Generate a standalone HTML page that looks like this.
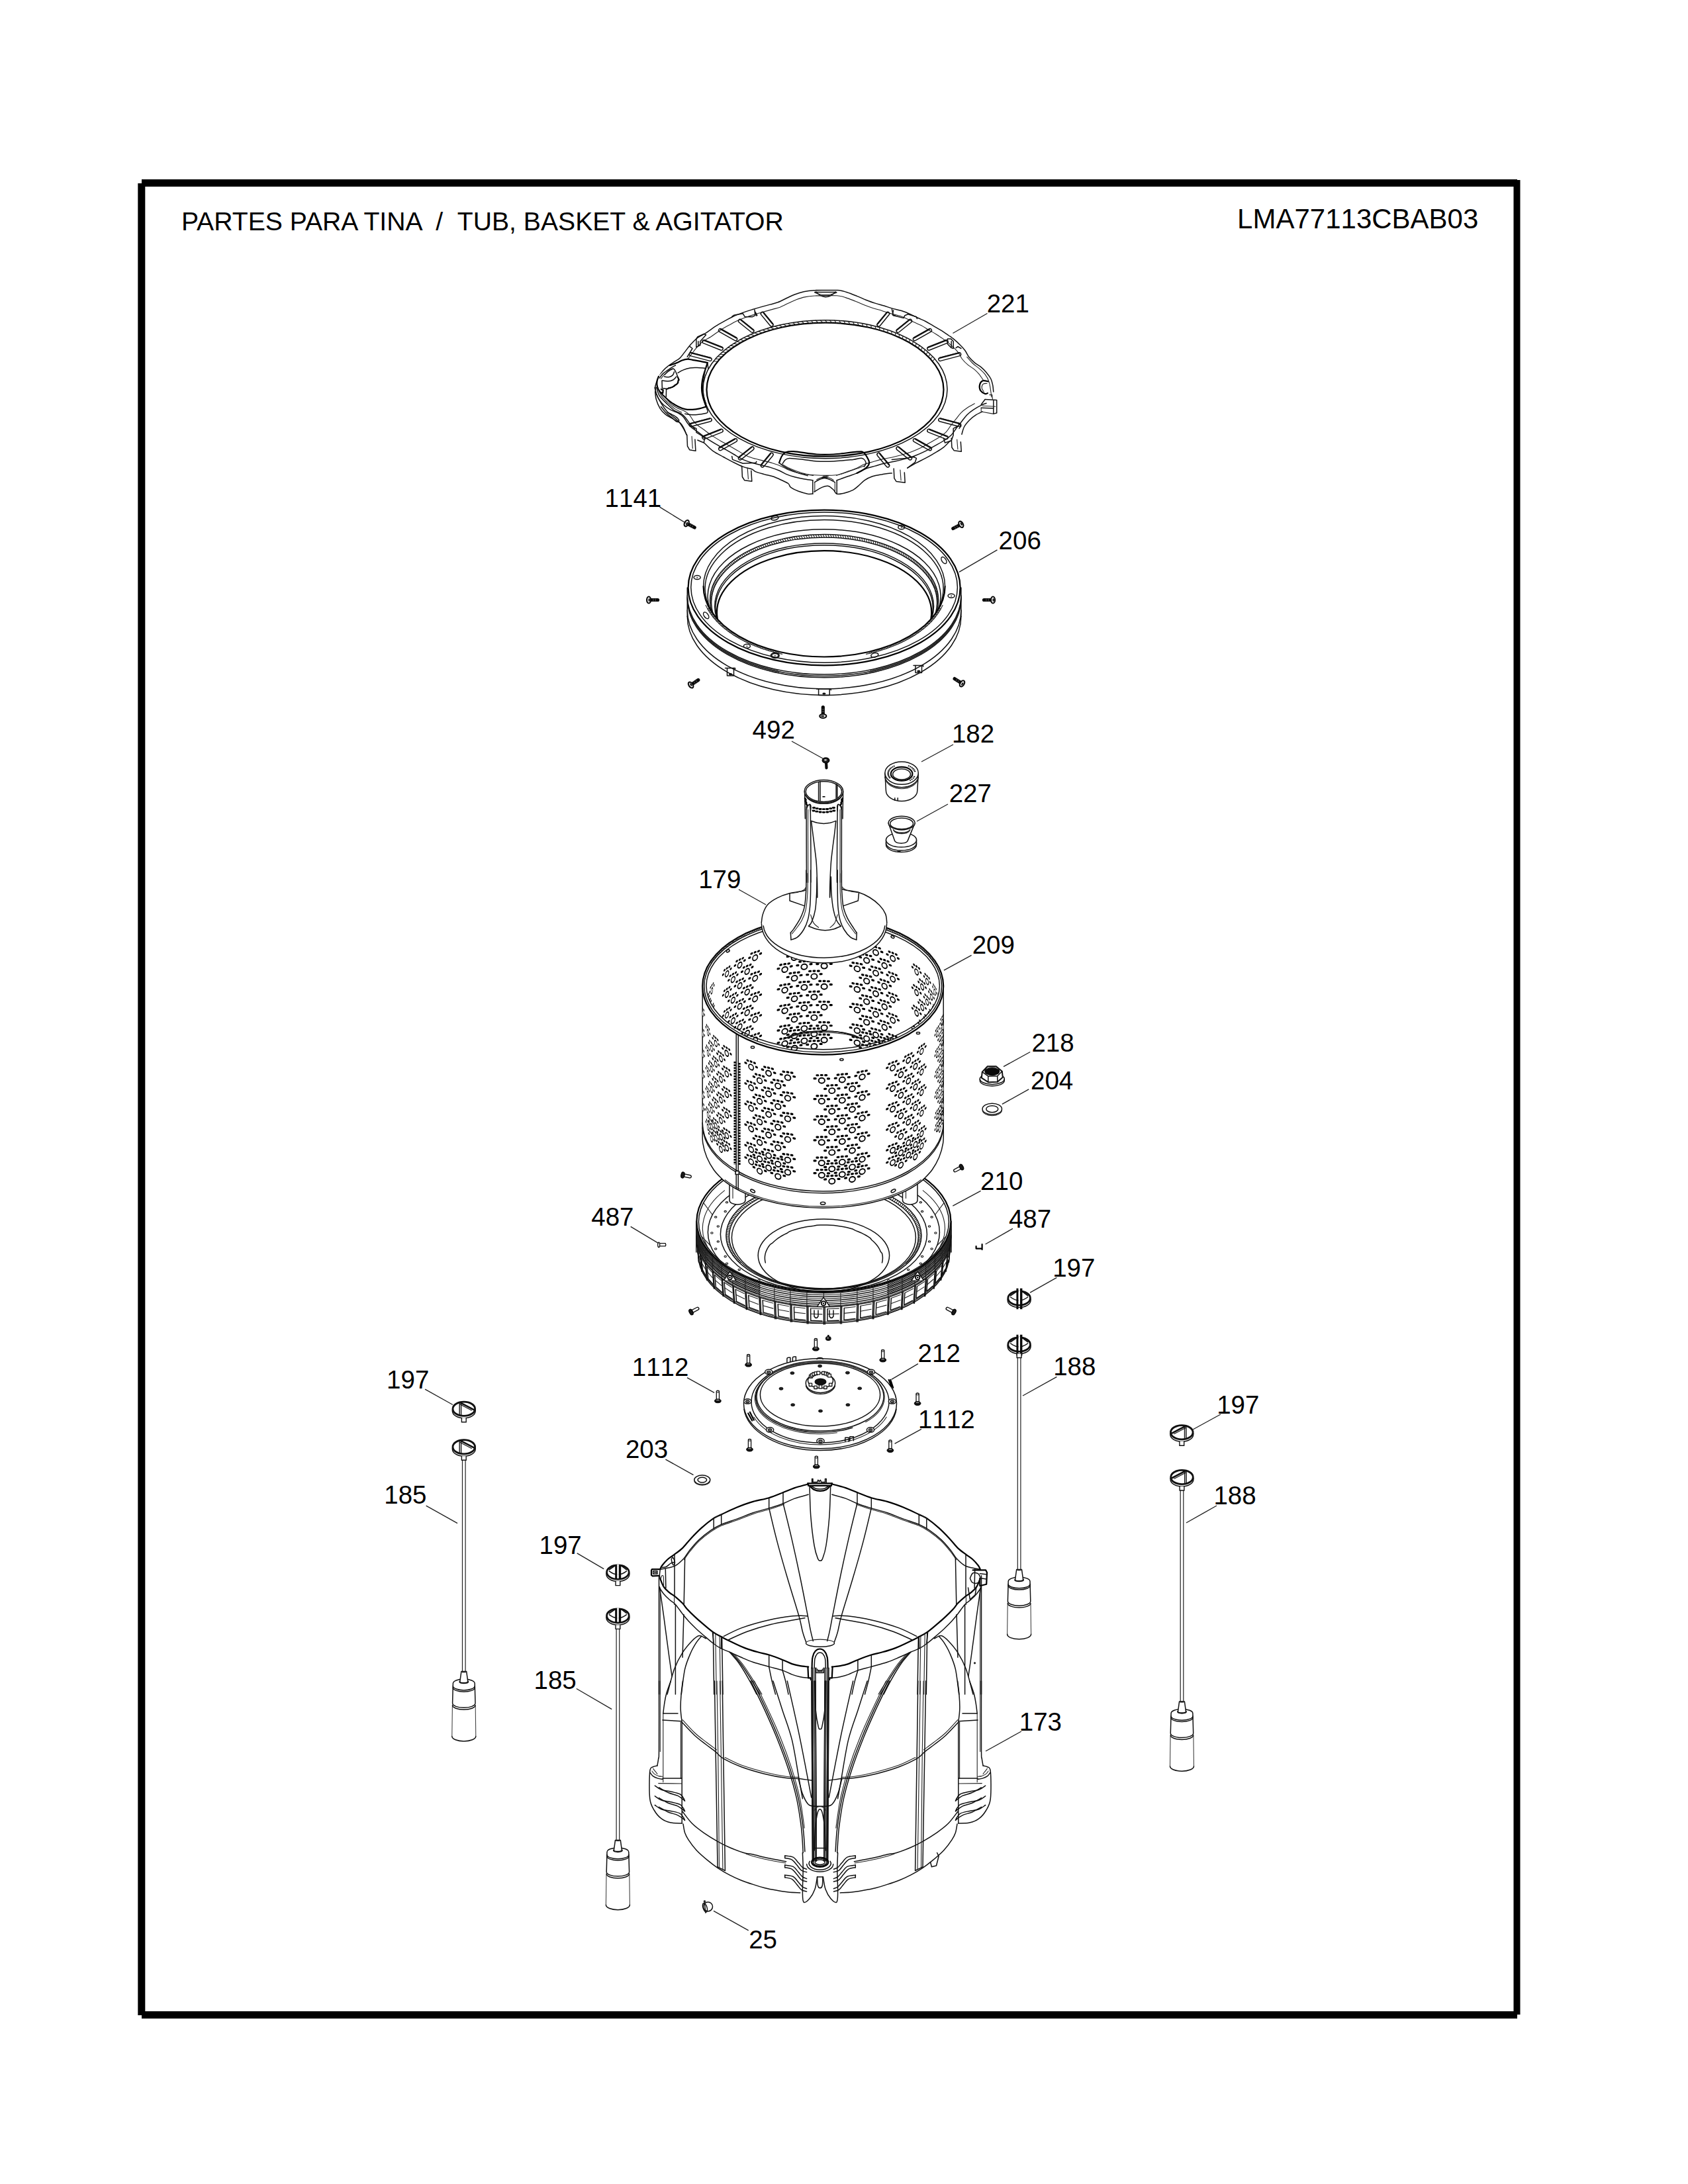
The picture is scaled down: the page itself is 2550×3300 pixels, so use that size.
<!DOCTYPE html>
<html><head><meta charset="utf-8"><title>Tub, Basket &amp; Agitator</title>
<style>
html,body{margin:0;padding:0;background:#fff;}
body{width:2550px;height:3300px;overflow:hidden;}
svg{display:block;position:absolute;left:0;top:0;}
text{font-family:"Liberation Sans",sans-serif;font-kerning:none;fill:#000;}
.l{fill:none;stroke:#111;stroke-width:1.5;stroke-linecap:round;stroke-linejoin:round;}
.t{fill:none;stroke:#222;stroke-width:1.1;stroke-linecap:round;stroke-linejoin:round;}
.h{fill:none;stroke:#000;stroke-width:2.2;stroke-linecap:round;stroke-linejoin:round;}
.w{fill:#fff;stroke:#111;stroke-width:1.5;stroke-linecap:round;stroke-linejoin:round;}
.k{fill:#111;stroke:#111;stroke-width:1;stroke-linejoin:round;}
.ld{fill:none;stroke:#222;stroke-width:1.4;}
</style></head><body>
<svg xmlns="http://www.w3.org/2000/svg" width="2550" height="3300" viewBox="0 0 2550 3300">
<g id="frame"><path d="M214 276.5H2292" stroke="#000" stroke-width="11" fill="none"/><path d="M213.8 277V3045" stroke="#000" stroke-width="11" fill="none"/><path d="M2291.5 272V3044" stroke="#000" stroke-width="10" fill="none"/><path d="M214 3044.5H2292" stroke="#000" stroke-width="11" fill="none"/><text x="273.9" y="348" font-size="39.15" style="font-kerning:normal">PARTES PARA TINA &#160;/ &#160;TUB, BASKET &amp; AGITATOR</text><text x="1869.1" y="345" font-size="42">LMA77113CBAB03</text></g>
<g id="p221"><path class="l" d="M989.3 586.2C989.7 584.9 990.3 581.5 991.3 578.7C992.3 576 993.4 572.7 995.2 569.6C997 566.4 999.6 562.6 1002 559.8C1004.5 557 1007.1 554.7 1009.9 552.6C1012.6 550.4 1015.9 548.5 1018.7 546.7C1021.4 544.9 1024 543.8 1026.5 541.6C1028.9 539.4 1030.9 536.5 1033.3 533.4C1035.8 530.3 1039 525.8 1041.1 523.2C1043.3 520.6 1043.9 519.9 1046 517.8C1048.1 515.6 1050.6 512.7 1053.8 510.3C1057.1 508 1062 505.9 1065.6 503.7C1069.2 501.4 1072.1 499 1075.3 496.8C1078.6 494.6 1081.9 492.4 1085.1 490.4C1088.4 488.4 1091.3 486.9 1094.9 484.9C1098.5 483 1102.1 480.7 1106.6 478.7C1111.2 476.6 1117.4 474.2 1122.3 472.4C1127.2 470.6 1131.7 469.2 1136 467.9C1140.2 466.6 1143.1 465.7 1147.7 464.4C1152.2 463.1 1158.8 461.3 1163.3 460.1C1167.9 458.8 1170.8 458.4 1175.1 456.8C1179.3 455.1 1184.5 452.3 1188.7 450.3C1193 448.3 1196.2 446.6 1200.5 445C1204.7 443.4 1209.3 441.8 1214.2 440.7C1219 439.7 1223.9 439.1 1229.8 438.8C1235.7 438.4 1249 438.6 1249.3 438.6C1249.7 438.5 1229.3 438.6 1232 438.6C1234.6 438.6 1257.4 438.1 1265.2 438.6C1273 439.1 1274 440 1278.9 441.5C1283.8 443 1289.6 445.4 1294.5 447.4C1299.4 449.3 1303.6 451.4 1308.2 453.2C1312.8 455 1317.3 456.7 1321.9 458.1C1326.4 459.6 1331.3 460.7 1335.6 462C1339.8 463.3 1342.1 464.4 1347.3 465.9C1352.5 467.5 1360.3 468.8 1366.9 471.2C1373.4 473.6 1381.2 477.8 1386.4 480.2C1391.6 482.6 1394.2 483.5 1398.1 485.5C1402 487.5 1406 490.1 1409.9 492.3C1413.8 494.6 1417.7 496.7 1421.6 499.2C1425.5 501.6 1430.2 504.9 1433.3 507C1436.4 509.1 1437.2 509.4 1440.2 511.9C1443.1 514.3 1448 518.7 1450.9 521.7C1453.9 524.6 1455.6 526.5 1457.8 529.5C1459.9 532.4 1461.2 536.2 1463.6 539.3C1466.1 542.4 1469.3 545.4 1472.4 548.1C1475.5 550.7 1479.3 552.5 1482.2 554.9C1485.1 557.3 1487.6 559.8 1490 562.7C1492.5 565.7 1495.2 569.2 1496.9 572.5C1498.5 575.8 1499.1 579 1499.8 582.3C1500.4 585.5 1500.6 590.4 1500.8 592"/><path class="t" d="M1013 562.6C1014.3 561.4 1017.9 557.8 1020.5 555.7C1023.1 553.6 1026.3 551.8 1028.9 550.1C1031.5 548.3 1034 547.3 1036.4 545.2C1038.7 543.1 1040.6 540.3 1042.9 537.4C1045.2 534.5 1048.4 530.2 1050.4 527.7C1052.4 525.2 1053 524.5 1055 522.4C1057.1 520.4 1059.4 517.6 1062.5 515.3C1065.6 513.1 1070.3 511.1 1073.7 509C1077.1 506.9 1079.9 504.6 1083 502.5C1086.2 500.4 1089.3 498.2 1092.4 496.3C1095.5 494.4 1098.3 492.9 1101.7 491.1C1105.1 489.2 1108.6 487.1 1112.9 485.1C1117.3 483.1 1123.2 480.8 1127.9 479.1C1132.5 477.4 1136.9 476.1 1140.9 474.8C1145 473.6 1147.8 472.7 1152.1 471.5C1156.5 470.2 1162.7 468.6 1167.1 467.4C1171.4 466.2 1174.2 465.7 1178.3 464.2C1182.3 462.6 1187.3 459.9 1191.3 458C1195.4 456.2 1198.5 454.5 1202.5 453C1206.6 451.5 1210.9 449.9 1215.6 448.9C1220.3 447.9 1224.9 447.4 1230.5 447C1236.1 446.7 1248.9 446.9 1249.2 446.8C1249.6 446.8 1230.1 446.8 1232.6 446.8C1235.1 446.8 1256.9 446.4 1264.3 446.8C1271.8 447.3 1272.8 448.2 1277.4 449.6C1282.1 451 1287.7 453.4 1292.4 455.2C1297 457.1 1301.1 459.1 1305.4 460.8C1309.8 462.5 1314.1 464.1 1318.5 465.5C1322.9 466.9 1327.5 468 1331.6 469.2C1335.6 470.5 1337.8 471.5 1342.8 473C1347.7 474.4 1355.2 475.7 1361.4 478C1367.7 480.3 1375.1 484.3 1380.1 486.6C1385.1 488.9 1387.6 489.7 1391.3 491.6C1395 493.6 1398.8 496 1402.5 498.2C1406.2 500.4 1410 502.4 1413.7 504.7C1417.4 507 1422 510.2 1424.9 512.2C1427.9 514.2 1428.7 514.5 1431.5 516.8C1434.3 519.2 1438.9 523.4 1441.7 526.2C1444.5 529 1446.2 530.8 1448.3 533.6C1450.3 536.4 1451.5 540 1453.9 543C1456.2 545.9 1459.3 548.9 1462.3 551.4C1465.2 553.9 1468.8 555.6 1471.6 557.9C1474.4 560.3 1476.7 562.6 1479.1 565.4C1481.4 568.2 1484.5 573.2 1485.6 574.7"/><path class="l" d="M989.3 585.9C989.7 587.3 990.1 591.6 991.3 594.7C992.4 597.8 994.2 601.5 996.2 604.4C998.1 607.4 1000.2 609.8 1003 612.3C1005.8 614.7 1009.2 617.1 1012.8 619.1C1016.4 621.1 1021.3 622.2 1024.5 624C1027.8 625.8 1030.1 627.4 1032.3 629.9C1034.6 632.3 1036.2 636 1038.2 638.7C1040.2 641.3 1041.5 643.2 1044.1 645.5C1046.7 647.8 1050.3 649.7 1053.8 652.3C1057.4 654.9 1061 658 1065.6 661.1C1070.1 664.2 1076 667.8 1081.2 670.9C1086.4 674 1092.3 677.1 1096.9 679.7C1101.4 682.3 1104.3 684.1 1108.6 686.5C1112.8 689 1117.7 692.3 1122.3 694.4C1126.8 696.5 1131.7 698 1136 699.3C1140.2 700.6 1143.1 701 1147.7 702.2C1152.2 703.3 1158.4 704.6 1163.3 706.1C1168.2 707.6 1172.8 709.2 1177 711C1181.2 712.8 1184.8 715.2 1188.7 716.9C1192.6 718.5 1196.2 719.6 1200.5 720.8C1204.7 721.9 1209.6 722.9 1214.2 723.7C1218.7 724.5 1225.6 725.3 1227.8 725.7"/><path class="l" d="M1264.2 725.7C1267 724.7 1275.8 721.6 1280.8 719.8C1285.9 718 1290 716.9 1294.5 714.9C1299.1 712.9 1303.6 709.8 1308.2 708.1C1312.8 706.3 1317.3 705.4 1321.9 704.1C1326.4 702.8 1330.7 701.4 1335.6 700.2C1340.5 699.1 1346 698.4 1351.2 697.3C1356.4 696.2 1361.6 694.9 1366.9 693.4C1372.1 691.9 1377.3 690.5 1382.5 688.5C1387.7 686.5 1393.2 684.1 1398.1 681.7C1403 679.2 1407.3 676.4 1411.8 673.8C1416.4 671.2 1421.3 668.8 1425.5 666C1429.7 663.3 1434 660.5 1437.2 657.2C1440.5 654 1442.4 649.9 1445.1 646.5C1447.7 643 1450.3 640 1452.9 636.7C1455.5 633.4 1457.8 629.9 1460.7 626.9C1463.6 624 1466.9 621.5 1470.5 619.1C1474.1 616.7 1478.9 613.9 1482.2 612.3C1485.5 610.6 1488.7 609.8 1490 609.3"/><path class="t" d="M1002 592.9C1002.8 594.5 1004.8 599.5 1006.7 602.3C1008.6 605.1 1010.6 607.4 1013.2 609.8C1015.9 612.1 1019.2 614.5 1022.6 616.3C1026 618.2 1030.7 619.3 1033.8 621C1037 622.7 1039.1 624.3 1041.3 626.6C1043.5 629 1045.1 632.6 1046.9 635.1C1048.8 637.6 1050.1 639.4 1052.6 641.6C1055.1 643.8 1058.5 645.7 1061.9 648.2C1065.4 650.7 1068.8 653.6 1073.2 656.6C1077.5 659.6 1083.2 663 1088.2 666C1093.1 668.9 1098.8 671.9 1103.1 674.4C1107.5 676.9 1110.3 678.6 1114.4 680.9C1118.4 683.3 1123.1 686.4 1127.5 688.4C1131.9 690.5 1136.5 691.9 1140.6 693.1C1144.7 694.4 1147.5 694.8 1151.8 695.9C1156.2 697 1162.1 698.3 1166.8 699.7C1171.5 701.1 1175.9 702.6 1179.9 704.4C1184 706.1 1187.4 708.4 1191.2 710C1194.9 711.5 1198.3 712.6 1202.4 713.7C1206.5 714.8 1211.1 715.7 1215.5 716.5C1219.9 717.3 1226.4 718.1 1228.6 718.4"/><path class="t" d="M1263.5 718.4C1266.1 717.5 1274.6 714.5 1279.4 712.8C1284.2 711.1 1288.1 710 1292.5 708.1C1296.9 706.2 1301.2 703.3 1305.6 701.5C1310 699.8 1314.4 699 1318.7 697.8C1323.1 696.5 1327.1 695.1 1331.8 694.1C1336.5 693 1341.8 692.3 1346.8 691.2C1351.8 690.1 1356.8 688.9 1361.8 687.5C1366.8 686.1 1371.8 684.7 1376.8 682.8C1381.8 680.9 1387.1 678.6 1391.8 676.3C1396.4 673.9 1400.5 671.3 1404.9 668.8C1409.2 666.3 1413.9 663.9 1418 661.3C1422 658.6 1426.1 656 1429.2 652.8C1432.3 649.7 1434.2 645.8 1436.7 642.5C1439.2 639.3 1441.7 636.3 1444.2 633.2C1446.7 630.1 1448.9 626.6 1451.7 623.8C1454.5 621 1457.6 618.7 1461.1 616.3C1464.5 614 1470.4 610.9 1472.3 609.8"/><path class="l" d="M989.7 591.7C990 593.7 990 599.2 991.3 603.5C992.5 607.7 994.9 613.4 997.1 617.1C999.4 620.9 1001.7 623.3 1005 625.9C1008.2 628.6 1013.6 630.9 1016.7 632.8C1019.8 634.6 1021.7 636.1 1023.5 637.1C1025.3 638.1 1026 637.2 1027.4 638.7C1028.9 640.1 1030.7 642.4 1032.3 645.5C1034 648.6 1036.4 655.3 1037.2 657.2"/><path class="l" d="M1063.6 669C1065.9 671.1 1072.4 678.1 1077.3 681.7C1082.2 685.2 1088.2 687.9 1092.9 690.5C1097.7 693.1 1100.8 694.9 1105.7 697.3C1110.5 699.7 1117.2 703.2 1122.3 705.1C1127.3 707.1 1132.7 707.7 1136 709C1139.2 710.3 1138.6 711.6 1141.8 712.9C1145.1 714.2 1151.3 715.7 1155.5 716.9C1159.7 718 1163.3 718.5 1167.2 719.8C1171.1 721.1 1175.1 722.9 1179 724.7C1182.9 726.5 1188.1 728.6 1190.7 730.5C1193.3 732.5 1192 734.4 1194.6 736.4C1197.2 738.4 1202.1 740.6 1206.3 742.3C1210.6 743.9 1216.4 745.5 1220 746.2C1223.6 746.8 1226.5 746.2 1227.8 746.2"/><path class="l" d="M1230 743.2C1232 742.1 1238.1 737.9 1241.7 736.4C1245.3 734.9 1248.6 733.8 1251.5 734.4C1254.4 735.1 1257.2 738.4 1259.3 740.3C1261.4 742.3 1261.6 745.4 1264.2 746.2C1266.8 747 1270.9 746.2 1275 745.2C1279 744.2 1285.1 742.1 1288.7 740.3C1292.2 738.5 1293.5 736.9 1296.5 734.4C1299.4 732 1302.7 728.1 1306.2 725.7C1309.8 723.2 1313.7 721.3 1318 719.8C1322.2 718.3 1326.8 717.7 1331.7 716.9C1336.5 716 1344.7 715.2 1347.3 714.9"/><path class="l" d="M1370.8 707.1C1373 705.8 1379.9 701.7 1384.4 699.3C1389 696.8 1393.6 694.9 1398.1 692.4C1402.7 690 1407.3 687.4 1411.8 684.6C1416.4 681.8 1421.6 678.9 1425.5 675.8C1429.4 672.7 1433.6 667.7 1435.3 666"/><path class="l" d="M1452.9 656.2C1453.5 654.3 1454.8 648.1 1456.8 644.5C1458.7 640.9 1461.7 637.7 1464.6 634.7C1467.5 631.8 1471.1 629 1474.4 626.9C1477.6 624.8 1482.5 622.8 1484.2 622"/><path class="l" d="M1227.8 725.7L1227.8 746.2"/><path class="l" d="M1264.2 725.7L1264.2 746.2"/><path class="t" d="M1230.8 728.6L1230.8 743.2"/><path class="t" d="M1261.3 728.6L1261.3 743.2"/><path class="l" d="M1230.8 728.6C1232.2 727.8 1236.5 724.8 1239.6 723.7C1242.7 722.6 1249 722.1 1249.3 721.7C1249.7 721.4 1241.4 721.4 1241.7 721.7C1242.1 722.1 1248.2 722.6 1251.5 723.7C1254.8 724.8 1259.7 727.8 1261.3 728.6"/><path class="t" d="M1233.7 724.7C1235 724.1 1238.6 722 1241.5 721.2C1244.5 720.3 1250.9 720 1251.3 719.8C1251.7 719.6 1243.3 719.6 1243.7 720C1244 720.4 1250.9 721.4 1253.5 722.3C1256.1 723.3 1258.3 725.1 1259.3 725.7"/><path class="l" d="M1037.8 657.2L1038.5 674.1L1041.7 679.7L1050.9 681.3L1049.9 664"/><path class="t" d="M1045.1 659.2L1046.3 677.5"/><path class="l" d="M1120.7 705.1L1121.4 720.5L1124.6 725.7L1135.8 727.2L1134.8 711.3"/><path class="t" d="M1129.2 707.1L1130.4 723.6"/><path class="l" d="M1350.2 708.1L1350.9 722.7L1354.1 727.6L1367.2 729.2L1366.3 713.9"/><path class="t" d="M1359.9 710L1361.1 725.7"/><path class="l" d="M1437.2 662.1L1437.9 676L1441.1 680.7L1452.3 682.2L1451.3 667.7"/><path class="t" d="M1445.7 664.1L1446.9 678.8"/><ellipse class="h" cx="1246.5" cy="588.7" rx="179" ry="101"/><ellipse class="l" cx="1246.5" cy="588.2" rx="184.5" ry="104.5"/><path class="t" d="M1084.3 546L1077.7 546"/><path class="t" d="M1087.3 542.5L1080.7 542.4"/><path class="t" d="M1090.6 539.1L1083.9 538.8"/><path class="t" d="M1094.1 535.8L1087.4 535.3"/><path class="t" d="M1097.8 532.5L1091.1 531.9"/><path class="t" d="M1101.7 529.3L1095 528.5"/><path class="t" d="M1105.9 526.2L1099.2 525.3"/><path class="t" d="M1110.2 523.2L1103.6 522.1"/><path class="t" d="M1114.8 520.3L1108.2 519.1"/><path class="t" d="M1119.6 517.5L1113 516.1"/><path class="t" d="M1124.5 514.8L1118 513.2"/><path class="t" d="M1129.6 512.2L1123.1 510.5"/><path class="t" d="M1134.9 509.7L1128.5 507.9"/><path class="t" d="M1140.4 507.4L1134 505.4"/><path class="t" d="M1146 505.1L1139.7 503"/><path class="t" d="M1151.8 503L1145.6 500.7"/><path class="t" d="M1157.7 501L1151.6 498.6"/><path class="t" d="M1163.7 499.1L1157.8 496.6"/><path class="t" d="M1169.9 497.4L1164.1 494.7"/><path class="t" d="M1176.2 495.8L1170.5 493"/><path class="t" d="M1182.5 494.4L1177 491.4"/><path class="t" d="M1189 493L1183.6 490"/><path class="t" d="M1195.6 491.9L1190.3 488.7"/><path class="t" d="M1202.2 490.8L1197.1 487.5"/><path class="t" d="M1208.9 490L1204 486.5"/><path class="t" d="M1215.7 489.2L1210.9 485.7"/><path class="t" d="M1222.5 488.6L1217.9 485"/><path class="t" d="M1229.3 488.2L1224.9 484.4"/><path class="t" d="M1236.2 487.9L1232 484"/><path class="t" d="M1243.1 487.7L1239.1 483.8"/><path class="t" d="M1249.9 487.7L1246.2 483.7"/><path class="t" d="M1256.8 487.9L1253.3 483.8"/><path class="t" d="M1263.7 488.2L1260.4 484"/><path class="t" d="M1270.5 488.6L1267.4 484.4"/><path class="t" d="M1277.3 489.2L1274.5 484.9"/><path class="t" d="M1284.1 490L1281.4 485.6"/><path class="t" d="M1290.8 490.8L1288.4 486.4"/><path class="t" d="M1297.4 491.9L1295.3 487.4"/><path class="t" d="M1304 493L1302.1 488.6"/><path class="t" d="M1310.5 494.4L1308.8 489.8"/><path class="t" d="M1316.8 495.8L1315.4 491.3"/><path class="t" d="M1323.1 497.4L1322 492.8"/><path class="t" d="M1329.3 499.1L1328.4 494.6"/><path class="t" d="M1335.3 501L1334.7 496.4"/><path class="t" d="M1341.2 503L1340.8 498.4"/><path class="t" d="M1347 505.1L1346.9 500.5"/><path class="t" d="M1352.6 507.4L1352.7 502.8"/><path class="t" d="M1358.1 509.7L1358.5 505.1"/><path class="t" d="M1363.4 512.2L1364 507.6"/><path class="t" d="M1368.5 514.8L1369.4 510.3"/><path class="t" d="M1373.4 517.5L1374.6 513"/><path class="t" d="M1378.2 520.3L1379.6 515.8"/><path class="t" d="M1382.8 523.2L1384.4 518.8"/><path class="t" d="M1387.1 526.2L1389 521.8"/><path class="t" d="M1391.3 529.3L1393.4 525"/><path class="t" d="M1395.2 532.5L1397.6 528.2"/><path class="t" d="M1398.9 535.8L1401.6 531.6"/><path class="t" d="M1402.4 539.1L1405.3 535"/><path class="t" d="M1405.7 542.5L1408.8 538.5"/><path class="t" d="M1408.7 546L1412 542.1"/><path class="l" d="M1419.4 636.8L1448.9 644.6A2.5 2.5 0 0 0 1450.1 639.8L1420.7 632A2.5 2.5 0 0 0 1419.4 636.8Z"/><path d="M1420.6 632.5L1450 640.3" stroke="#111" stroke-width="2.1" stroke-linecap="round" fill="none"/><path class="l" d="M1402.4 653.1L1429.1 663.6A2.5 2.5 0 0 0 1430.9 659L1404.3 648.4A2.5 2.5 0 0 0 1402.4 653.1Z"/><path d="M1404.1 648.9L1430.7 659.4" stroke="#111" stroke-width="2.1" stroke-linecap="round" fill="none"/><path class="l" d="M1380.7 667.4L1403.7 680.4A2.5 2.5 0 0 0 1406.1 676L1383.1 663A2.5 2.5 0 0 0 1380.7 667.4Z"/><path d="M1382.9 663.5L1405.9 676.5" stroke="#111" stroke-width="2.1" stroke-linecap="round" fill="none"/><path class="l" d="M1354.8 679.3L1373.4 694.3A2.5 2.5 0 0 0 1376.6 690.4L1357.9 675.4A2.5 2.5 0 0 0 1354.8 679.3Z"/><path d="M1357.6 675.8L1376.2 690.8" stroke="#111" stroke-width="2.1" stroke-linecap="round" fill="none"/><path class="l" d="M1325.5 688.4L1339.2 705A2.5 2.5 0 0 0 1343.1 701.8L1329.4 685.2A2.5 2.5 0 0 0 1325.5 688.4Z"/><path d="M1329 685.5L1342.7 702.1" stroke="#111" stroke-width="2.1" stroke-linecap="round" fill="none"/><path class="l" d="M1163.6 685.2L1149.9 701.8A2.5 2.5 0 0 0 1153.8 705L1167.5 688.4A2.5 2.5 0 0 0 1163.6 685.2Z"/><path d="M1164 685.5L1150.3 702.1" stroke="#111" stroke-width="2.1" stroke-linecap="round" fill="none"/><path class="l" d="M1135.1 675.4L1116.4 690.4A2.5 2.5 0 0 0 1119.6 694.3L1138.2 679.3A2.5 2.5 0 0 0 1135.1 675.4Z"/><path d="M1135.4 675.8L1116.8 690.8" stroke="#111" stroke-width="2.1" stroke-linecap="round" fill="none"/><path class="l" d="M1109.9 663L1086.9 676A2.5 2.5 0 0 0 1089.3 680.4L1112.3 667.4A2.5 2.5 0 0 0 1109.9 663Z"/><path d="M1110.1 663.5L1087.1 676.5" stroke="#111" stroke-width="2.1" stroke-linecap="round" fill="none"/><path class="l" d="M1088.7 648.4L1062.1 659A2.5 2.5 0 0 0 1063.9 663.6L1090.6 653.1A2.5 2.5 0 0 0 1088.7 648.4Z"/><path d="M1088.9 648.9L1062.3 659.4" stroke="#111" stroke-width="2.1" stroke-linecap="round" fill="none"/><path class="l" d="M1072.3 632L1042.9 639.8A2.5 2.5 0 0 0 1044.1 644.6L1073.6 636.8A2.5 2.5 0 0 0 1072.3 632Z"/><path d="M1072.4 632.5L1043 640.3" stroke="#111" stroke-width="2.1" stroke-linecap="round" fill="none"/><path class="l" d="M1073.6 540.6L1044.1 532.8A2.5 2.5 0 0 0 1042.9 537.6L1072.3 545.4A2.5 2.5 0 0 0 1073.6 540.6Z"/><path d="M1073.5 541L1044 533.3" stroke="#111" stroke-width="2.1" stroke-linecap="round" fill="none"/><path class="l" d="M1090.6 524.3L1063.9 513.8A2.5 2.5 0 0 0 1062.1 518.4L1088.7 529A2.5 2.5 0 0 0 1090.6 524.3Z"/><path d="M1090.4 524.8L1063.7 514.2" stroke="#111" stroke-width="2.1" stroke-linecap="round" fill="none"/><path class="l" d="M1112.3 510L1089.3 497A2.5 2.5 0 0 0 1086.9 501.4L1109.9 514.4A2.5 2.5 0 0 0 1112.3 510Z"/><path d="M1112.1 510.5L1089.1 497.5" stroke="#111" stroke-width="2.1" stroke-linecap="round" fill="none"/><path class="l" d="M1138.2 498.1L1119.6 483.1A2.5 2.5 0 0 0 1116.4 487L1135.1 502A2.5 2.5 0 0 0 1138.2 498.1Z"/><path d="M1137.9 498.5L1119.3 483.5" stroke="#111" stroke-width="2.1" stroke-linecap="round" fill="none"/><path class="l" d="M1167.5 489L1153.8 472.4A2.5 2.5 0 0 0 1149.9 475.6L1163.6 492.2A2.5 2.5 0 0 0 1167.5 489Z"/><path d="M1167.1 489.4L1153.4 472.7" stroke="#111" stroke-width="2.1" stroke-linecap="round" fill="none"/><path class="l" d="M1329.4 492.2L1343.1 475.6A2.5 2.5 0 0 0 1339.2 472.4L1325.5 489A2.5 2.5 0 0 0 1329.4 492.2Z"/><path d="M1325.9 489.4L1339.6 472.7" stroke="#111" stroke-width="2.1" stroke-linecap="round" fill="none"/><path class="l" d="M1357.9 502L1376.6 487A2.5 2.5 0 0 0 1373.4 483.1L1354.8 498.1A2.5 2.5 0 0 0 1357.9 502Z"/><path d="M1355.1 498.5L1373.7 483.5" stroke="#111" stroke-width="2.1" stroke-linecap="round" fill="none"/><path class="l" d="M1383.1 514.4L1406.1 501.4A2.5 2.5 0 0 0 1403.7 497L1380.7 510A2.5 2.5 0 0 0 1383.1 514.4Z"/><path d="M1380.9 510.5L1403.9 497.5" stroke="#111" stroke-width="2.1" stroke-linecap="round" fill="none"/><path class="l" d="M1404.3 529L1430.9 518.4A2.5 2.5 0 0 0 1429.1 513.8L1402.4 524.3A2.5 2.5 0 0 0 1404.3 529Z"/><path d="M1402.6 524.8L1429.3 514.2" stroke="#111" stroke-width="2.1" stroke-linecap="round" fill="none"/><path class="l" d="M1420.7 545.4L1450.1 537.6A2.5 2.5 0 0 0 1448.9 532.8L1419.4 540.6A2.5 2.5 0 0 0 1420.7 545.4Z"/><path d="M1419.5 541L1449 533.3" stroke="#111" stroke-width="2.1" stroke-linecap="round" fill="none"/><path class="l" d="M1232.7 441.1Q1246.5 456.2 1262.3 441.1"/><path class="t" d="M1230.8 441.9Q1246.5 449.3 1264.2 441.9"/><path class="l" d="M1230.8 441.5L1263.2 441.5"/><path d="M1014.8 550.6C1017.2 549.3 1019.3 549.4 1021.9 548.4C1024.5 547.4 1027.6 545.5 1030.4 544.5C1033.3 543.6 1036.4 542.9 1039 542.7C1041.6 542.6 1043.1 543.3 1046.1 543.8C1049 544.3 1052.9 544.9 1056.7 545.6C1060.5 546.3 1067.3 546.2 1068.8 548.1C1070.4 550 1067 553.6 1066 557C1064.9 560.3 1063.4 564.4 1062.4 568.3C1061.5 572.2 1060.6 576.6 1060.3 580.4C1059.9 584.2 1059.9 587.5 1060.3 591.1C1060.6 594.6 1061.4 597.8 1062.4 601.7C1063.5 605.6 1067.6 611.9 1066.7 614.5C1065.7 617.1 1060.2 616.7 1056.7 617.4C1053.3 618.1 1049.6 618.6 1046.1 618.8C1042.5 619 1039 619.1 1035.4 618.4C1031.9 617.7 1028.3 616.2 1024.8 614.5C1021.2 612.8 1017.4 610.5 1014.1 608.1C1010.8 605.8 1007.5 602.7 1004.9 600.3C1002.2 597.9 1000.2 596 998.5 593.9C996.7 591.8 995.2 589.7 994.2 587.5C993.2 585.4 992.6 583.3 992.4 581.1C992.2 579 992.4 576.7 992.8 574.7C993.2 572.7 993.6 571.1 994.9 569C996.2 567 998.5 564.8 1000.6 562.6C1002.7 560.5 1005.3 558.3 1007.7 556.2C1010.1 554.2 1012.4 551.9 1014.8 550.6Z" fill="#fff" stroke="none"/><path class="h" d="M1012 552C1013.6 551.4 1018.8 549.7 1021.9 548.4C1025 547.2 1027.6 545.5 1030.4 544.5C1033.3 543.6 1036.4 542.9 1039 542.7C1041.6 542.6 1043.1 543.3 1046.1 543.8C1049 544.3 1052.9 544.9 1056.7 545.6C1060.5 546.3 1066.8 547.7 1068.8 548.1"/><path class="h" d="M1068.8 548.1C1068.3 549.6 1067 553.6 1066 557C1064.9 560.3 1063.4 564.4 1062.4 568.3C1061.5 572.2 1060.6 576.6 1060.3 580.4C1059.9 584.2 1059.9 587.5 1060.3 591.1C1060.6 594.6 1061.4 597.8 1062.4 601.7C1063.5 605.6 1066 612.4 1066.7 614.5"/><path class="l" d="M1065.6 557C1065.3 559 1064.1 565.1 1063.5 569C1062.9 572.9 1062.1 576.7 1061.9 580.4C1061.6 584.1 1061.5 587.5 1061.9 591.1C1062.2 594.6 1063 598.5 1063.8 601.7C1064.6 604.9 1066.2 608.8 1066.7 610.3"/><path class="h" d="M1066.7 614.5C1065 615 1060.2 616.7 1056.7 617.4C1053.3 618.1 1049.6 618.6 1046.1 618.8C1042.5 619 1039 619.1 1035.4 618.4C1031.9 617.7 1028.3 616.2 1024.8 614.5C1021.2 612.8 1017.4 610.5 1014.1 608.1C1010.8 605.8 1007.5 602.7 1004.9 600.3C1002.2 597.9 1000.2 596 998.5 593.9C996.7 591.8 995.2 589.7 994.2 587.5C993.2 585.4 992.6 583.3 992.4 581.1C992.2 579 992.4 576.7 992.8 574.7C993.2 572.7 994.5 570 994.9 569"/><path class="l" d="M1024 563.4C1025.3 562.6 1028.8 560.3 1031.9 559.1C1034.9 557.8 1039 556.5 1042.5 555.9C1046.1 555.3 1049.5 555.5 1053.2 555.5C1056.9 555.6 1062.7 556.1 1064.6 556.2"/><path class="l" d="M1066.7 614.5C1067.1 615.8 1069.3 620.7 1069.2 622.3C1069.1 624 1068.6 623.8 1066 624.5C1063.3 625.2 1057.1 626.3 1053.2 626.6C1049.3 627 1045.6 626.8 1042.5 626.6C1039.4 626.4 1036 625.4 1034.7 625.2"/><path class="l" d="M1068.8 548.1L1069.9 557"/><path class="l" d="M1004.1 566.2C1005.2 565.1 1008.4 561.3 1010.5 559.8C1012.7 558.3 1015.2 556.6 1016.9 557C1018.7 557.3 1019.7 559.8 1020.8 561.9C1022 564.1 1023.2 567.6 1024 569.8C1024.9 571.9 1025.5 573.9 1025.8 574.7"/><path class="h" d="M1024 570.1L1025.6 573.6L1024.8 574.4L1024 577.9L1024.4 578L1022.8 580L1021.9 580.8L1018.6 582.8L1019.1 583L1017.1 583.9L1016.2 584.7L1012.2 586L1012.7 586.2L1010 586.4L1009.1 587.2L1006.6 587.8L1007 587.9"/><path class="l" d="M1003.4 569C1004.6 569.2 1008.4 570.1 1010.5 569.8C1012.7 569.4 1014.9 568.2 1016.2 566.9C1017.5 565.6 1018.1 562.8 1018.5 561.9"/><path class="l" d="M1000.2 575.1C1001.7 575.3 1006.3 576.3 1009.1 576.1C1011.9 576 1014.8 575.2 1016.9 574C1019.1 572.8 1021.1 569.9 1021.9 569"/><path class="l" d="M1000 575.4L1000.3 586.5L1006.6 587.5L1006.3 599.6"/><path class="h" d="M998.8 588.2L1001.7 589.3L1001.3 593.9L998.5 593.2"/><path class="l" d="M996.3 571.2C997.3 570 999.4 566.4 1002 564.1C1004.6 561.7 1008.9 559 1012 557C1015 554.9 1019.1 552.8 1020.5 552"/><path class="t" d="M998.5 572.2C999.3 571.2 1001.1 568.3 1003.4 566.2C1005.8 564.1 1010.3 561 1012.7 559.4C1015 557.9 1016.8 557.4 1017.6 557"/><path class="l" d="M989.9 584.7C990.2 586.3 989.9 590.6 991.3 594.6C992.8 598.7 995.8 604.5 998.5 608.8C1001.1 613.2 1004.3 617.7 1007 620.9C1009.7 624.1 1011.8 625.4 1014.8 628C1017.8 630.6 1021.9 633.5 1024.8 636.6C1027.6 639.6 1029.7 643.1 1031.9 646.5C1034 649.9 1036.6 655.4 1037.5 657.2"/><path class="l" d="M991.7 585.4C992.5 587.5 993.8 594.2 996.3 598.2C998.9 602.2 1003.4 606 1007 609.6C1010.5 613.1 1014 616.9 1017.6 619.5C1021.3 622.1 1026.1 623.3 1029 625.2C1032 627.1 1033.2 628.3 1035.4 630.9C1037.7 633.5 1040.2 638 1042.5 640.8C1044.9 643.7 1048.4 646.7 1049.6 647.9"/><path class="t" d="M993.6 586.1C994.4 587.9 996 593.5 998.5 597.1C1000.9 600.7 1005 604.4 1008.4 607.8C1011.8 611.2 1015.5 614.8 1019.1 617.4C1022.6 619.9 1027.9 622.1 1029.7 623.1"/><path class="l" d="M998.5 614.5C999.6 615.9 1002.8 620.3 1005.6 623.1C1008.3 625.8 1012.2 628.6 1014.8 630.9C1017.4 633.1 1019.7 635.5 1021.2 636.6C1022.7 637.6 1023.3 637.7 1024 637.4C1024.8 637.1 1026.2 635.9 1025.6 634.6C1025 633.2 1023.4 631.4 1020.5 629.5C1017.6 627.5 1010.4 624.1 1008.4 623.1"/><path class="h" d="M1177 699.3C1177.7 697.6 1179.3 692.1 1180.9 689.5C1182.5 686.9 1183.9 684.9 1186.8 683.6C1189.7 682.4 1190.7 681.6 1198.5 682.1C1206.3 682.5 1223.6 685.8 1233.7 686.5C1243.8 687.3 1249.2 687.2 1259.3 686.5C1269.5 685.9 1287 683.1 1294.5 682.6C1302 682.2 1301.7 682.2 1304.3 683.6C1306.9 685.1 1308.7 688.8 1310.2 691.4C1311.6 694 1313.4 696.7 1313.1 699.3C1312.8 701.9 1311.3 704.5 1308.2 707.1C1305.1 709.7 1296.8 713.6 1294.5 714.9"/><path class="l" d="M1181.9 701.2C1182.5 700.2 1184 696.8 1185.8 695.3C1187.6 693.9 1187.9 692.6 1192.6 692.4C1197.4 692.3 1207.3 693.6 1214.2 694.4C1221 695.1 1226.2 696.5 1233.7 696.9C1241.2 697.3 1250.2 697.3 1259.3 696.9C1268.5 696.5 1281.5 695.1 1288.7 694.4C1295.8 693.6 1299.1 691.6 1302.3 692.4C1305.6 693.2 1307.7 697.1 1308.2 699.3C1308.7 701.4 1305.8 704.1 1305.3 705.1"/><path class="l" d="M1177 699.3C1178.3 700.2 1181.9 703.3 1184.8 705.1C1187.8 706.9 1191 708.4 1194.6 710C1198.2 711.6 1202.1 713.4 1206.3 714.9C1210.6 716.4 1217.7 718.2 1220 718.8"/><path class="t" d="M1182.9 702.2C1184.2 702.9 1187.4 705.2 1190.7 706.7C1194 708.2 1198.2 709.8 1202.4 711.4C1206.7 712.9 1211.5 714.8 1216.1 715.9C1220.7 717 1221.9 717.5 1229.8 717.8C1237.6 718.2 1254.7 718.6 1263.2 717.8C1271.7 717 1275.6 714.6 1280.8 712.9C1286 711.3 1290.4 709.5 1294.5 708.1C1298.6 706.6 1303.5 704.8 1305.3 704.1"/><path class="h" d="M1493 576.4C1491.5 576.2 1486.3 574.4 1484.2 575.4C1482 576.4 1480.3 579.8 1479.9 582.3C1479.4 584.7 1479.9 588 1481.2 590.1C1482.6 592.2 1486.3 594.3 1488.1 595C1489.9 595.6 1491.3 594.2 1492 594"/><path class="t" d="M1491 579.3C1490 579.5 1486.4 579.2 1485.1 580.3C1483.8 581.5 1483 584.3 1483.2 586.2C1483.3 588.1 1485.6 590.7 1486.1 591.7"/><path class="t" d="M1460.7 539.3C1462.2 540.9 1466.4 546.1 1469.5 549C1472.6 552 1476.2 554.1 1479.3 556.9C1482.4 559.6 1485.6 562.4 1488.1 565.7C1490.5 568.9 1492.6 572.7 1493.9 576.4C1495.3 580.1 1495.6 584.2 1496.3 588.1C1496.9 592 1497.6 597.9 1497.8 599.9"/><path class="l" d="M1488.1 603.5L1505.7 604.4L1505.7 624L1500.8 625.4L1500.8 617.1L1482.2 616.2"/><path class="l" d="M1500.8 605.4L1500.8 617.1"/><path class="l" d="M1482.2 611.3L1488.1 603.5"/><path class="t" d="M1482.2 616.2L1482.2 622L1500.8 625.4"/><path class="t" d="M1484.2 613.2L1503.7 614.2"/><path class="t" d="M1494.9 596.6L1498.8 596.6L1499.4 603.1"/><path class="l" d="M1105.7 478.3L1108.6 476.3L1122.3 473.8L1125.2 478.7L1136.9 478.7L1140.8 476.7L1139.9 467.9"/><path class="l" d="M1142.8 477.1L1140.8 471.2L1143.8 476.7"/><path class="l" d="M1051.9 511.9L1053.8 509L1063.6 504.5L1066.5 506L1057.8 515.8L1057.8 521.7L1051.9 524.6L1051.9 511.9"/><path class="l" d="M1042.1 523.6L1046 526.5L1038.2 539.3"/><path class="l" d="M1054.8 515.8L1054.8 522.6"/><path class="l" d="M1347.3 466.9L1349.3 476.7L1354.1 477.7L1364.9 480.6L1366.9 476.7L1371.7 474.7L1384.4 478.7L1385.4 481.6"/><path class="l" d="M1349.6 468.9L1348.3 475.7L1352.2 476.7"/><path class="l" d="M1431.4 511.9L1431.4 519.7L1437.2 525.6L1440.2 526.5L1440.2 515.8L1436.3 511.9L1431.4 511.9"/><path class="l" d="M1444.1 525.6L1447 523.6L1451.9 526.5"/><path class="l" d="M1437.2 515.8L1437.2 524.6"/><path class="l" d="M1041.1 642.6L1051.9 647.4L1051.9 653.3L1059.7 658.2L1064.6 662.1L1063.2 669L1053.8 665"/><path class="l" d="M1105.7 689.5L1106.6 694.4L1122.3 700.2L1141.8 699.3L1142.8 697.3"/><path class="l" d="M1347.3 694.4L1366.9 692.4L1380.5 690.5L1384.4 692.4L1382.5 698.3L1370.8 707.1"/><path class="l" d="M1425.5 662.1L1427.5 669L1437.2 666L1440.2 657.2L1440.2 647.4L1446 644.5"/><path class="l" d="M1446 638.7L1451.9 643.5L1449 647.4"/></g>
<g id="p206"><path class="l" d="M1451.9 900.1A206.8 119 0 0 1 1038.3 900.1"/><path class="l" d="M1451.9 902.5A206.8 119 0 0 1 1038.3 902.5"/><path class="l" d="M1451.9 904.8A206.8 119 0 0 1 1038.3 904.8"/><path class="l" d="M1451.9 921.9A206.8 119 0 0 1 1038.3 921.9"/><path class="l" d="M1451.9 931.4A206.8 119 0 0 1 1038.3 931.4"/><path class="l" d="M1038.3 888L1038.3 931.4"/><path class="l" d="M1451.9 888L1451.9 931.4"/><path class="t" d="M1447.4 924.8L1447 930.6"/><path class="t" d="M1042.8 924.8L1043.2 930.6"/><path class="t" d="M1446.9 926.2L1446.5 931.9"/><path class="t" d="M1043.3 926.2L1043.7 931.9"/><path class="t" d="M1446.4 927.5L1445.9 933.2"/><path class="t" d="M1043.8 927.5L1044.3 933.2"/><path class="t" d="M1445.8 928.8L1445.4 934.5"/><path class="t" d="M1044.4 928.8L1044.8 934.5"/><path class="t" d="M1445.2 930.1L1444.8 935.8"/><path class="t" d="M1045 930.1L1045.4 935.8"/><path class="t" d="M1444.6 931.4L1444.1 937.1"/><path class="t" d="M1045.6 931.4L1046.1 937.1"/><path class="t" d="M1444 932.7L1443.5 938.4"/><path class="t" d="M1046.2 932.7L1046.7 938.4"/><path class="t" d="M1443.3 934L1442.8 939.7"/><path class="t" d="M1046.9 934L1047.4 939.7"/><path class="t" d="M1442.6 935.3L1442.1 941"/><path class="t" d="M1047.6 935.3L1048.1 941"/><path class="t" d="M1441.9 936.6L1441.4 942.3"/><path class="t" d="M1048.3 936.6L1048.8 942.3"/><path class="t" d="M1441.2 937.9L1440.6 943.6"/><path class="t" d="M1049 937.9L1049.6 943.6"/><path class="t" d="M1440.4 939.2L1439.8 944.9"/><path class="t" d="M1049.8 939.2L1050.4 944.9"/><path class="t" d="M1439.6 940.4L1439 946.1"/><path class="t" d="M1050.6 940.4L1051.2 946.1"/><path class="t" d="M1438.8 941.7L1438.2 947.4"/><path class="t" d="M1051.4 941.7L1052 947.4"/><path class="t" d="M1438 943L1437.3 948.7"/><path class="t" d="M1052.2 943L1052.9 948.7"/><path class="t" d="M1437.1 944.2L1436.5 949.9"/><path class="t" d="M1053.1 944.2L1053.7 949.9"/><path class="t" d="M1436.3 945.5L1435.6 951.2"/><path class="t" d="M1053.9 945.5L1054.6 951.2"/><path class="t" d="M1435.3 946.7L1434.6 952.4"/><path class="t" d="M1054.9 946.7L1055.6 952.4"/><path class="t" d="M1434.4 948L1433.7 953.6"/><path class="t" d="M1055.8 948L1056.5 953.6"/><path class="t" d="M1433.5 949.2L1432.7 954.9"/><path class="t" d="M1056.7 949.2L1057.5 954.9"/><path class="t" d="M1432.5 950.5L1431.7 956.1"/><path class="t" d="M1057.7 950.5L1058.5 956.1"/><path class="t" d="M1431.5 951.7L1430.7 957.3"/><path class="t" d="M1058.7 951.7L1059.5 957.3"/><path class="t" d="M1430.4 952.9L1429.6 958.5"/><path class="t" d="M1059.8 952.9L1060.6 958.5"/><path class="t" d="M1429.4 954.1L1428.6 959.7"/><path class="t" d="M1060.8 954.1L1061.6 959.7"/><path class="t" d="M1428.3 955.3L1427.5 960.9"/><path class="t" d="M1061.9 955.3L1062.7 960.9"/><path class="t" d="M1427.2 956.5L1426.3 962.1"/><path class="t" d="M1063 956.5L1063.9 962.1"/><path class="t" d="M1426.1 957.7L1425.2 963.3"/><path class="t" d="M1064.1 957.7L1065 963.3"/><path class="t" d="M1424.9 958.9L1424 964.5"/><path class="t" d="M1065.3 958.9L1066.2 964.5"/><path class="t" d="M1423.7 960L1422.8 965.6"/><path class="t" d="M1066.5 960L1067.4 965.6"/><path class="t" d="M1422.5 961.2L1421.6 966.8"/><path class="t" d="M1067.7 961.2L1068.6 966.8"/><path class="t" d="M1421.3 962.4L1420.4 967.9"/><path class="t" d="M1068.9 962.4L1069.8 967.9"/><path class="t" d="M1420.1 963.5L1419.1 969.1"/><path class="t" d="M1070.1 963.5L1071.1 969.1"/><path class="t" d="M1418.8 964.7L1417.8 970.2"/><path class="t" d="M1071.4 964.7L1072.4 970.2"/><path class="t" d="M1417.5 965.8L1416.5 971.4"/><path class="t" d="M1072.7 965.8L1073.7 971.4"/><path class="t" d="M1416.2 966.9L1415.2 972.5"/><path class="t" d="M1074 966.9L1075 972.5"/><path class="t" d="M1414.9 968L1413.9 973.6"/><path class="t" d="M1075.3 968L1076.3 973.6"/><path class="t" d="M1413.5 969.1L1412.5 974.7"/><path class="t" d="M1076.7 969.1L1077.7 974.7"/><path class="t" d="M1412.2 970.2L1411.1 975.8"/><path class="t" d="M1078 970.2L1079.1 975.8"/><path class="t" d="M1410.8 971.3L1409.7 976.9"/><path class="t" d="M1079.4 971.3L1080.5 976.9"/><path class="t" d="M1409.4 972.4L1408.2 977.9"/><path class="t" d="M1080.8 972.4L1082 977.9"/><path class="t" d="M1407.9 973.5L1406.8 979"/><path class="t" d="M1082.3 973.5L1083.4 979"/><path class="t" d="M1406.4 974.5L1405.3 980"/><path class="t" d="M1083.8 974.5L1084.9 980"/><path class="t" d="M1405 975.6L1403.8 981.1"/><path class="t" d="M1085.2 975.6L1086.4 981.1"/><path class="t" d="M1403.5 976.6L1402.3 982.1"/><path class="t" d="M1086.7 976.6L1087.9 982.1"/><path class="t" d="M1401.9 977.7L1400.8 983.1"/><path class="t" d="M1088.3 977.7L1089.4 983.1"/><path class="t" d="M1400.4 978.7L1399.2 984.2"/><path class="t" d="M1089.8 978.7L1091 984.2"/><path class="t" d="M1398.8 979.7L1397.6 985.2"/><path class="t" d="M1091.4 979.7L1092.6 985.2"/><path class="t" d="M1397.3 980.7L1396 986.2"/><path class="t" d="M1092.9 980.7L1094.2 986.2"/><path class="t" d="M1395.7 981.7L1394.4 987.1"/><path class="t" d="M1094.5 981.7L1095.8 987.1"/><path class="t" d="M1394 982.7L1392.8 988.1"/><path class="t" d="M1096.2 982.7L1097.4 988.1"/><path class="t" d="M1392.4 983.6L1391.1 989.1"/><path class="t" d="M1097.8 983.6L1099.1 989.1"/><path class="t" d="M1390.7 984.6L1389.4 990"/><path class="t" d="M1099.5 984.6L1100.8 990"/><path class="t" d="M1389 985.5L1387.7 991"/><path class="t" d="M1101.2 985.5L1102.5 991"/><path class="t" d="M1387.3 986.5L1386 991.9"/><path class="t" d="M1102.9 986.5L1104.2 991.9"/><path class="t" d="M1385.6 987.4L1384.3 992.8"/><path class="t" d="M1104.6 987.4L1105.9 992.8"/><path class="t" d="M1383.9 988.3L1382.6 993.7"/><path class="t" d="M1106.3 988.3L1107.6 993.7"/><path class="t" d="M1382.1 989.2L1380.8 994.6"/><path class="t" d="M1108.1 989.2L1109.4 994.6"/><path class="t" d="M1380.4 990.1L1379 995.5"/><path class="t" d="M1109.8 990.1L1111.2 995.5"/><path class="t" d="M1378.6 991L1377.2 996.4"/><path class="t" d="M1111.6 991L1113 996.4"/><path class="t" d="M1376.8 991.9L1375.4 997.2"/><path class="t" d="M1113.4 991.9L1114.8 997.2"/><path class="t" d="M1375 992.7L1373.6 998.1"/><path class="t" d="M1115.2 992.7L1116.6 998.1"/><path class="t" d="M1373.1 993.6L1371.7 998.9"/><path class="t" d="M1117.1 993.6L1118.5 998.9"/><path class="t" d="M1371.3 994.4L1369.8 999.7"/><path class="t" d="M1118.9 994.4L1120.4 999.7"/><path class="t" d="M1369.4 995.2L1367.9 1000.5"/><path class="t" d="M1120.8 995.2L1122.3 1000.5"/><path class="t" d="M1367.5 996L1366 1001.3"/><path class="t" d="M1122.7 996L1124.2 1001.3"/><path class="t" d="M1365.6 996.8L1364.1 1002.1"/><path class="t" d="M1124.6 996.8L1126.1 1002.1"/><path class="t" d="M1363.7 997.6L1362.2 1002.9"/><path class="t" d="M1126.5 997.6L1128 1002.9"/><path class="t" d="M1361.7 998.4L1360.3 1003.6"/><path class="t" d="M1128.5 998.4L1129.9 1003.6"/><path class="t" d="M1359.8 999.1L1358.3 1004.4"/><path class="t" d="M1130.4 999.1L1131.9 1004.4"/><path class="t" d="M1357.8 999.9L1356.3 1005.1"/><path class="t" d="M1132.4 999.9L1133.9 1005.1"/><path class="t" d="M1355.9 1000.6L1354.3 1005.8"/><path class="t" d="M1134.3 1000.6L1135.9 1005.8"/><path class="t" d="M1353.9 1001.3L1352.3 1006.6"/><path class="t" d="M1136.3 1001.3L1137.9 1006.6"/><path class="t" d="M1351.9 1002L1350.3 1007.3"/><path class="t" d="M1138.3 1002L1139.9 1007.3"/><path class="t" d="M1349.8 1002.7L1348.3 1007.9"/><path class="t" d="M1140.4 1002.7L1141.9 1007.9"/><path class="t" d="M1347.8 1003.4L1346.2 1008.6"/><path class="t" d="M1142.4 1003.4L1144 1008.6"/><path class="t" d="M1345.7 1004.1L1344.2 1009.3"/><path class="t" d="M1144.5 1004.1L1146 1009.3"/><path class="t" d="M1343.7 1004.7L1342.1 1009.9"/><path class="t" d="M1146.5 1004.7L1148.1 1009.9"/><path class="t" d="M1341.6 1005.3L1340 1010.5"/><path class="t" d="M1148.6 1005.3L1150.2 1010.5"/><path class="t" d="M1339.5 1006L1337.9 1011.1"/><path class="t" d="M1150.7 1006L1152.3 1011.1"/><path class="t" d="M1337.4 1006.6L1335.8 1011.7"/><path class="t" d="M1152.8 1006.6L1154.4 1011.7"/><path class="t" d="M1335.3 1007.2L1333.7 1012.3"/><path class="t" d="M1154.9 1007.2L1156.5 1012.3"/><path class="t" d="M1333.2 1007.8L1331.6 1012.9"/><path class="t" d="M1157 1007.8L1158.6 1012.9"/><path class="t" d="M1331.1 1008.3L1329.4 1013.5"/><path class="t" d="M1159.1 1008.3L1160.8 1013.5"/><path class="t" d="M1328.9 1008.9L1327.3 1014"/><path class="t" d="M1161.3 1008.9L1162.9 1014"/><path class="t" d="M1326.8 1009.4L1325.1 1014.5"/><path class="t" d="M1163.4 1009.4L1165.1 1014.5"/><path class="t" d="M1324.6 1010L1322.9 1015.1"/><path class="t" d="M1165.6 1010L1167.3 1015.1"/><path class="t" d="M1322.4 1010.5L1320.7 1015.6"/><path class="t" d="M1167.8 1010.5L1169.5 1015.6"/><path class="t" d="M1320.2 1011L1318.5 1016"/><path class="t" d="M1170 1011L1171.7 1016"/><path class="t" d="M1318 1011.5L1316.3 1016.5"/><path class="t" d="M1172.2 1011.5L1173.9 1016.5"/><path class="t" d="M1315.8 1011.9L1314.1 1017"/><path class="t" d="M1174.4 1011.9L1176.1 1017"/><ellipse class="h" cx="1245.1" cy="888" rx="205.5" ry="117.4"/><ellipse class="l" cx="1245.1" cy="887.6" rx="201.3" ry="113.6"/><clipPath id="c206"><ellipse cx="1245.1" cy="886.05" rx="182.5" ry="106.55"/></clipPath><g clip-path="url(#c206)"><path class="l" d="M1089.2 941.1A180 103.7 0 1 1 1401 941.1"/><path class="l" d="M1092.7 951.6A176 101.2 0 1 1 1397.5 951.6"/><path class="l" d="M1095.7 956.7A172.5 99.4 0 1 1 1394.5 956.7"/><path class="l" d="M1097.4 959A170.5 98.1 0 1 1 1392.8 959"/><path class="l" d="M1101.9 963.9A165.4 95.2 0 1 1 1388.3 963.9"/><path class="l" d="M1102.9 965.6A164.2 94.5 0 1 1 1387.3 965.6"/><path class="h" d="M1104.7 972.1A162.1 93.3 0 1 1 1385.5 972.1"/><path class="t" d="M1072.7 910.5L1074.6 912.2"/><path class="t" d="M1072.6 908.3L1074.6 910.1"/><path class="t" d="M1072.6 906.2L1074.6 908"/><path class="t" d="M1072.7 904L1074.8 905.9"/><path class="t" d="M1072.8 901.9L1074.9 903.8"/><path class="t" d="M1073.1 899.8L1075.2 901.7"/><path class="t" d="M1073.4 897.6L1075.6 899.6"/><path class="t" d="M1073.8 895.5L1076 897.5"/><path class="t" d="M1074.2 893.4L1076.5 895.4"/><path class="t" d="M1074.8 891.3L1077.1 893.3"/><path class="t" d="M1075.4 889.1L1077.8 891.2"/><path class="t" d="M1076.1 887L1078.5 889.1"/><path class="t" d="M1076.9 884.9L1079.3 887.1"/><path class="t" d="M1077.8 882.9L1080.2 885"/><path class="t" d="M1078.7 880.8L1081.2 883"/><path class="t" d="M1079.7 878.7L1082.2 881"/><path class="t" d="M1080.8 876.7L1083.4 878.9"/><path class="t" d="M1082 874.6L1084.6 876.9"/><path class="t" d="M1083.2 872.6L1085.8 875"/><path class="t" d="M1084.6 870.6L1087.2 873"/><path class="t" d="M1086 868.6L1088.6 871"/><path class="t" d="M1087.4 866.7L1090.1 869.1"/><path class="t" d="M1089 864.7L1091.7 867.2"/><path class="t" d="M1090.6 862.8L1093.3 865.3"/><path class="t" d="M1092.3 860.9L1095 863.4"/><path class="t" d="M1094 859L1096.8 861.6"/><path class="t" d="M1095.9 857.1L1098.7 859.8"/><path class="t" d="M1097.8 855.3L1100.6 858"/><path class="t" d="M1099.7 853.5L1102.6 856.2"/><path class="t" d="M1101.8 851.7L1104.6 854.4"/><path class="t" d="M1103.9 849.9L1106.7 852.7"/><path class="t" d="M1106 848.2L1108.9 851"/><path class="t" d="M1108.3 846.5L1111.1 849.3"/><path class="t" d="M1110.6 844.8L1113.4 847.7"/><path class="t" d="M1112.9 843.1L1115.8 846"/><path class="t" d="M1115.4 841.5L1118.2 844.5"/><path class="t" d="M1117.8 839.9L1120.7 842.9"/><path class="t" d="M1120.4 838.3L1123.3 841.4"/><path class="t" d="M1123 836.8L1125.9 839.9"/><path class="t" d="M1125.6 835.3L1128.5 838.4"/><path class="t" d="M1128.3 833.8L1131.2 837"/><path class="t" d="M1131.1 832.4L1134 835.6"/><path class="t" d="M1133.9 831L1136.8 834.2"/><path class="t" d="M1136.8 829.6L1139.7 832.9"/><path class="t" d="M1139.7 828.3L1142.6 831.6"/><path class="t" d="M1142.7 827L1145.5 830.4"/><path class="t" d="M1145.7 825.8L1148.5 829.1"/><path class="t" d="M1148.7 824.6L1151.6 828"/><path class="t" d="M1151.8 823.4L1154.7 826.8"/><path class="t" d="M1155 822.2L1157.8 825.7"/><path class="t" d="M1158.2 821.1L1161 824.7"/><path class="t" d="M1161.4 820.1L1164.2 823.6"/><path class="t" d="M1164.7 819.1L1167.5 822.7"/><path class="t" d="M1168 818.1L1170.8 821.7"/><path class="t" d="M1171.3 817.1L1174.1 820.8"/><path class="t" d="M1174.7 816.3L1177.4 820"/><path class="t" d="M1178.1 815.4L1180.8 819.1"/><path class="t" d="M1181.6 814.6L1184.2 818.4"/><path class="t" d="M1185 813.8L1187.7 817.6"/><path class="t" d="M1188.5 813.1L1191.2 816.9"/><path class="t" d="M1192.1 812.4L1194.7 816.3"/><path class="t" d="M1195.6 811.8L1198.2 815.7"/><path class="t" d="M1199.2 811.2L1201.7 815.1"/><path class="t" d="M1202.8 810.6L1205.3 814.6"/><path class="t" d="M1206.4 810.1L1208.9 814.1"/><path class="t" d="M1210 809.7L1212.5 813.7"/><path class="t" d="M1213.7 809.3L1216.1 813.3"/><path class="t" d="M1217.3 808.9L1219.7 813"/><path class="t" d="M1221 808.6L1223.4 812.7"/><path class="t" d="M1224.7 808.3L1227 812.5"/><path class="t" d="M1228.4 808.1L1230.7 812.3"/><path class="t" d="M1232.1 807.9L1234.3 812.1"/><path class="t" d="M1235.8 807.7L1238 812"/><path class="t" d="M1239.5 807.7L1241.7 811.9"/><path class="t" d="M1243.2 807.6L1245.3 811.9"/><path class="t" d="M1247 807.6L1249 811.9"/><path class="t" d="M1250.7 807.7L1252.7 812"/><path class="t" d="M1254.4 807.7L1256.4 812.1"/><path class="t" d="M1258.1 807.9L1260 812.3"/><path class="t" d="M1261.8 808.1L1263.7 812.5"/><path class="t" d="M1265.5 808.3L1267.3 812.7"/><path class="t" d="M1269.2 808.6L1271 813"/><path class="t" d="M1272.9 808.9L1274.6 813.4"/><path class="t" d="M1276.5 809.3L1278.2 813.8"/><path class="t" d="M1280.2 809.7L1281.8 814.2"/><path class="t" d="M1283.8 810.1L1285.4 814.7"/><path class="t" d="M1287.4 810.6L1288.9 815.2"/><path class="t" d="M1291 811.2L1292.5 815.8"/><path class="t" d="M1294.6 811.8L1296 816.4"/><path class="t" d="M1298.1 812.4L1299.5 817"/><path class="t" d="M1301.7 813.1L1303 817.7"/><path class="t" d="M1305.2 813.8L1306.4 818.5"/><path class="t" d="M1308.6 814.6L1309.8 819.2"/><path class="t" d="M1312.1 815.4L1313.2 820.1"/><path class="t" d="M1315.5 816.3L1316.6 820.9"/><path class="t" d="M1318.9 817.1L1319.9 821.8"/><path class="t" d="M1322.2 818.1L1323.2 822.8"/><path class="t" d="M1325.5 819.1L1326.4 823.8"/><path class="t" d="M1328.8 820.1L1329.6 824.8"/><path class="t" d="M1332 821.1L1332.8 825.9"/><path class="t" d="M1335.2 822.2L1335.9 827"/><path class="t" d="M1338.4 823.4L1339 828.1"/><path class="t" d="M1341.5 824.6L1342.1 829.3"/><path class="t" d="M1344.5 825.8L1345.1 830.5"/><path class="t" d="M1347.5 827L1348 831.8"/><path class="t" d="M1350.5 828.3L1350.9 833.1"/><path class="t" d="M1353.4 829.6L1353.8 834.4"/><path class="t" d="M1356.3 831L1356.6 835.8"/><path class="t" d="M1359.1 832.4L1359.3 837.2"/><path class="t" d="M1361.9 833.8L1362 838.6"/><path class="t" d="M1364.6 835.3L1364.7 840.1"/><path class="t" d="M1367.2 836.8L1367.3 841.6"/><path class="t" d="M1369.8 838.3L1369.8 843.1"/><path class="t" d="M1372.4 839.9L1372.3 844.7"/><path class="t" d="M1374.8 841.5L1374.7 846.3"/><path class="t" d="M1377.3 843.1L1377.1 847.9"/><path class="t" d="M1379.6 844.8L1379.4 849.5"/><path class="t" d="M1381.9 846.5L1381.6 851.2"/><path class="t" d="M1384.2 848.2L1383.8 852.9"/><path class="t" d="M1386.3 849.9L1385.9 854.7"/><path class="t" d="M1388.4 851.7L1387.9 856.4"/><path class="t" d="M1390.5 853.5L1389.9 858.2"/><path class="t" d="M1392.4 855.3L1391.8 860"/><path class="t" d="M1394.3 857.1L1393.6 861.8"/><path class="t" d="M1396.2 859L1395.4 863.7"/><path class="t" d="M1397.9 860.9L1397.1 865.6"/><path class="t" d="M1399.6 862.8L1398.7 867.5"/><path class="t" d="M1401.2 864.7L1400.3 869.4"/><path class="t" d="M1402.8 866.7L1401.8 871.3"/><path class="t" d="M1404.2 868.6L1403.2 873.3"/><path class="t" d="M1405.6 870.6L1404.5 875.2"/><path class="t" d="M1407 872.6L1405.8 877.2"/><path class="t" d="M1408.2 874.6L1407 879.2"/><path class="t" d="M1409.4 876.7L1408.1 881.2"/><path class="t" d="M1410.5 878.7L1409.1 883.3"/><path class="t" d="M1411.5 880.8L1410.1 885.3"/><path class="t" d="M1412.4 882.9L1411 887.3"/><path class="t" d="M1413.3 884.9L1411.8 889.4"/><path class="t" d="M1414.1 887L1412.5 891.5"/><path class="t" d="M1414.8 889.1L1413.2 893.6"/><path class="t" d="M1415.4 891.3L1413.8 895.6"/><path class="t" d="M1416 893.4L1414.3 897.7"/><path class="t" d="M1416.4 895.5L1414.7 899.8"/><path class="t" d="M1416.8 897.6L1415 901.9"/><path class="t" d="M1417.1 899.8L1415.3 904.1"/><path class="t" d="M1417.4 901.9L1415.5 906.2"/><path class="t" d="M1417.5 904L1415.6 908.3"/><path class="t" d="M1417.6 906.2L1415.6 910.4"/><path class="t" d="M1417.6 908.3L1415.5 912.5"/><path class="t" d="M1417.5 910.5L1415.4 914.6"/></g><path class="l" d="M1062.6 886A182.5 106.5 0 0 1 1427.6 886"/><path class="h" d="M1427.6 886A182.5 106.5 0 0 1 1062.6 886"/><path class="t" d="M1418.7 919L1421.3 920.1"/><path class="t" d="M1071.5 919L1068.9 920.1"/><path class="t" d="M1417.8 920.5L1420.5 921.6"/><path class="t" d="M1072.4 920.5L1069.7 921.6"/><path class="t" d="M1416.9 922L1419.6 923.1"/><path class="t" d="M1073.3 922L1070.6 923.1"/><path class="t" d="M1416 923.4L1418.6 924.6"/><path class="t" d="M1074.2 923.4L1071.6 924.6"/><path class="t" d="M1415 924.9L1417.6 926.1"/><path class="t" d="M1075.2 924.9L1072.6 926.1"/><path class="t" d="M1414 926.4L1416.6 927.6"/><path class="t" d="M1076.2 926.4L1073.6 927.6"/><path class="t" d="M1413 927.8L1415.6 929.1"/><path class="t" d="M1077.2 927.8L1074.6 929.1"/><path class="t" d="M1411.9 929.3L1414.5 930.5"/><path class="t" d="M1078.3 929.3L1075.7 930.5"/><path class="t" d="M1410.8 930.7L1413.3 932"/><path class="t" d="M1079.4 930.7L1076.9 932"/><path class="t" d="M1409.6 932.1L1412.2 933.4"/><path class="t" d="M1080.6 932.1L1078 933.4"/><path class="t" d="M1408.5 933.6L1411 934.9"/><path class="t" d="M1081.7 933.6L1079.2 934.9"/><path class="t" d="M1407.2 935L1409.7 936.3"/><path class="t" d="M1083 935L1080.5 936.3"/><path class="t" d="M1406 936.4L1408.5 937.7"/><path class="t" d="M1084.2 936.4L1081.7 937.7"/><path class="t" d="M1404.7 937.7L1407.1 939.1"/><path class="t" d="M1085.5 937.7L1083.1 939.1"/><path class="t" d="M1403.4 939.1L1405.8 940.5"/><path class="t" d="M1086.8 939.1L1084.4 940.5"/><path class="t" d="M1402 940.5L1404.4 941.9"/><path class="t" d="M1088.2 940.5L1085.8 941.9"/><path class="t" d="M1400.6 941.8L1403 943.3"/><path class="t" d="M1089.6 941.8L1087.2 943.3"/><path class="t" d="M1399.2 943.2L1401.5 944.6"/><path class="t" d="M1091 943.2L1088.7 944.6"/><path class="t" d="M1397.7 944.5L1400.1 946"/><path class="t" d="M1092.5 944.5L1090.1 946"/><path class="t" d="M1396.2 945.8L1398.5 947.3"/><path class="t" d="M1094 945.8L1091.7 947.3"/><path class="t" d="M1394.7 947.1L1397 948.6"/><path class="t" d="M1095.5 947.1L1093.2 948.6"/><path class="t" d="M1393.1 948.4L1395.4 949.9"/><path class="t" d="M1097.1 948.4L1094.8 949.9"/><path class="t" d="M1391.5 949.6L1393.8 951.2"/><path class="t" d="M1098.7 949.6L1096.4 951.2"/><path class="t" d="M1389.9 950.9L1392.1 952.5"/><path class="t" d="M1100.3 950.9L1098.1 952.5"/><path class="t" d="M1388.2 952.1L1390.4 953.8"/><path class="t" d="M1102 952.1L1099.8 953.8"/><path class="t" d="M1386.6 953.4L1388.7 955"/><path class="t" d="M1103.6 953.4L1101.5 955"/><path class="t" d="M1384.8 954.6L1387 956.3"/><path class="t" d="M1105.4 954.6L1103.2 956.3"/><path class="t" d="M1383.1 955.8L1385.2 957.5"/><path class="t" d="M1107.1 955.8L1105 957.5"/><path class="t" d="M1381.3 957L1383.4 958.7"/><path class="t" d="M1108.9 957L1106.8 958.7"/><path class="t" d="M1379.5 958.1L1381.6 959.9"/><path class="t" d="M1110.7 958.1L1108.6 959.9"/><path class="t" d="M1377.6 959.3L1379.7 961"/><path class="t" d="M1112.6 959.3L1110.5 961"/><path class="t" d="M1375.8 960.4L1377.8 962.2"/><path class="t" d="M1114.4 960.4L1112.4 962.2"/><path class="t" d="M1373.9 961.5L1375.9 963.3"/><path class="t" d="M1116.3 961.5L1114.3 963.3"/><path class="t" d="M1372 962.7L1373.9 964.5"/><path class="t" d="M1118.2 962.7L1116.3 964.5"/><path class="t" d="M1370 963.7L1371.9 965.6"/><path class="t" d="M1120.2 963.7L1118.3 965.6"/><path class="t" d="M1368 964.8L1369.9 966.7"/><path class="t" d="M1122.2 964.8L1120.3 966.7"/><path class="t" d="M1366 965.9L1367.9 967.7"/><path class="t" d="M1124.2 965.9L1122.3 967.7"/><path class="t" d="M1364 966.9L1365.8 968.8"/><path class="t" d="M1126.2 966.9L1124.4 968.8"/><path class="t" d="M1361.9 967.9L1363.7 969.8"/><path class="t" d="M1128.3 967.9L1126.5 969.8"/><path class="t" d="M1359.8 968.9L1361.6 970.8"/><path class="t" d="M1130.4 968.9L1128.6 970.8"/><path class="t" d="M1357.7 969.9L1359.4 971.8"/><path class="t" d="M1132.5 969.9L1130.8 971.8"/><path class="t" d="M1355.6 970.9L1357.3 972.8"/><path class="t" d="M1134.6 970.9L1132.9 972.8"/><path class="t" d="M1353.4 971.8L1355.1 973.8"/><path class="t" d="M1136.8 971.8L1135.1 973.8"/><path class="t" d="M1351.2 972.7L1352.9 974.7"/><path class="t" d="M1139 972.7L1137.3 974.7"/><path class="t" d="M1349 973.6L1350.6 975.6"/><path class="t" d="M1141.2 973.6L1139.6 975.6"/><path class="t" d="M1346.8 974.5L1348.4 976.5"/><path class="t" d="M1143.4 974.5L1141.8 976.5"/><path class="t" d="M1344.5 975.4L1346.1 977.4"/><path class="t" d="M1145.7 975.4L1144.1 977.4"/><path class="t" d="M1342.3 976.2L1343.8 978.3"/><path class="t" d="M1147.9 976.2L1146.4 978.3"/><path class="t" d="M1340 977.1L1341.4 979.1"/><path class="t" d="M1150.2 977.1L1148.8 979.1"/><path class="t" d="M1337.7 977.9L1339.1 979.9"/><path class="t" d="M1152.5 977.9L1151.1 979.9"/><path class="t" d="M1335.3 978.7L1336.7 980.7"/><path class="t" d="M1154.9 978.7L1153.5 980.7"/><path class="t" d="M1333 979.4L1334.3 981.5"/><path class="t" d="M1157.2 979.4L1155.9 981.5"/><path class="t" d="M1330.6 980.2L1331.9 982.3"/><path class="t" d="M1159.6 980.2L1158.3 982.3"/><path class="t" d="M1328.2 980.9L1329.5 983"/><path class="t" d="M1162 980.9L1160.7 983"/><path class="t" d="M1325.8 981.6L1327 983.7"/><path class="t" d="M1164.4 981.6L1163.2 983.7"/><path class="t" d="M1323.4 982.3L1324.6 984.4"/><path class="t" d="M1166.8 982.3L1165.6 984.4"/><path class="t" d="M1320.9 983L1322.1 985.1"/><path class="t" d="M1169.3 983L1168.1 985.1"/><path class="t" d="M1318.4 983.6L1319.6 985.8"/><path class="t" d="M1171.8 983.6L1170.6 985.8"/><path class="t" d="M1316 984.2L1317 986.4"/><path class="t" d="M1174.2 984.2L1173.2 986.4"/><path class="t" d="M1313.5 984.8L1314.5 987"/><path class="t" d="M1176.7 984.8L1175.7 987"/><path class="t" d="M1424.1 914.6A185.3 108.3 0 0 1 1308.5 988.4"/><path class="t" d="M1181.7 988.4A185.3 108.3 0 0 1 1066.1 914.6"/><ellipse class="l" cx="1437.1" cy="900.2" rx="5" ry="3"/><circle cx="1437.1" cy="900.5" r="0.9" fill="#222"/><ellipse class="l" cx="1053.2" cy="872.4" rx="5" ry="3"/><circle cx="1053.2" cy="872.7" r="0.9" fill="#222"/><ellipse class="l" cx="1170.5" cy="782.7" rx="5.6" ry="3.1" transform="rotate(-13.7 1170.5 782.7)"/><ellipse class="l" cx="1361.8" cy="796.8" rx="5" ry="3"/><circle cx="1361.8" cy="797.1" r="0.9" fill="#222"/><ellipse class="l" cx="1425.9" cy="846.6" rx="5.6" ry="3.1" transform="rotate(56.9 1425.9 846.6)"/><ellipse class="l" cx="1066.7" cy="929.9" rx="5.6" ry="3.1" transform="rotate(-125.7 1066.7 929.9)"/><ellipse class="l" cx="1128.4" cy="976.2" rx="5" ry="3"/><circle cx="1128.4" cy="976.5" r="0.9" fill="#222"/><ellipse class="l" cx="1170.8" cy="990.4" rx="5" ry="3"/><ellipse class="l" cx="1170.8" cy="990.4" rx="6.4" ry="4"/><circle cx="1170.8" cy="990.7" r="0.9" fill="#222"/><ellipse class="l" cx="1321.3" cy="989.9" rx="5.6" ry="3.1" transform="rotate(166 1321.3 989.9)"/><path class="l" d="M1233.6 1040.9L1255.2 1040.9L1255.2 1042.7"/><path class="l" d="M1236.6 1040.9L1236.6 1050.4L1253.2 1050.4L1253.2 1040.9"/><ellipse cx="1244.9" cy="1048.1" rx="2.6" ry="1.7" fill="#111"/><path class="l" d="M1095.5 1009.5L1110.5 1009.5L1110.5 1011.3"/><path class="l" d="M1098.5 1009.5L1098.5 1021L1108.5 1021L1108.5 1009.5"/><ellipse cx="1103.5" cy="1018.7" rx="2.6" ry="1.7" fill="#111"/><path class="l" d="M1380 1005.5L1394.5 1005.5L1394.5 1007.3"/><path class="l" d="M1383 1005.5L1383 1016.5L1392.5 1016.5L1392.5 1005.5"/><ellipse cx="1387.8" cy="1014.2" rx="2.6" ry="1.7" fill="#111"/><path d="M1039 791.6L1049.2 797" stroke="#0a0a0a" stroke-width="5.2" stroke-linecap="round" fill="none"/><path d="M1042.4 795.4L1044.1 792.2" stroke="#888" stroke-width="0.6" fill="none"/><path d="M1045.4 797L1047 793.8" stroke="#888" stroke-width="0.6" fill="none"/><ellipse cx="1037.2" cy="790.7" rx="3" ry="5" transform="rotate(27.7 1037.2 790.7)" fill="#fff" stroke="#0a0a0a" stroke-width="2.2"/><ellipse cx="1037.8" cy="791" rx="1.2" ry="2.6" transform="rotate(27.7 1037.2 790.7)" fill="#111"/><path d="M1450 793.2L1439.8 798.5" stroke="#0a0a0a" stroke-width="5.2" stroke-linecap="round" fill="none"/><path d="M1444.9 793.8L1446.6 797" stroke="#888" stroke-width="0.6" fill="none"/><path d="M1442 795.4L1443.6 798.6" stroke="#888" stroke-width="0.6" fill="none"/><ellipse cx="1451.8" cy="792.3" rx="3" ry="5" transform="rotate(152.5 1451.8 792.3)" fill="#fff" stroke="#0a0a0a" stroke-width="2.2"/><ellipse cx="1451.2" cy="792.6" rx="1.2" ry="2.6" transform="rotate(152.5 1451.8 792.3)" fill="#111"/><path d="M982.1 906.5L993.6 906.5" stroke="#0a0a0a" stroke-width="5.2" stroke-linecap="round" fill="none"/><path d="M986.9 908.3L986.9 904.7" stroke="#888" stroke-width="0.6" fill="none"/><path d="M990.2 908.3L990.2 904.7" stroke="#888" stroke-width="0.6" fill="none"/><ellipse cx="980.1" cy="906.5" rx="3" ry="5" transform="rotate(0 980.1 906.5)" fill="#fff" stroke="#0a0a0a" stroke-width="2.2"/><ellipse cx="980.7" cy="906.5" rx="1.2" ry="2.6" transform="rotate(0 980.1 906.5)" fill="#111"/><path d="M1498 906.5L1486.5 906.5" stroke="#0a0a0a" stroke-width="5.2" stroke-linecap="round" fill="none"/><path d="M1493.2 904.7L1493.2 908.3" stroke="#888" stroke-width="0.6" fill="none"/><path d="M1489.9 904.7L1489.9 908.3" stroke="#888" stroke-width="0.6" fill="none"/><ellipse cx="1500" cy="906.5" rx="3" ry="5" transform="rotate(180 1500 906.5)" fill="#fff" stroke="#0a0a0a" stroke-width="2.2"/><ellipse cx="1499.4" cy="906.5" rx="1.2" ry="2.6" transform="rotate(180 1500 906.5)" fill="#111"/><path d="M1045.3 1033.9L1054.8 1027.5" stroke="#0a0a0a" stroke-width="5.2" stroke-linecap="round" fill="none"/><path d="M1050.2 1032.8L1048.2 1029.8" stroke="#888" stroke-width="0.6" fill="none"/><path d="M1053 1030.9L1051 1027.9" stroke="#888" stroke-width="0.6" fill="none"/><ellipse cx="1043.6" cy="1035" rx="3" ry="5" transform="rotate(-33.8 1043.6 1035)" fill="#fff" stroke="#0a0a0a" stroke-width="2.2"/><ellipse cx="1044.1" cy="1034.7" rx="1.2" ry="2.6" transform="rotate(-33.8 1043.6 1035)" fill="#111"/><path d="M1451.8 1031.8L1442.1 1025.6" stroke="#0a0a0a" stroke-width="5.2" stroke-linecap="round" fill="none"/><path d="M1448.8 1027.7L1446.8 1030.8" stroke="#888" stroke-width="0.6" fill="none"/><path d="M1445.9 1025.9L1444 1029" stroke="#888" stroke-width="0.6" fill="none"/><ellipse cx="1453.5" cy="1032.9" rx="3" ry="5" transform="rotate(-147.5 1453.5 1032.9)" fill="#fff" stroke="#0a0a0a" stroke-width="2.2"/><ellipse cx="1453" cy="1032.6" rx="1.2" ry="2.6" transform="rotate(-147.5 1453.5 1032.9)" fill="#111"/><path d="M1243.3 1080L1243.3 1068.5" stroke="#0a0a0a" stroke-width="5.2" stroke-linecap="round" fill="none"/><path d="M1245.1 1075.2L1241.5 1075.2" stroke="#888" stroke-width="0.6" fill="none"/><path d="M1245.1 1071.9L1241.5 1071.9" stroke="#888" stroke-width="0.6" fill="none"/><ellipse cx="1243.3" cy="1082" rx="3" ry="5" transform="rotate(-90 1243.3 1082)" fill="#fff" stroke="#0a0a0a" stroke-width="2.2"/><ellipse cx="1243.3" cy="1081.4" rx="1.2" ry="2.6" transform="rotate(-90 1243.3 1082)" fill="#111"/></g>
<g id="small"><path d="M1248 1150.9L1248.5 1160.4" stroke="#0a0a0a" stroke-width="4.2" stroke-linecap="round" fill="none"/><ellipse cx="1247.5" cy="1148.9" rx="5.0" ry="3.6" fill="#222" stroke="#0a0a0a" stroke-width="2"/><ellipse cx="1247" cy="1148.3" rx="2.0" ry="1.1" fill="#ddd"/><path d="M1336.9 1168.1L1338.4 1194.8A23.7 15.7 0 0 0 1385.8 1194.8L1387.3 1168.1Z" class="w"/><ellipse class="w" cx="1362.1" cy="1168.1" rx="25.2" ry="17.2"/><path class="l" d="M1387.2 1174.1A25.2 17.2 0 0 1 1337 1174.1"/><path class="t" d="M1386.8 1177A24.9 17.2 0 0 1 1337.5 1177"/><ellipse class="h" cx="1362.1" cy="1169.3" rx="16.3" ry="10.4"/><ellipse class="l" cx="1362.1" cy="1169.9" rx="13.4" ry="8.2"/><path d="M1345.5 1174.9L1342.9 1175.5" stroke="#111" stroke-width="1.5" fill="none"/><path d="M1344.4 1173.4L1341.7 1173.7" stroke="#111" stroke-width="1.5" fill="none"/><path d="M1343.5 1171.8L1340.9 1171.8" stroke="#111" stroke-width="1.5" fill="none"/><path d="M1343.1 1170.2L1340.4 1169.9" stroke="#111" stroke-width="1.5" fill="none"/><path d="M1342.9 1168.5L1340.4 1168" stroke="#111" stroke-width="1.5" fill="none"/><path d="M1343.2 1166.9L1340.7 1166.1" stroke="#111" stroke-width="1.5" fill="none"/><path d="M1343.7 1165.2L1341.4 1164.2" stroke="#111" stroke-width="1.5" fill="none"/><path d="M1344.6 1163.7L1342.6 1162.4" stroke="#111" stroke-width="1.5" fill="none"/><path d="M1345.8 1162.2L1344 1160.7" stroke="#111" stroke-width="1.5" fill="none"/><path d="M1347.3 1160.8L1345.8 1159.2" stroke="#111" stroke-width="1.5" fill="none"/><path d="M1349.1 1159.6L1347.9 1157.8" stroke="#111" stroke-width="1.5" fill="none"/><path d="M1351.1 1158.6L1350.3 1156.6" stroke="#111" stroke-width="1.5" fill="none"/><path d="M1371.7 1158L1373.7 1156.5" stroke="#111" stroke-width="1.5" fill="none"/><path d="M1374.2 1159.1L1376.4 1157.8" stroke="#111" stroke-width="1.5" fill="none"/><path d="M1376.4 1160.4L1378.8 1159.5" stroke="#111" stroke-width="1.5" fill="none"/><path d="M1378.2 1162L1380.8 1161.3" stroke="#111" stroke-width="1.5" fill="none"/><path d="M1379.7 1163.7L1382.3 1163.3" stroke="#111" stroke-width="1.5" fill="none"/><path d="M1380.7 1165.5L1383.4 1165.5" stroke="#111" stroke-width="1.5" fill="none"/><path d="M1380.2 1173L1382.3 1174.1" stroke="#111" stroke-width="1.5" fill="none"/><path d="M1378.8 1174.9L1380.6 1176.3" stroke="#111" stroke-width="1.5" fill="none"/><path d="M1376.8 1176.7L1378.3 1178.4" stroke="#111" stroke-width="1.5" fill="none"/><path d="M1374.5 1178.2L1375.6 1180.1" stroke="#111" stroke-width="1.5" fill="none"/><path class="l" d="M1351.8 1205.7L1351.8 1209.2"/><path class="l" d="M1356.2 1205.7L1356.2 1209.2"/><path d="M1338.5 1269.1v7.5A23 11 0 0 0 1384.5 1276.6v-7.5Z" class="w"/><path class="l" d="M1384.5 1274.1A23 11 0 0 1 1338.5 1274.1"/><ellipse class="w" cx="1361.5" cy="1269.1" rx="23" ry="11"/><path d="M1355.5 1286.6h5" stroke="#111" stroke-width="2"/><path d="M1342.1 1243.6L1351.8 1270.9A10 4.5 0 0 0 1371 1270.9L1382.1 1243.6Z" class="w"/><ellipse class="w" cx="1362.1" cy="1243.6" rx="20" ry="10.4"/><ellipse class="l" cx="1362.1" cy="1244.4" rx="17.4" ry="8.4"/><path class="l" d="M1374.8 1253.9A13.5 6.5 0 0 1 1349.4 1253.9"/><path class="t" d="M1373.9 1255.7A12.5 6 0 0 1 1350.4 1255.7"/><ellipse cx="1498.8" cy="1630.2" rx="18.5" ry="8.2" class="w"/><path d="M1480.3 1630.2v2.6A18.5 8.2 0 0 0 1517.3 1632.8v-2.6" class="l"/><path d="M1483.8 1619.7L1482.8 1628.7L1492.8 1635.2L1506.8 1634.7L1514.8 1627.7L1513.8 1618.7L1504.8 1611.2L1491.8 1611.2Z" class="w" style="stroke-width:2"/><path d="M1492.8 1626.2v9M1506.8 1625.7v9M1483.8 1619.7L1492.8 1626.2L1506.8 1625.7L1513.8 1618.7" class="l"/><ellipse cx="1498.8" cy="1618.7" rx="11.5" ry="6.6" fill="#0a0a0a"/><path d="M1489.8 1615.2A11.5 6.6 0 0 1 1507.8 1615.2" stroke="#999" stroke-width="0.8" fill="none"/><ellipse class="w" cx="1498.8" cy="1675.7" rx="14.7" ry="8.5"/><path class="t" d="M1513.4 1678.2A14.7 8.5 0 0 1 1484.2 1678.2"/><ellipse class="l" cx="1498.8" cy="1675.7" rx="9" ry="5"/></g>
<g id="p210"><path d="M1050.9 1845.4A192.0 106.6 0 0 1 1437.9 1845.4V1894.0A191.5 105.4 0 0 1 1050.9 1894.0Z" fill="#fff" stroke="none"/><clipPath id="c210"><ellipse cx="1244.4" cy="1845.4" rx="191.0" ry="105.6"/></clipPath><g clip-path="url(#c210)"><ellipse class="l" cx="1244.4" cy="1846.2" rx="189" ry="104.6"/><path class="t" d="M1212.6 1954A183 99.5 0 0 1 1094.5 1798.9"/><path class="t" d="M1394.3 1798.9A183 99.5 0 0 1 1276.2 1954"/><ellipse class="l" cx="1244.4" cy="1862" rx="175" ry="96"/><ellipse class="l" cx="1244.4" cy="1865" rx="156" ry="86"/><ellipse class="l" cx="1244.4" cy="1867" rx="147.5" ry="81.5"/><ellipse class="l" cx="1244.4" cy="1868.5" rx="143" ry="79"/><ellipse class="l" cx="1244.4" cy="1870" rx="139" ry="77"/><path class="t" d="M1116.7 1907.8L1119.6 1907"/><path class="t" d="M1114.5 1905.6L1117.5 1904.9"/><path class="t" d="M1112.5 1903.4L1115.6 1902.8"/><path class="t" d="M1110.5 1901.2L1113.8 1900.7"/><path class="t" d="M1108.7 1899L1112.1 1898.5"/><path class="t" d="M1107 1896.7L1110.5 1896.3"/><path class="t" d="M1105.5 1894.4L1109.1 1894"/><path class="t" d="M1104.1 1892.1L1107.7 1891.7"/><path class="t" d="M1102.7 1889.7L1106.5 1889.5"/><path class="t" d="M1101.6 1887.4L1105.4 1887.2"/><path class="t" d="M1100.5 1885L1104.5 1884.8"/><path class="t" d="M1099.6 1882.6L1103.7 1882.5"/><path class="t" d="M1098.8 1880.1L1103 1880.2"/><path class="t" d="M1098.2 1877.7L1102.4 1877.8"/><path class="t" d="M1097.7 1875.3L1102 1875.4"/><path class="t" d="M1097.3 1872.8L1101.6 1873"/><path class="t" d="M1097 1870.4L1101.5 1870.7"/><path class="t" d="M1096.9 1867.9L1101.4 1868.3"/><path class="t" d="M1096.9 1865.5L1101.5 1865.9"/><path class="t" d="M1097.1 1863L1101.7 1863.5"/><path class="t" d="M1097.4 1860.6L1102 1861.2"/><path class="t" d="M1097.8 1858.1L1102.5 1858.8"/><path class="t" d="M1098.3 1855.7L1103.1 1856.4"/><path class="t" d="M1099 1853.3L1103.8 1854.1"/><path class="t" d="M1099.8 1850.8L1104.7 1851.8"/><path class="t" d="M1100.8 1848.4L1105.6 1849.4"/><path class="t" d="M1101.9 1846.1L1106.7 1847.1"/><path class="t" d="M1103.1 1843.7L1108 1844.9"/><path class="t" d="M1104.4 1841.3L1109.3 1842.6"/><path class="t" d="M1105.9 1839L1110.8 1840.4"/><path class="t" d="M1107.4 1836.7L1112.4 1838.1"/><path class="t" d="M1109.2 1834.5L1114.1 1836"/><path class="t" d="M1111 1832.2L1115.9 1833.8"/><path class="t" d="M1113 1830L1117.9 1831.7"/><path class="t" d="M1115 1827.9L1119.9 1829.6"/><path class="t" d="M1117.2 1825.7L1122.1 1827.5"/><path class="t" d="M1119.5 1823.6L1124.4 1825.5"/><path class="t" d="M1122 1821.6L1126.8 1823.5"/><path class="t" d="M1124.5 1819.5L1129.3 1821.6"/><path class="t" d="M1127.1 1817.6L1131.9 1819.7"/><path class="t" d="M1129.9 1815.6L1134.6 1817.9"/><path class="t" d="M1132.7 1813.8L1137.5 1816.1"/><path class="t" d="M1135.7 1811.9L1140.4 1814.3"/><path class="t" d="M1138.7 1810.1L1143.4 1812.6"/><path class="t" d="M1141.9 1808.4L1146.5 1810.9"/><path class="t" d="M1145.1 1806.7L1149.6 1809.3"/><path class="t" d="M1148.5 1805.1L1152.9 1807.8"/><path class="t" d="M1151.9 1803.5L1156.3 1806.3"/><path class="t" d="M1155.4 1802L1159.7 1804.8"/><path class="t" d="M1159 1800.6L1163.2 1803.5"/><path class="t" d="M1162.6 1799.2L1166.8 1802.1"/><path class="t" d="M1166.4 1797.8L1170.4 1800.9"/><path class="t" d="M1170.2 1796.6L1174.2 1799.7"/><path class="t" d="M1174 1795.4L1178 1798.5"/><path class="t" d="M1178 1794.2L1181.8 1797.5"/><path class="t" d="M1182 1793.2L1185.7 1796.5"/><path class="t" d="M1186 1792.2L1189.7 1795.5"/><path class="t" d="M1190.1 1791.2L1193.7 1794.6"/><path class="t" d="M1298.7 1791.2L1298.9 1795.5"/><path class="t" d="M1302.8 1792.2L1302.8 1796.4"/><path class="t" d="M1306.8 1793.2L1306.7 1797.4"/><path class="t" d="M1310.8 1794.2L1310.6 1798.5"/><path class="t" d="M1314.8 1795.4L1314.4 1799.6"/><path class="t" d="M1318.6 1796.6L1318.1 1800.8"/><path class="t" d="M1322.4 1797.8L1321.7 1802.1"/><path class="t" d="M1326.2 1799.2L1325.3 1803.4"/><path class="t" d="M1329.8 1800.6L1328.8 1804.7"/><path class="t" d="M1333.4 1802L1332.3 1806.2"/><path class="t" d="M1336.9 1803.5L1335.6 1807.7"/><path class="t" d="M1340.3 1805.1L1338.9 1809.2"/><path class="t" d="M1343.7 1806.7L1342.1 1810.8"/><path class="t" d="M1346.9 1808.4L1345.2 1812.5"/><path class="t" d="M1350.1 1810.1L1348.2 1814.2"/><path class="t" d="M1353.1 1811.9L1351.1 1815.9"/><path class="t" d="M1356.1 1813.8L1354 1817.7"/><path class="t" d="M1358.9 1815.6L1356.7 1819.6"/><path class="t" d="M1361.7 1817.6L1359.3 1821.5"/><path class="t" d="M1364.3 1819.5L1361.8 1823.4"/><path class="t" d="M1366.8 1821.6L1364.2 1825.4"/><path class="t" d="M1369.3 1823.6L1366.5 1827.4"/><path class="t" d="M1371.6 1825.7L1368.7 1829.4"/><path class="t" d="M1373.8 1827.9L1370.8 1831.5"/><path class="t" d="M1375.8 1830L1372.7 1833.6"/><path class="t" d="M1377.8 1832.2L1374.6 1835.8"/><path class="t" d="M1379.6 1834.5L1376.3 1838"/><path class="t" d="M1381.4 1836.7L1377.9 1840.2"/><path class="t" d="M1382.9 1839L1379.4 1842.4"/><path class="t" d="M1384.4 1841.3L1380.7 1844.7"/><path class="t" d="M1385.7 1843.7L1382 1847"/><path class="t" d="M1386.9 1846.1L1383.1 1849.3"/><path class="t" d="M1388 1848.4L1384.1 1851.6"/><path class="t" d="M1389 1850.8L1384.9 1853.9"/><path class="t" d="M1389.8 1853.3L1385.7 1856.3"/><path class="t" d="M1390.5 1855.7L1386.3 1858.6"/><path class="t" d="M1391 1858.1L1386.8 1861"/><path class="t" d="M1391.4 1860.6L1387.1 1863.4"/><path class="t" d="M1391.7 1863L1387.3 1865.7"/><path class="t" d="M1391.9 1865.5L1387.4 1868.1"/><path class="t" d="M1391.9 1867.9L1387.4 1870.5"/><path class="t" d="M1391.8 1870.4L1387.2 1872.9"/><path class="t" d="M1391.5 1872.8L1386.9 1875.2"/><path class="t" d="M1391.1 1875.3L1386.4 1877.6"/><path class="t" d="M1390.6 1877.7L1385.9 1880"/><path class="t" d="M1390 1880.1L1385.2 1882.3"/><path class="t" d="M1389.2 1882.6L1384.4 1884.7"/><path class="t" d="M1388.3 1885L1383.4 1887"/><path class="t" d="M1387.2 1887.4L1382.4 1889.3"/><path class="t" d="M1386.1 1889.7L1381.2 1891.6"/><path class="t" d="M1384.7 1892.1L1379.8 1893.8"/><path class="t" d="M1383.3 1894.4L1378.4 1896.1"/><path class="t" d="M1381.8 1896.7L1376.8 1898.3"/><path class="t" d="M1380.1 1899L1375.1 1900.5"/><path class="t" d="M1378.3 1901.2L1373.3 1902.7"/><path class="t" d="M1376.3 1903.4L1371.4 1904.8"/><path class="t" d="M1374.3 1905.6L1369.4 1906.9"/><path class="t" d="M1372.1 1907.8L1367.2 1909"/><path class="t" d="M1059.5 1867.9L1073.2 1882"/><path class="t" d="M1062.7 1817.4L1076.2 1835.5"/><path class="t" d="M1113.1 1771L1122.8 1792.9"/><path class="t" d="M1375.7 1771L1366 1792.9"/><path class="t" d="M1426.1 1817.4L1412.6 1835.5"/><path class="t" d="M1429.3 1867.9L1415.6 1882"/><ellipse cx="1413.4" cy="1863" rx="1.7" ry="1.2" fill="#fff" stroke="#111" stroke-width="1.1"/><ellipse cx="1407.6" cy="1886.9" rx="1.7" ry="1.2" fill="#fff" stroke="#111" stroke-width="1.1"/><ellipse cx="1390.8" cy="1909.2" rx="1.7" ry="1.2" fill="#fff" stroke="#111" stroke-width="1.1"/><ellipse cx="1363.9" cy="1928.4" rx="1.7" ry="1.2" fill="#fff" stroke="#111" stroke-width="1.1"/><ellipse cx="1328.9" cy="1943.1" rx="1.7" ry="1.2" fill="#fff" stroke="#111" stroke-width="1.1"/><ellipse cx="1288.1" cy="1952.3" rx="1.7" ry="1.2" fill="#fff" stroke="#111" stroke-width="1.1"/><ellipse cx="1244.4" cy="1955.5" rx="1.7" ry="1.2" fill="#fff" stroke="#111" stroke-width="1.1"/><ellipse cx="1200.7" cy="1952.3" rx="1.7" ry="1.2" fill="#fff" stroke="#111" stroke-width="1.1"/><ellipse cx="1159.9" cy="1943.1" rx="1.7" ry="1.2" fill="#fff" stroke="#111" stroke-width="1.1"/><ellipse cx="1124.9" cy="1928.4" rx="1.7" ry="1.2" fill="#fff" stroke="#111" stroke-width="1.1"/><ellipse cx="1098" cy="1909.2" rx="1.7" ry="1.2" fill="#fff" stroke="#111" stroke-width="1.1"/><ellipse cx="1081.2" cy="1886.9" rx="1.7" ry="1.2" fill="#fff" stroke="#111" stroke-width="1.1"/><ellipse cx="1075.4" cy="1863" rx="1.7" ry="1.2" fill="#fff" stroke="#111" stroke-width="1.1"/><ellipse cx="1081.2" cy="1839.1" rx="1.7" ry="1.2" fill="#fff" stroke="#111" stroke-width="1.1"/><ellipse cx="1098" cy="1816.8" rx="1.7" ry="1.2" fill="#fff" stroke="#111" stroke-width="1.1"/><ellipse cx="1124.9" cy="1797.6" rx="1.7" ry="1.2" fill="#fff" stroke="#111" stroke-width="1.1"/><ellipse cx="1159.9" cy="1782.9" rx="1.7" ry="1.2" fill="#fff" stroke="#111" stroke-width="1.1"/><ellipse cx="1200.7" cy="1773.7" rx="1.7" ry="1.2" fill="#fff" stroke="#111" stroke-width="1.1"/><ellipse cx="1244.4" cy="1770.5" rx="1.7" ry="1.2" fill="#fff" stroke="#111" stroke-width="1.1"/><ellipse cx="1288.1" cy="1773.7" rx="1.7" ry="1.2" fill="#fff" stroke="#111" stroke-width="1.1"/><ellipse cx="1328.9" cy="1782.9" rx="1.7" ry="1.2" fill="#fff" stroke="#111" stroke-width="1.1"/><ellipse cx="1363.9" cy="1797.6" rx="1.7" ry="1.2" fill="#fff" stroke="#111" stroke-width="1.1"/><ellipse cx="1390.8" cy="1816.8" rx="1.7" ry="1.2" fill="#fff" stroke="#111" stroke-width="1.1"/><ellipse cx="1407.6" cy="1839.1" rx="1.7" ry="1.2" fill="#fff" stroke="#111" stroke-width="1.1"/><ellipse cx="1404" cy="1876.1" rx="1.7" ry="1.2" fill="#fff" stroke="#111" stroke-width="1.1"/><ellipse cx="1393.1" cy="1898.4" rx="1.7" ry="1.2" fill="#fff" stroke="#111" stroke-width="1.1"/><ellipse cx="1372.1" cy="1918.4" rx="1.7" ry="1.2" fill="#fff" stroke="#111" stroke-width="1.1"/><ellipse cx="1342.4" cy="1934.7" rx="1.7" ry="1.2" fill="#fff" stroke="#111" stroke-width="1.1"/><ellipse cx="1306" cy="1946.3" rx="1.7" ry="1.2" fill="#fff" stroke="#111" stroke-width="1.1"/><ellipse cx="1265.4" cy="1952.2" rx="1.7" ry="1.2" fill="#fff" stroke="#111" stroke-width="1.1"/><ellipse cx="1223.4" cy="1952.2" rx="1.7" ry="1.2" fill="#fff" stroke="#111" stroke-width="1.1"/><ellipse cx="1182.8" cy="1946.3" rx="1.7" ry="1.2" fill="#fff" stroke="#111" stroke-width="1.1"/><ellipse cx="1146.4" cy="1934.7" rx="1.7" ry="1.2" fill="#fff" stroke="#111" stroke-width="1.1"/><ellipse cx="1116.7" cy="1918.4" rx="1.7" ry="1.2" fill="#fff" stroke="#111" stroke-width="1.1"/><ellipse cx="1095.7" cy="1898.4" rx="1.7" ry="1.2" fill="#fff" stroke="#111" stroke-width="1.1"/><ellipse cx="1084.8" cy="1876.1" rx="1.7" ry="1.2" fill="#fff" stroke="#111" stroke-width="1.1"/><ellipse cx="1084.8" cy="1852.9" rx="1.7" ry="1.2" fill="#fff" stroke="#111" stroke-width="1.1"/><ellipse cx="1095.7" cy="1830.6" rx="1.7" ry="1.2" fill="#fff" stroke="#111" stroke-width="1.1"/><ellipse cx="1116.7" cy="1810.6" rx="1.7" ry="1.2" fill="#fff" stroke="#111" stroke-width="1.1"/><ellipse cx="1146.4" cy="1794.3" rx="1.7" ry="1.2" fill="#fff" stroke="#111" stroke-width="1.1"/><ellipse cx="1182.8" cy="1782.7" rx="1.7" ry="1.2" fill="#fff" stroke="#111" stroke-width="1.1"/><ellipse cx="1223.4" cy="1776.8" rx="1.7" ry="1.2" fill="#fff" stroke="#111" stroke-width="1.1"/><ellipse cx="1265.4" cy="1776.8" rx="1.7" ry="1.2" fill="#fff" stroke="#111" stroke-width="1.1"/><ellipse cx="1306" cy="1782.7" rx="1.7" ry="1.2" fill="#fff" stroke="#111" stroke-width="1.1"/><ellipse cx="1342.4" cy="1794.3" rx="1.7" ry="1.2" fill="#fff" stroke="#111" stroke-width="1.1"/><ellipse cx="1372.1" cy="1810.6" rx="1.7" ry="1.2" fill="#fff" stroke="#111" stroke-width="1.1"/><ellipse cx="1393.1" cy="1830.6" rx="1.7" ry="1.2" fill="#fff" stroke="#111" stroke-width="1.1"/><ellipse cx="1404" cy="1852.9" rx="1.7" ry="1.2" fill="#fff" stroke="#111" stroke-width="1.1"/><ellipse class="l" cx="1244.4" cy="1897" rx="99.2" ry="55"/><path class="l" d="M1156.3 1907.9L1155.7 1905.1L1155.4 1902.3L1155.4 1899.4L1155.7 1896.6L1156.3 1893.8L1157.2 1891.1L1158.4 1888.3L1159.8 1885.6L1161.5 1883L1163.5 1880.4L1166.9 1878.2L1169.4 1875.8L1172.1 1873.5L1175.1 1871.2L1178.2 1869.1L1181.6 1867L1185.2 1865.1L1189 1863.3L1192.2 1861L1196.4 1859.4L1200.7 1858L1205.2 1856.7L1209.8 1855.5L1214.5 1854.5L1219.4 1853.6L1224.3 1852.9L1229.3 1852.3L1234.1 1851.2L1239.3 1850.9L1244.4 1850.9L1249.5 1850.9L1254.7 1851.2L1259.8 1851.6L1264.8 1852.2L1269.8 1852.9L1274.7 1853.8L1279.5 1854.8L1284.2 1856L1288.7 1857.3L1292.4 1859.4L1296.6 1861L1300.7 1862.7L1304.5 1864.6L1308.1 1866.5L1311.6 1868.6L1314.8 1870.8L1316.7 1873.5L1319.4 1875.8L1321.9 1878.2L1324.1 1880.7L1326 1883.2L1327.7 1885.9L1329.1 1888.5L1330.3 1891.2L1332.5 1893.8L1333.1 1896.6L1333.4 1899.4L1333.4 1902.3L1333.1 1905.1L1332.5 1907.9"/></g><ellipse class="h" cx="1244.4" cy="1845.4" rx="192" ry="106.6"/><path class="l" d="M1436.7 1853.2A192.6 106.6 0 0 1 1052.1 1853.2"/><path class="t" d="M1436.7 1856A192.6 106.6 0 0 1 1052.1 1856"/><path class="l" d="M1436.7 1858.8A192.6 106.6 0 0 1 1052.1 1858.8"/><path class="t" d="M1436.7 1861.6A192.6 106.6 0 0 1 1052.1 1861.6"/><path class="l" d="M1436.7 1864.4A192.6 106.6 0 0 1 1052.1 1864.4"/><path class="t" d="M1436.7 1867.2A192.6 106.6 0 0 1 1052.1 1867.2"/><path class="l" d="M1436.7 1870A192.6 106.6 0 0 1 1052.1 1870"/><path class="t" d="M1436.7 1872.6A192.6 106.6 0 0 1 1052.1 1872.6"/><path class="t" d="M1148.1 1941.3A192.6 106.6 0 0 1 1052.1 1854.6"/><path class="t" d="M1148.1 1944.1A192.6 106.6 0 0 1 1052.1 1857.4"/><path class="t" d="M1148.1 1946.9A192.6 106.6 0 0 1 1052.1 1860.2"/><path class="t" d="M1148.1 1949.7A192.6 106.6 0 0 1 1052.1 1863"/><path class="t" d="M1148.1 1952.5A192.6 106.6 0 0 1 1052.1 1865.8"/><path class="t" d="M1148.1 1955.3A192.6 106.6 0 0 1 1052.1 1868.6"/><path class="t" d="M1436.7 1854.6A192.6 106.6 0 0 1 1340.7 1941.3"/><path class="t" d="M1436.7 1857.4A192.6 106.6 0 0 1 1340.7 1944.1"/><path class="t" d="M1436.7 1860.2A192.6 106.6 0 0 1 1340.7 1946.9"/><path class="t" d="M1436.7 1863A192.6 106.6 0 0 1 1340.7 1949.7"/><path class="t" d="M1436.7 1865.8A192.6 106.6 0 0 1 1340.7 1952.5"/><path class="t" d="M1436.7 1868.6A192.6 106.6 0 0 1 1340.7 1955.3"/><path class="l" d="M1051.8 1845.4V1892"/><path class="l" d="M1437 1845.4V1892"/><path class="l" d="M1436.4 1876.4A192.5 106 0 0 1 1052.4 1876.4"/><path class="l" d="M1433.4 1905A190 105.4 0 0 1 1055.4 1905"/><path class="t" d="M1432.6 1906.5A190 105.4 0 0 1 1056.2 1906.5"/><path class="l" d="M1051.9 1866.8L1054.4 1893.3"/><path class="l" d="M1051.9 1866.8L1054.4 1893.3"/><path class="t" d="M1051.8 1845.2L1051.9 1866.8"/><path class="l" d="M1052.5 1872.9L1054.3 1891.4L1055.1 1900.9"/><path class="t" d="M1053.3 1881.1L1054.1 1890.6"/><path class="t" d="M1052.5 1872.9L1053.3 1882.4"/><path class="l" d="M1053.1 1880.8L1055.6 1907.2"/><path class="l" d="M1053.3 1880.8L1055.8 1907.2"/><path class="t" d="M1053 1859.3L1053.1 1880.8"/><path class="l" d="M1054.4 1886.8L1056.2 1905.3L1059.3 1914.6"/><path class="t" d="M1055.2 1895.1L1058.3 1904.4"/><path class="t" d="M1054.4 1886.8L1057.5 1896.2"/><path class="l" d="M1057.6 1894.6L1060 1921"/><path class="l" d="M1058.1 1894.6L1060.5 1921"/><path class="t" d="M1057.5 1873.2L1057.6 1894.6"/><path class="l" d="M1059.6 1900.6L1061.4 1918.9L1066.6 1928"/><path class="t" d="M1060.4 1908.8L1065.7 1917.8"/><path class="t" d="M1059.6 1900.6L1064.9 1909.7"/><path class="l" d="M1065.4 1908L1067.7 1934.3"/><path class="l" d="M1066.1 1908L1068.4 1934.3"/><path class="t" d="M1065.3 1886.6L1065.4 1908"/><path class="l" d="M1068.1 1913.8L1069.8 1932.1L1077.2 1940.7"/><path class="t" d="M1068.9 1922L1076.3 1930.6"/><path class="t" d="M1068.1 1913.8L1075.5 1922.4"/><path class="l" d="M1076.4 1920.7L1078.5 1946.9"/><path class="l" d="M1077.2 1920.7L1079.4 1946.9"/><path class="t" d="M1076.3 1899.4L1076.4 1920.7"/><path class="l" d="M1079.7 1926.3L1081.3 1944.5L1090.6 1952.5"/><path class="t" d="M1080.4 1934.4L1089.8 1942.4"/><path class="t" d="M1079.7 1926.3L1089.1 1934.3"/><path class="l" d="M1090.3 1932.5L1092.3 1958.6"/><path class="l" d="M1091.3 1932.5L1093.3 1958.6"/><path class="t" d="M1090.2 1911.3L1090.3 1932.5"/><path class="l" d="M1094.1 1937.8L1095.6 1956L1106.8 1963.2"/><path class="t" d="M1094.8 1945.9L1106 1953.2"/><path class="t" d="M1094.1 1937.8L1105.4 1945"/><path class="l" d="M1106.9 1943.2L1108.7 1969.2"/><path class="l" d="M1108.1 1943.2L1109.9 1969.2"/><path class="t" d="M1106.8 1922L1106.9 1943.2"/><path class="l" d="M1111.3 1948.2L1112.5 1966.4L1125.3 1972.7"/><path class="t" d="M1111.8 1956.3L1124.7 1962.6"/><path class="t" d="M1111.3 1948.2L1124.2 1954.5"/><path class="l" d="M1125.9 1952.5L1127.4 1978.6"/><path class="l" d="M1127.3 1952.5L1128.8 1978.6"/><path class="t" d="M1125.8 1931.4L1125.9 1952.5"/><path class="l" d="M1130.7 1957.2L1131.8 1975.4L1146 1980.7"/><path class="t" d="M1131.2 1965.3L1145.5 1970.7"/><path class="t" d="M1130.7 1957.2L1145 1962.6"/><path class="l" d="M1147 1960.4L1148.3 1986.4"/><path class="l" d="M1148.5 1960.4L1149.8 1986.4"/><path class="t" d="M1146.9 1939.3L1147 1960.4"/><path class="l" d="M1152.2 1964.7L1153 1982.9L1168.4 1987.1"/><path class="t" d="M1152.5 1972.8L1168 1977.1"/><path class="t" d="M1152.2 1964.7L1167.6 1969"/><path class="l" d="M1169.8 1966.7L1170.8 1992.7"/><path class="l" d="M1171.5 1966.7L1172.4 1992.7"/><path class="t" d="M1169.8 1945.7L1169.8 1966.7"/><path class="l" d="M1175.2 1970.7L1175.9 1988.7L1192.1 1991.8"/><path class="t" d="M1175.5 1978.7L1191.8 1981.8"/><path class="t" d="M1175.2 1970.7L1191.6 1973.8"/><path class="l" d="M1193.9 1971.3L1194.6 1997.2"/><path class="l" d="M1195.7 1971.3L1196.3 1997.2"/><path class="t" d="M1193.9 1950.3L1193.9 1971.3"/><path class="l" d="M1199.5 1974.8L1199.9 1992.9L1216.8 1994.8"/><path class="t" d="M1199.7 1982.9L1216.6 1984.8"/><path class="t" d="M1199.5 1974.8L1216.5 1976.7"/><path class="l" d="M1218.9 1974.1L1219.3 2000"/><path class="l" d="M1220.7 1974.1L1221.1 2000"/><path class="t" d="M1218.9 1953.1L1218.9 1974.1"/><path class="l" d="M1224.6 1977.2L1224.8 1995.3L1241.9 1995.9"/><path class="t" d="M1224.7 1985.3L1241.9 1985.9"/><path class="t" d="M1224.6 1977.2L1241.9 1977.8"/><path class="l" d="M1244.4 1975L1244.4 2000.9"/><path class="l" d="M1246.2 1975L1246.2 2000.9"/><path class="t" d="M1244.4 1954L1244.4 1975"/><path class="l" d="M1250 1977.7L1249.9 1995.8L1267.1 1995.2"/><path class="t" d="M1250 1985.8L1267.2 1985.1"/><path class="t" d="M1250 1977.7L1267.3 1977.1"/><path class="l" d="M1269.9 1974.1L1269.5 2000"/><path class="l" d="M1271.6 1974.1L1271.3 2000"/><path class="t" d="M1269.9 1953.1L1269.9 1974.1"/><path class="l" d="M1275.3 1976.4L1275 1994.4L1291.8 1992.6"/><path class="t" d="M1275.2 1984.4L1292.1 1982.6"/><path class="t" d="M1275.3 1976.4L1292.3 1974.5"/><path class="l" d="M1294.9 1971.3L1294.2 1997.2"/><path class="l" d="M1296.6 1971.3L1296 1997.2"/><path class="t" d="M1294.9 1950.3L1294.9 1971.3"/><path class="l" d="M1300.1 1973.2L1299.6 1991.3L1315.8 1988.2"/><path class="t" d="M1299.9 1981.3L1316.2 1978.2"/><path class="t" d="M1300.1 1973.2L1316.5 1970.1"/><path class="l" d="M1319 1966.7L1318 1992.7"/><path class="l" d="M1320.7 1966.7L1319.7 1992.7"/><path class="t" d="M1319 1945.7L1319 1966.7"/><path class="l" d="M1323.9 1968.3L1323.1 1986.4L1338.5 1982.1"/><path class="t" d="M1323.6 1976.3L1339 1972.1"/><path class="t" d="M1323.9 1968.3L1339.4 1964"/><path class="l" d="M1341.8 1960.4L1340.5 1986.4"/><path class="l" d="M1343.4 1960.4L1342.1 1986.4"/><path class="t" d="M1341.9 1939.3L1341.8 1960.4"/><path class="l" d="M1346.3 1961.6L1345.3 1979.8L1359.5 1974.4"/><path class="t" d="M1345.9 1969.7L1360.1 1964.4"/><path class="t" d="M1346.3 1961.6L1360.6 1956.3"/><path class="l" d="M1362.9 1952.5L1361.4 1978.6"/><path class="l" d="M1364.3 1952.5L1362.8 1978.6"/><path class="t" d="M1363 1931.4L1362.9 1952.5"/><path class="l" d="M1366.9 1953.4L1365.7 1971.6L1378.5 1965.2"/><path class="t" d="M1366.4 1961.5L1379.2 1955.2"/><path class="t" d="M1366.9 1953.4L1379.8 1947"/><path class="l" d="M1381.9 1943.2L1380.1 1969.2"/><path class="l" d="M1383.2 1943.2L1381.4 1969.2"/><path class="t" d="M1382 1922L1381.9 1943.2"/><path class="l" d="M1385.4 1943.8L1384 1962L1395.2 1954.7"/><path class="t" d="M1384.8 1951.9L1396 1944.6"/><path class="t" d="M1385.4 1943.8L1396.6 1936.5"/><path class="l" d="M1398.5 1932.5L1396.5 1958.6"/><path class="l" d="M1399.6 1932.5L1397.6 1958.6"/><path class="t" d="M1398.6 1911.3L1398.5 1932.5"/><path class="l" d="M1401.4 1932.9L1399.8 1951.1L1409.2 1943.1"/><path class="t" d="M1400.7 1941L1410.1 1933"/><path class="t" d="M1401.4 1932.9L1410.8 1924.9"/><path class="l" d="M1412.4 1920.7L1410.3 1946.9"/><path class="l" d="M1413.3 1920.7L1411.1 1946.9"/><path class="t" d="M1412.5 1899.4L1412.4 1920.7"/><path class="l" d="M1414.6 1920.9L1412.9 1939.2L1420.3 1930.6"/><path class="t" d="M1413.8 1929L1421.2 1920.4"/><path class="t" d="M1414.6 1920.9L1422 1912.3"/><path class="l" d="M1423.4 1908L1421.1 1934.3"/><path class="l" d="M1424 1908L1421.7 1934.3"/><path class="t" d="M1423.5 1886.6L1423.4 1908"/><path class="l" d="M1424.8 1908.1L1423.1 1926.4L1428.3 1917.4"/><path class="t" d="M1424 1916.2L1429.3 1907.2"/><path class="t" d="M1424.8 1908.1L1430.1 1899"/><path class="l" d="M1431.2 1894.6L1428.8 1921"/><path class="l" d="M1431.6 1894.6L1429.2 1921"/><path class="t" d="M1431.3 1873.2L1431.2 1894.6"/><path class="l" d="M1431.9 1894.6L1430.1 1913L1433.1 1903.6"/><path class="t" d="M1431.1 1902.8L1434.1 1893.4"/><path class="t" d="M1431.9 1894.6L1435 1885.2"/><path class="l" d="M1435.7 1880.8L1433.2 1907.2"/><path class="l" d="M1435.9 1880.8L1433.4 1907.2"/><path class="t" d="M1435.8 1859.3L1435.7 1880.8"/><path class="l" d="M1435.7 1880.7L1433.8 1899.2L1434.6 1889.7"/><path class="t" d="M1434.8 1889L1435.6 1879.4"/><path class="t" d="M1435.7 1880.7L1436.4 1871.2"/><path class="l" d="M1436.9 1866.8L1434.4 1893.3"/><path class="l" d="M1436.8 1866.8L1434.3 1893.3"/><path class="t" d="M1437 1845.2L1436.9 1866.8"/><path d="M1235 1973.4L1244 1960.4L1253 1973.4" class="w"/><circle cx="1244" cy="1969.4" r="3.3" fill="#fff" stroke="#000" stroke-width="1.8"/><circle cx="1244" cy="1969.4" r="1.2" fill="#000"/><path d="M1093.6 1934.3L1102.6 1921.3L1111.6 1934.3" class="w"/><circle cx="1102.6" cy="1930.3" r="3.3" fill="#fff" stroke="#000" stroke-width="1.8"/><circle cx="1102.6" cy="1930.3" r="1.2" fill="#000"/><path d="M1377.2 1934.3L1386.2 1921.3L1395.2 1934.3" class="w"/><circle cx="1386.2" cy="1930.3" r="3.3" fill="#fff" stroke="#000" stroke-width="1.8"/><circle cx="1386.2" cy="1930.3" r="1.2" fill="#000"/><path class="l" d="M1230 1980v9q3 5 6 0v-9"/><path class="l" d="M1253 1980v9q3 5 6 0v-9"/></g>
<g id="p209"><defs><g id="pf"><ellipse cx="0" cy="0.6" rx="4.6" ry="4.0" fill="#fff" stroke="#000" stroke-width="1.9"/><rect x="-12.8" y="-4.2" width="5.2" height="3.2" rx="1.5" fill="#000"/><rect x="-8.9" y="-9" width="5" height="3.2" rx="1.5" fill="#000"/><rect x="-2.5" y="-9.3" width="5" height="3.2" rx="1.5" fill="#000"/><rect x="3.9" y="-9.2" width="5" height="3.2" rx="1.5" fill="#000"/><rect x="7.6" y="-4" width="5.2" height="3.2" rx="1.5" fill="#000"/></g></defs><path d="M1102 1770V1813.5A12 6.5 0 0 0 1126 1813.5V1770Z" class="w"/><path d="M1107 1790V1810.5" class="t"/><path d="M1363.5 1770V1813.5A11.2 6.5 0 0 0 1386 1813.5V1770Z" class="w"/><path d="M1368.5 1790V1810.5" class="t"/><path d="M1061.2 1490.0A182.0 103.6 0 0 1 1425.2 1490.0V1705L1425.2 1705C1425.1 1708.7 1425.7 1720.1 1424.6 1727.4C1423.5 1734.7 1421.4 1742 1418.6 1748.7C1415.8 1755.4 1412 1762.1 1408 1767.7C1404 1773.3 1397.1 1779.8 1394.9 1782.2A175.0 85.5 0 0 1 1091.5 1782.2L1091.5 1782.2C1089.3 1779.8 1082.4 1773.3 1078.4 1767.7C1074.5 1762.1 1070.6 1755.4 1067.8 1748.7C1065 1742 1062.9 1734.7 1061.8 1727.4C1060.7 1720.1 1061.3 1708.7 1061.2 1705Z" fill="#fff" stroke="none"/><clipPath id="c209i"><ellipse cx="1243.2" cy="1491.0" rx="175.5" ry="99.4"/></clipPath><g clip-path="url(#c209i)"><use href="#pf" transform="matrix(0.319 -0.486 0 1 1411 1560.7)"/><use href="#pf" transform="matrix(0.319 -0.486 0 1 1411 1591.8)"/><use href="#pf" transform="matrix(0.319 -0.486 0 1 1411 1622.9)"/><use href="#pf" transform="matrix(0.319 -0.486 0 1 1411 1654)"/><use href="#pf" transform="matrix(0.319 -0.486 0 1 1411 1685.1)"/><use href="#pf" transform="matrix(0.319 -0.486 0 1 1411 1703.7)"/><use href="#pf" transform="matrix(0.300 -0.498 0 1 1415.2 1568)"/><use href="#pf" transform="matrix(0.300 -0.498 0 1 1415.2 1599.1)"/><use href="#pf" transform="matrix(0.300 -0.498 0 1 1415.2 1630.2)"/><use href="#pf" transform="matrix(0.300 -0.498 0 1 1415.2 1661.3)"/><use href="#pf" transform="matrix(0.300 -0.498 0 1 1415.2 1686.2)"/><use href="#pf" transform="matrix(0.300 -0.498 0 1 1415.2 1704.8)"/><use href="#pf" transform="matrix(0.300 -0.506 0 1 1418.1 1544)"/><use href="#pf" transform="matrix(0.300 -0.506 0 1 1418.1 1575.1)"/><use href="#pf" transform="matrix(0.300 -0.506 0 1 1418.1 1606.2)"/><use href="#pf" transform="matrix(0.300 -0.506 0 1 1418.1 1637.3)"/><use href="#pf" transform="matrix(0.300 -0.506 0 1 1418.1 1668.4)"/><use href="#pf" transform="matrix(0.300 -0.506 0 1 1418.1 1687)"/><use href="#pf" transform="matrix(0.300 -0.511 0 1 1419.8 1551)"/><use href="#pf" transform="matrix(0.300 -0.511 0 1 1419.8 1582.1)"/><use href="#pf" transform="matrix(0.300 -0.511 0 1 1419.8 1613.2)"/><use href="#pf" transform="matrix(0.300 -0.511 0 1 1419.8 1644.3)"/><use href="#pf" transform="matrix(0.300 -0.511 0 1 1419.8 1669.2)"/><use href="#pf" transform="matrix(0.300 -0.511 0 1 1419.8 1687.8)"/><use href="#pf" transform="matrix(-0.300 -0.512 0 1 1420.2 1526.8)"/><use href="#pf" transform="matrix(-0.300 -0.512 0 1 1420.2 1557.9)"/><use href="#pf" transform="matrix(-0.300 -0.512 0 1 1420.2 1589)"/><use href="#pf" transform="matrix(-0.300 -0.512 0 1 1420.2 1620.1)"/><use href="#pf" transform="matrix(-0.300 -0.512 0 1 1420.2 1651.2)"/><use href="#pf" transform="matrix(-0.300 -0.512 0 1 1420.2 1669.8)"/><use href="#pf" transform="matrix(-0.300 -0.489 0 1 1412.1 1498.5)"/><use href="#pf" transform="matrix(-0.300 -0.489 0 1 1412.1 1529.6)"/><use href="#pf" transform="matrix(-0.300 -0.489 0 1 1412.1 1560.7)"/><use href="#pf" transform="matrix(-0.300 -0.489 0 1 1412.1 1591.8)"/><use href="#pf" transform="matrix(-0.300 -0.489 0 1 1412.1 1622.9)"/><use href="#pf" transform="matrix(-0.300 -0.489 0 1 1412.1 1641.5)"/><use href="#pf" transform="matrix(-0.379 -0.474 0 1 1407 1505.9)"/><use href="#pf" transform="matrix(-0.379 -0.474 0 1 1407 1537)"/><use href="#pf" transform="matrix(-0.379 -0.474 0 1 1407 1568.1)"/><use href="#pf" transform="matrix(-0.379 -0.474 0 1 1407 1599.2)"/><use href="#pf" transform="matrix(-0.379 -0.474 0 1 1407 1624.1)"/><use href="#pf" transform="matrix(-0.379 -0.474 0 1 1407 1642.7)"/><use href="#pf" transform="matrix(-0.457 -0.456 0 1 1400.6 1482.5)"/><use href="#pf" transform="matrix(-0.457 -0.456 0 1 1400.6 1513.6)"/><use href="#pf" transform="matrix(-0.457 -0.456 0 1 1400.6 1544.7)"/><use href="#pf" transform="matrix(-0.457 -0.456 0 1 1400.6 1575.8)"/><use href="#pf" transform="matrix(-0.457 -0.456 0 1 1400.6 1606.9)"/><use href="#pf" transform="matrix(-0.457 -0.456 0 1 1400.6 1625.5)"/><use href="#pf" transform="matrix(-0.531 -0.434 0 1 1393.1 1490.6)"/><use href="#pf" transform="matrix(-0.531 -0.434 0 1 1393.1 1521.7)"/><use href="#pf" transform="matrix(-0.531 -0.434 0 1 1393.1 1552.8)"/><use href="#pf" transform="matrix(-0.531 -0.434 0 1 1393.1 1583.9)"/><use href="#pf" transform="matrix(-0.531 -0.434 0 1 1393.1 1608.8)"/><use href="#pf" transform="matrix(-0.531 -0.434 0 1 1393.1 1627.4)"/><use href="#pf" transform="matrix(-0.602 -0.409 0 1 1384.6 1468)"/><use href="#pf" transform="matrix(-0.602 -0.409 0 1 1384.6 1499.1)"/><use href="#pf" transform="matrix(-0.602 -0.409 0 1 1384.6 1530.2)"/><use href="#pf" transform="matrix(-0.602 -0.409 0 1 1384.6 1561.3)"/><use href="#pf" transform="matrix(-0.602 -0.409 0 1 1384.6 1592.4)"/><use href="#pf" transform="matrix(-0.602 -0.409 0 1 1384.6 1611)"/><use href="#pf" transform="matrix(-0.803 -0.305 0 1 1348.7 1447.7)"/><use href="#pf" transform="matrix(-0.803 -0.305 0 1 1348.7 1478.8)"/><use href="#pf" transform="matrix(-0.803 -0.305 0 1 1348.7 1509.9)"/><use href="#pf" transform="matrix(-0.803 -0.305 0 1 1348.7 1541)"/><use href="#pf" transform="matrix(-0.803 -0.305 0 1 1348.7 1572.1)"/><use href="#pf" transform="matrix(-0.803 -0.305 0 1 1348.7 1590.7)"/><use href="#pf" transform="matrix(-0.851 -0.269 0 1 1336.2 1458.4)"/><use href="#pf" transform="matrix(-0.851 -0.269 0 1 1336.2 1489.5)"/><use href="#pf" transform="matrix(-0.851 -0.269 0 1 1336.2 1520.6)"/><use href="#pf" transform="matrix(-0.851 -0.269 0 1 1336.2 1551.7)"/><use href="#pf" transform="matrix(-0.851 -0.269 0 1 1336.2 1576.6)"/><use href="#pf" transform="matrix(-0.851 -0.269 0 1 1336.2 1595.2)"/><use href="#pf" transform="matrix(-0.893 -0.231 0 1 1323 1438.7)"/><use href="#pf" transform="matrix(-0.893 -0.231 0 1 1323 1469.8)"/><use href="#pf" transform="matrix(-0.893 -0.231 0 1 1323 1500.9)"/><use href="#pf" transform="matrix(-0.893 -0.231 0 1 1323 1532)"/><use href="#pf" transform="matrix(-0.893 -0.231 0 1 1323 1563.1)"/><use href="#pf" transform="matrix(-0.893 -0.231 0 1 1323 1581.7)"/><use href="#pf" transform="matrix(-0.928 -0.191 0 1 1309.2 1450.7)"/><use href="#pf" transform="matrix(-0.928 -0.191 0 1 1309.2 1481.8)"/><use href="#pf" transform="matrix(-0.928 -0.191 0 1 1309.2 1512.9)"/><use href="#pf" transform="matrix(-0.928 -0.191 0 1 1309.2 1544)"/><use href="#pf" transform="matrix(-0.928 -0.191 0 1 1309.2 1568.8)"/><use href="#pf" transform="matrix(-0.928 -0.191 0 1 1309.2 1587.4)"/><use href="#pf" transform="matrix(-0.956 -0.150 0 1 1294.9 1432.2)"/><use href="#pf" transform="matrix(-0.956 -0.150 0 1 1294.9 1463.3)"/><use href="#pf" transform="matrix(-0.956 -0.150 0 1 1294.9 1494.4)"/><use href="#pf" transform="matrix(-0.956 -0.150 0 1 1294.9 1525.5)"/><use href="#pf" transform="matrix(-0.956 -0.150 0 1 1294.9 1556.6)"/><use href="#pf" transform="matrix(-0.956 -0.150 0 1 1294.9 1575.2)"/><use href="#pf" transform="matrix(-1.000 -0.005 0 1 1245.1 1427.9)"/><use href="#pf" transform="matrix(-1.000 -0.005 0 1 1245.1 1459)"/><use href="#pf" transform="matrix(-1.000 -0.005 0 1 1245.1 1490.1)"/><use href="#pf" transform="matrix(-1.000 -0.005 0 1 1245.1 1521.2)"/><use href="#pf" transform="matrix(-1.000 -0.005 0 1 1245.1 1552.3)"/><use href="#pf" transform="matrix(-1.000 -0.005 0 1 1245.1 1570.9)"/><use href="#pf" transform="matrix(-0.997 0.038 0 1 1229.9 1443.7)"/><use href="#pf" transform="matrix(-0.997 0.038 0 1 1229.9 1474.8)"/><use href="#pf" transform="matrix(-0.997 0.038 0 1 1229.9 1505.9)"/><use href="#pf" transform="matrix(-0.997 0.038 0 1 1229.9 1537)"/><use href="#pf" transform="matrix(-0.997 0.038 0 1 1229.9 1561.8)"/><use href="#pf" transform="matrix(-0.997 0.038 0 1 1229.9 1580.4)"/><use href="#pf" transform="matrix(-0.987 0.082 0 1 1214.9 1429.1)"/><use href="#pf" transform="matrix(-0.987 0.082 0 1 1214.9 1460.2)"/><use href="#pf" transform="matrix(-0.987 0.082 0 1 1214.9 1491.3)"/><use href="#pf" transform="matrix(-0.987 0.082 0 1 1214.9 1522.4)"/><use href="#pf" transform="matrix(-0.987 0.082 0 1 1214.9 1553.5)"/><use href="#pf" transform="matrix(-0.987 0.082 0 1 1214.9 1572.1)"/><use href="#pf" transform="matrix(-0.970 0.125 0 1 1200.1 1446.4)"/><use href="#pf" transform="matrix(-0.970 0.125 0 1 1200.1 1477.5)"/><use href="#pf" transform="matrix(-0.970 0.125 0 1 1200.1 1508.6)"/><use href="#pf" transform="matrix(-0.970 0.125 0 1 1200.1 1539.7)"/><use href="#pf" transform="matrix(-0.970 0.125 0 1 1200.1 1564.6)"/><use href="#pf" transform="matrix(-0.970 0.125 0 1 1200.1 1583.2)"/><use href="#pf" transform="matrix(-0.946 0.167 0 1 1185.6 1433.3)"/><use href="#pf" transform="matrix(-0.946 0.167 0 1 1185.6 1464.4)"/><use href="#pf" transform="matrix(-0.946 0.167 0 1 1185.6 1495.5)"/><use href="#pf" transform="matrix(-0.946 0.167 0 1 1185.6 1526.6)"/><use href="#pf" transform="matrix(-0.946 0.167 0 1 1185.6 1557.7)"/><use href="#pf" transform="matrix(-0.946 0.167 0 1 1185.6 1576.3)"/><use href="#pf" transform="matrix(-0.815 0.297 0 1 1140.7 1446.5)"/><use href="#pf" transform="matrix(-0.815 0.297 0 1 1140.7 1477.6)"/><use href="#pf" transform="matrix(-0.815 0.297 0 1 1140.7 1508.7)"/><use href="#pf" transform="matrix(-0.815 0.297 0 1 1140.7 1539.8)"/><use href="#pf" transform="matrix(-0.815 0.297 0 1 1140.7 1570.9)"/><use href="#pf" transform="matrix(-0.815 0.297 0 1 1140.7 1589.5)"/><use href="#pf" transform="matrix(-0.763 0.331 0 1 1128.7 1467.3)"/><use href="#pf" transform="matrix(-0.763 0.331 0 1 1128.7 1498.4)"/><use href="#pf" transform="matrix(-0.763 0.331 0 1 1128.7 1529.5)"/><use href="#pf" transform="matrix(-0.763 0.331 0 1 1128.7 1560.6)"/><use href="#pf" transform="matrix(-0.763 0.331 0 1 1128.7 1585.5)"/><use href="#pf" transform="matrix(-0.763 0.331 0 1 1128.7 1604.1)"/><use href="#pf" transform="matrix(-0.705 0.364 0 1 1117.6 1457.6)"/><use href="#pf" transform="matrix(-0.705 0.364 0 1 1117.6 1488.7)"/><use href="#pf" transform="matrix(-0.705 0.364 0 1 1117.6 1519.8)"/><use href="#pf" transform="matrix(-0.705 0.364 0 1 1117.6 1550.9)"/><use href="#pf" transform="matrix(-0.705 0.364 0 1 1117.6 1582)"/><use href="#pf" transform="matrix(-0.705 0.364 0 1 1117.6 1600.6)"/><use href="#pf" transform="matrix(-0.641 0.393 0 1 1107.4 1479.5)"/><use href="#pf" transform="matrix(-0.641 0.393 0 1 1107.4 1510.6)"/><use href="#pf" transform="matrix(-0.641 0.393 0 1 1107.4 1541.7)"/><use href="#pf" transform="matrix(-0.641 0.393 0 1 1107.4 1572.8)"/><use href="#pf" transform="matrix(-0.641 0.393 0 1 1107.4 1597.7)"/><use href="#pf" transform="matrix(-0.641 0.393 0 1 1107.4 1616.3)"/><use href="#pf" transform="matrix(-0.574 0.420 0 1 1098.2 1470.8)"/><use href="#pf" transform="matrix(-0.574 0.420 0 1 1098.2 1501.9)"/><use href="#pf" transform="matrix(-0.574 0.420 0 1 1098.2 1533)"/><use href="#pf" transform="matrix(-0.574 0.420 0 1 1098.2 1564.1)"/><use href="#pf" transform="matrix(-0.574 0.420 0 1 1098.2 1595.2)"/><use href="#pf" transform="matrix(-0.574 0.420 0 1 1098.2 1613.8)"/><use href="#pf" transform="matrix(-0.319 0.486 0 1 1075.4 1496.5)"/><use href="#pf" transform="matrix(-0.319 0.486 0 1 1075.4 1527.6)"/><use href="#pf" transform="matrix(-0.319 0.486 0 1 1075.4 1558.7)"/><use href="#pf" transform="matrix(-0.319 0.486 0 1 1075.4 1589.8)"/><use href="#pf" transform="matrix(-0.319 0.486 0 1 1075.4 1620.9)"/><use href="#pf" transform="matrix(-0.319 0.486 0 1 1075.4 1639.5)"/><use href="#pf" transform="matrix(-0.300 0.498 0 1 1071.2 1520.3)"/><use href="#pf" transform="matrix(-0.300 0.498 0 1 1071.2 1551.4)"/><use href="#pf" transform="matrix(-0.300 0.498 0 1 1071.2 1582.5)"/><use href="#pf" transform="matrix(-0.300 0.498 0 1 1071.2 1613.6)"/><use href="#pf" transform="matrix(-0.300 0.498 0 1 1071.2 1638.4)"/><use href="#pf" transform="matrix(-0.300 0.498 0 1 1071.2 1657)"/><use href="#pf" transform="matrix(-0.300 0.506 0 1 1068.3 1513.2)"/><use href="#pf" transform="matrix(-0.300 0.506 0 1 1068.3 1544.3)"/><use href="#pf" transform="matrix(-0.300 0.506 0 1 1068.3 1575.4)"/><use href="#pf" transform="matrix(-0.300 0.506 0 1 1068.3 1606.5)"/><use href="#pf" transform="matrix(-0.300 0.506 0 1 1068.3 1637.6)"/><use href="#pf" transform="matrix(-0.300 0.506 0 1 1068.3 1656.2)"/><use href="#pf" transform="matrix(-0.300 0.511 0 1 1066.6 1537.3)"/><use href="#pf" transform="matrix(-0.300 0.511 0 1 1066.6 1568.4)"/><use href="#pf" transform="matrix(-0.300 0.511 0 1 1066.6 1599.5)"/><use href="#pf" transform="matrix(-0.300 0.511 0 1 1066.6 1630.6)"/><use href="#pf" transform="matrix(-0.300 0.511 0 1 1066.6 1655.4)"/><use href="#pf" transform="matrix(-0.300 0.511 0 1 1066.6 1674)"/><use href="#pf" transform="matrix(0.300 0.512 0 1 1066.2 1530.4)"/><use href="#pf" transform="matrix(0.300 0.512 0 1 1066.2 1561.5)"/><use href="#pf" transform="matrix(0.300 0.512 0 1 1066.2 1592.6)"/><use href="#pf" transform="matrix(0.300 0.512 0 1 1066.2 1623.7)"/><use href="#pf" transform="matrix(0.300 0.512 0 1 1066.2 1654.8)"/><use href="#pf" transform="matrix(0.300 0.512 0 1 1066.2 1673.4)"/><path class="l" d="M1194.3 1567.2A52 14 0 0 1 1292.1 1567.2"/><path class="l" d="M1186.8 1569.2A60 17 0 0 1 1299.6 1569.2"/><path class="t" d="M1183.4 1571A66 19 0 0 1 1303 1571"/><ellipse class="l" cx="1099.7" cy="1436.8" rx="2.6" ry="1.7" transform="rotate(-30 1099.7 1436.8)"/><ellipse class="l" cx="1348.5" cy="1415.7" rx="2.6" ry="1.7" transform="rotate(30 1348.5 1415.7)"/></g><ellipse class="h" cx="1243.2" cy="1490" rx="182" ry="103.6"/><ellipse class="l" cx="1243.2" cy="1489.8" rx="179.4" ry="100.1"/><ellipse class="l" cx="1243.2" cy="1489.6" rx="176.2" ry="96.2"/><path class="t" d="M1072.2 1454.6L1075.3 1454.6"/><path class="t" d="M1414.2 1454.6L1412.4 1456.6"/><path class="t" d="M1073.3 1452.8L1076.4 1452.9"/><path class="t" d="M1413.1 1452.8L1411.3 1454.9"/><path class="t" d="M1074.5 1451.1L1077.6 1451.3"/><path class="t" d="M1411.9 1451.1L1410.2 1453.2"/><path class="t" d="M1075.7 1449.4L1078.9 1449.6"/><path class="t" d="M1410.7 1449.4L1409 1451.6"/><path class="t" d="M1077 1447.7L1080.2 1448"/><path class="t" d="M1409.4 1447.7L1407.7 1449.9"/><path class="t" d="M1078.4 1446L1081.5 1446.4"/><path class="t" d="M1408 1446L1406.4 1448.3"/><path class="t" d="M1079.8 1444.4L1083 1444.8"/><path class="t" d="M1406.6 1444.4L1405.1 1446.7"/><path class="t" d="M1081.2 1442.7L1084.4 1443.2"/><path class="t" d="M1405.2 1442.7L1403.7 1445.1"/><path class="t" d="M1082.7 1441.1L1085.9 1441.6"/><path class="t" d="M1403.7 1441.1L1402.2 1443.5"/><path class="t" d="M1084.3 1439.5L1087.5 1440.1"/><path class="t" d="M1402.1 1439.5L1400.7 1441.9"/><path class="t" d="M1085.9 1437.9L1089.1 1438.5"/><path class="t" d="M1400.5 1437.9L1399.2 1440.4"/><path class="t" d="M1087.6 1436.3L1090.8 1437"/><path class="t" d="M1398.8 1436.3L1397.6 1438.8"/><path class="t" d="M1089.3 1434.7L1092.5 1435.5"/><path class="t" d="M1397.1 1434.7L1395.9 1437.3"/><path class="t" d="M1091 1433.2L1094.2 1434"/><path class="t" d="M1395.4 1433.2L1394.2 1435.8"/><path class="t" d="M1092.8 1431.6L1096 1432.5"/><path class="t" d="M1393.6 1431.6L1392.5 1434.3"/><path class="t" d="M1094.7 1430.1L1097.9 1431.1"/><path class="t" d="M1391.7 1430.1L1390.7 1432.8"/><path class="t" d="M1096.6 1428.6L1099.8 1429.7"/><path class="t" d="M1389.8 1428.6L1388.8 1431.3"/><path class="t" d="M1098.5 1427.2L1101.7 1428.2"/><path class="t" d="M1387.9 1427.2L1387 1429.9"/><path class="t" d="M1100.5 1425.7L1103.7 1426.8"/><path class="t" d="M1385.9 1425.7L1385 1428.5"/><path class="t" d="M1102.5 1424.3L1105.7 1425.5"/><path class="t" d="M1383.9 1424.3L1383 1427.1"/><path class="t" d="M1104.6 1422.8L1107.8 1424.1"/><path class="t" d="M1381.8 1422.8L1381 1425.7"/><path class="t" d="M1106.7 1421.4L1109.9 1422.8"/><path class="t" d="M1379.7 1421.4L1378.9 1424.4"/><path class="t" d="M1108.9 1420.1L1112.1 1421.5"/><path class="t" d="M1377.5 1420.1L1376.8 1423"/><path class="t" d="M1111.1 1418.7L1114.3 1420.2"/><path class="t" d="M1375.3 1418.7L1374.7 1421.7"/><path class="t" d="M1113.4 1417.4L1116.5 1418.9"/><path class="t" d="M1373 1417.4L1372.5 1420.4"/><path class="t" d="M1115.7 1416.1L1118.8 1417.7"/><path class="t" d="M1370.7 1416.1L1370.3 1419.1"/><path class="t" d="M1118 1414.8L1121.1 1416.4"/><path class="t" d="M1368.4 1414.8L1368 1417.9"/><path class="t" d="M1120.4 1413.6L1123.5 1415.2"/><path class="t" d="M1366 1413.6L1365.7 1416.6"/><path class="t" d="M1122.8 1412.3L1125.9 1414.1"/><path class="t" d="M1363.6 1412.3L1363.3 1415.4"/><path class="t" d="M1125.2 1411.1L1128.3 1412.9"/><path class="t" d="M1361.2 1411.1L1360.9 1414.3"/><path class="t" d="M1127.7 1409.9L1130.8 1411.8"/><path class="t" d="M1358.7 1409.9L1358.5 1413.1"/><path class="t" d="M1130.2 1408.8L1133.3 1410.7"/><path class="t" d="M1356.2 1408.8L1356 1412"/><path class="t" d="M1132.8 1407.6L1135.9 1409.6"/><path class="t" d="M1353.6 1407.6L1353.5 1410.9"/><path class="t" d="M1135.4 1406.5L1138.4 1408.5"/><path class="t" d="M1351 1406.5L1351 1409.8"/><path class="t" d="M1138 1405.5L1141.1 1407.5"/><path class="t" d="M1348.4 1405.5L1348.4 1408.7"/><path class="t" d="M1140.7 1404.4L1143.7 1406.5"/><path class="t" d="M1345.7 1404.4L1345.8 1407.7"/><path class="t" d="M1143.4 1403.4L1146.4 1405.5"/><path class="t" d="M1343 1403.4L1343.2 1406.7"/><path class="t" d="M1146.1 1402.4L1149.1 1404.6"/><path class="t" d="M1340.3 1402.4L1340.5 1405.7"/><path class="t" d="M1148.9 1401.4L1151.8 1403.7"/><path class="t" d="M1337.5 1401.4L1337.8 1404.7"/><path class="t" d="M1151.6 1400.5L1154.6 1402.8"/><path class="t" d="M1334.8 1400.5L1335.1 1403.8"/><path class="t" d="M1154.5 1399.6L1157.4 1401.9"/><path class="t" d="M1331.9 1399.6L1332.3 1402.9"/><path class="t" d="M1157.3 1398.7L1160.2 1401.1"/><path class="t" d="M1329.1 1398.7L1329.5 1402.1"/><path class="t" d="M1160.2 1397.8L1163 1400.3"/><path class="t" d="M1326.2 1397.8L1326.7 1401.2"/><path class="t" d="M1163.1 1397L1165.9 1399.5"/><path class="t" d="M1323.3 1397L1323.9 1400.4"/><path class="t" d="M1166 1396.2L1168.8 1398.7"/><path class="t" d="M1320.4 1396.2L1321 1399.6"/><path class="t" d="M1168.9 1395.4L1171.7 1398"/><path class="t" d="M1317.5 1395.4L1318.1 1398.8"/><path class="t" d="M1171.9 1394.7L1174.7 1397.3"/><path class="t" d="M1314.5 1394.7L1315.2 1398.1"/><path class="t" d="M1174.9 1394L1177.6 1396.6"/><path class="t" d="M1311.5 1394L1312.3 1397.4"/><path class="t" d="M1177.9 1393.3L1180.6 1396"/><path class="t" d="M1308.5 1393.3L1309.3 1396.7"/><path class="t" d="M1181 1392.6L1183.6 1395.4"/><path class="t" d="M1305.4 1392.6L1306.3 1396.1"/><path class="l" d="M1061.2 1490L1061.2 1705"/><path class="l" d="M1425.2 1490L1425.2 1705"/><path class="l" d="M1425.2 1705C1425.1 1708.7 1425.7 1720.1 1424.6 1727.4C1423.5 1734.7 1421.4 1742 1418.6 1748.7C1415.8 1755.4 1412 1762.1 1408 1767.7C1404 1773.3 1397.1 1779.8 1394.9 1782.2"/><path class="l" d="M1061.2 1705C1061.3 1708.7 1060.7 1720.1 1061.8 1727.4C1062.9 1734.7 1065 1742 1067.8 1748.7C1070.6 1755.4 1074.5 1762.1 1078.4 1767.7C1082.4 1773.3 1089.3 1779.8 1091.5 1782.2"/><clipPath id="c209o"><path d="M1061.2 1490.0A182.0 103.6 0 0 0 1425.2 1490.0V1696.5A182.0 103.6 0 0 1 1061.2 1696.5Z"/></clipPath><g clip-path="url(#c209o)"><use href="#pf" transform="matrix(0.300 0.512 0 1 1061.2 1530.4)"/><use href="#pf" transform="matrix(0.300 0.512 0 1 1061.2 1561.5)"/><use href="#pf" transform="matrix(0.300 0.512 0 1 1061.2 1592.6)"/><use href="#pf" transform="matrix(0.300 0.512 0 1 1061.2 1623.7)"/><use href="#pf" transform="matrix(0.300 0.512 0 1 1061.2 1654.8)"/><use href="#pf" transform="matrix(0.300 0.512 0 1 1061.2 1673.4)"/><use href="#pf" transform="matrix(0.300 0.489 0 1 1069.5 1559.6)"/><use href="#pf" transform="matrix(0.300 0.489 0 1 1069.5 1590.7)"/><use href="#pf" transform="matrix(0.300 0.489 0 1 1069.5 1621.8)"/><use href="#pf" transform="matrix(0.300 0.489 0 1 1069.5 1652.9)"/><use href="#pf" transform="matrix(0.300 0.489 0 1 1069.5 1684)"/><use href="#pf" transform="matrix(0.300 0.489 0 1 1069.5 1702.6)"/><use href="#pf" transform="matrix(0.379 0.474 0 1 1074.8 1583.5)"/><use href="#pf" transform="matrix(0.379 0.474 0 1 1074.8 1614.6)"/><use href="#pf" transform="matrix(0.379 0.474 0 1 1074.8 1645.7)"/><use href="#pf" transform="matrix(0.379 0.474 0 1 1074.8 1676.8)"/><use href="#pf" transform="matrix(0.379 0.474 0 1 1074.8 1701.6)"/><use href="#pf" transform="matrix(0.379 0.474 0 1 1074.8 1720.2)"/><use href="#pf" transform="matrix(0.457 0.456 0 1 1081.3 1576)"/><use href="#pf" transform="matrix(0.457 0.456 0 1 1081.3 1607.1)"/><use href="#pf" transform="matrix(0.457 0.456 0 1 1081.3 1638.2)"/><use href="#pf" transform="matrix(0.457 0.456 0 1 1081.3 1669.3)"/><use href="#pf" transform="matrix(0.457 0.456 0 1 1081.3 1700.4)"/><use href="#pf" transform="matrix(0.457 0.456 0 1 1081.3 1719)"/><use href="#pf" transform="matrix(0.531 0.434 0 1 1089 1599.2)"/><use href="#pf" transform="matrix(0.531 0.434 0 1 1089 1630.3)"/><use href="#pf" transform="matrix(0.531 0.434 0 1 1089 1661.4)"/><use href="#pf" transform="matrix(0.531 0.434 0 1 1089 1692.5)"/><use href="#pf" transform="matrix(0.531 0.434 0 1 1089 1717.4)"/><use href="#pf" transform="matrix(0.531 0.434 0 1 1089 1736)"/><use href="#pf" transform="matrix(0.602 0.409 0 1 1097.8 1590.9)"/><use href="#pf" transform="matrix(0.602 0.409 0 1 1097.8 1622)"/><use href="#pf" transform="matrix(0.602 0.409 0 1 1097.8 1653.1)"/><use href="#pf" transform="matrix(0.602 0.409 0 1 1097.8 1684.2)"/><use href="#pf" transform="matrix(0.602 0.409 0 1 1097.8 1715.3)"/><use href="#pf" transform="matrix(0.602 0.409 0 1 1097.8 1733.9)"/><use href="#pf" transform="matrix(0.803 0.305 0 1 1134.7 1611.8)"/><use href="#pf" transform="matrix(0.803 0.305 0 1 1134.7 1642.9)"/><use href="#pf" transform="matrix(0.803 0.305 0 1 1134.7 1674)"/><use href="#pf" transform="matrix(0.803 0.305 0 1 1134.7 1705.1)"/><use href="#pf" transform="matrix(0.803 0.305 0 1 1134.7 1736.2)"/><use href="#pf" transform="matrix(0.803 0.305 0 1 1134.7 1754.8)"/><use href="#pf" transform="matrix(0.851 0.269 0 1 1147.6 1632.3)"/><use href="#pf" transform="matrix(0.851 0.269 0 1 1147.6 1663.4)"/><use href="#pf" transform="matrix(0.851 0.269 0 1 1147.6 1694.5)"/><use href="#pf" transform="matrix(0.851 0.269 0 1 1147.6 1725.6)"/><use href="#pf" transform="matrix(0.851 0.269 0 1 1147.6 1750.4)"/><use href="#pf" transform="matrix(0.851 0.269 0 1 1147.6 1769)"/><use href="#pf" transform="matrix(0.893 0.231 0 1 1161.1 1621.1)"/><use href="#pf" transform="matrix(0.893 0.231 0 1 1161.1 1652.2)"/><use href="#pf" transform="matrix(0.893 0.231 0 1 1161.1 1683.3)"/><use href="#pf" transform="matrix(0.893 0.231 0 1 1161.1 1714.4)"/><use href="#pf" transform="matrix(0.893 0.231 0 1 1161.1 1745.5)"/><use href="#pf" transform="matrix(0.893 0.231 0 1 1161.1 1764.1)"/><use href="#pf" transform="matrix(0.928 0.191 0 1 1175.3 1640.3)"/><use href="#pf" transform="matrix(0.928 0.191 0 1 1175.3 1671.4)"/><use href="#pf" transform="matrix(0.928 0.191 0 1 1175.3 1702.5)"/><use href="#pf" transform="matrix(0.928 0.191 0 1 1175.3 1733.6)"/><use href="#pf" transform="matrix(0.928 0.191 0 1 1175.3 1758.4)"/><use href="#pf" transform="matrix(0.928 0.191 0 1 1175.3 1777)"/><use href="#pf" transform="matrix(0.956 0.150 0 1 1190 1627.7)"/><use href="#pf" transform="matrix(0.956 0.150 0 1 1190 1658.8)"/><use href="#pf" transform="matrix(0.956 0.150 0 1 1190 1689.9)"/><use href="#pf" transform="matrix(0.956 0.150 0 1 1190 1721)"/><use href="#pf" transform="matrix(0.956 0.150 0 1 1190 1752.1)"/><use href="#pf" transform="matrix(0.956 0.150 0 1 1190 1770.7)"/><use href="#pf" transform="matrix(1.000 0.005 0 1 1241.3 1632.2)"/><use href="#pf" transform="matrix(1.000 0.005 0 1 1241.3 1663.3)"/><use href="#pf" transform="matrix(1.000 0.005 0 1 1241.3 1694.4)"/><use href="#pf" transform="matrix(1.000 0.005 0 1 1241.3 1725.5)"/><use href="#pf" transform="matrix(1.000 0.005 0 1 1241.3 1756.6)"/><use href="#pf" transform="matrix(1.000 0.005 0 1 1241.3 1775.2)"/><use href="#pf" transform="matrix(0.997 -0.038 0 1 1256.8 1647.5)"/><use href="#pf" transform="matrix(0.997 -0.038 0 1 1256.8 1678.6)"/><use href="#pf" transform="matrix(0.997 -0.038 0 1 1256.8 1709.7)"/><use href="#pf" transform="matrix(0.997 -0.038 0 1 1256.8 1740.8)"/><use href="#pf" transform="matrix(0.997 -0.038 0 1 1256.8 1765.6)"/><use href="#pf" transform="matrix(0.997 -0.038 0 1 1256.8 1784.2)"/><use href="#pf" transform="matrix(0.987 -0.082 0 1 1272.3 1630.9)"/><use href="#pf" transform="matrix(0.987 -0.082 0 1 1272.3 1662)"/><use href="#pf" transform="matrix(0.987 -0.082 0 1 1272.3 1693.1)"/><use href="#pf" transform="matrix(0.987 -0.082 0 1 1272.3 1724.2)"/><use href="#pf" transform="matrix(0.987 -0.082 0 1 1272.3 1755.3)"/><use href="#pf" transform="matrix(0.987 -0.082 0 1 1272.3 1773.9)"/><use href="#pf" transform="matrix(0.970 -0.125 0 1 1287.5 1644.6)"/><use href="#pf" transform="matrix(0.970 -0.125 0 1 1287.5 1675.7)"/><use href="#pf" transform="matrix(0.970 -0.125 0 1 1287.5 1706.8)"/><use href="#pf" transform="matrix(0.970 -0.125 0 1 1287.5 1737.9)"/><use href="#pf" transform="matrix(0.970 -0.125 0 1 1287.5 1762.8)"/><use href="#pf" transform="matrix(0.970 -0.125 0 1 1287.5 1781.4)"/><use href="#pf" transform="matrix(0.946 -0.167 0 1 1302.5 1626.6)"/><use href="#pf" transform="matrix(0.946 -0.167 0 1 1302.5 1657.7)"/><use href="#pf" transform="matrix(0.946 -0.167 0 1 1302.5 1688.8)"/><use href="#pf" transform="matrix(0.946 -0.167 0 1 1302.5 1719.9)"/><use href="#pf" transform="matrix(0.946 -0.167 0 1 1302.5 1751)"/><use href="#pf" transform="matrix(0.946 -0.167 0 1 1302.5 1769.6)"/><use href="#pf" transform="matrix(0.815 -0.297 0 1 1348.6 1613)"/><use href="#pf" transform="matrix(0.815 -0.297 0 1 1348.6 1644.1)"/><use href="#pf" transform="matrix(0.815 -0.297 0 1 1348.6 1675.2)"/><use href="#pf" transform="matrix(0.815 -0.297 0 1 1348.6 1706.3)"/><use href="#pf" transform="matrix(0.815 -0.297 0 1 1348.6 1737.4)"/><use href="#pf" transform="matrix(0.815 -0.297 0 1 1348.6 1756)"/><use href="#pf" transform="matrix(0.763 -0.331 0 1 1360.9 1623.2)"/><use href="#pf" transform="matrix(0.763 -0.331 0 1 1360.9 1654.3)"/><use href="#pf" transform="matrix(0.763 -0.331 0 1 1360.9 1685.4)"/><use href="#pf" transform="matrix(0.763 -0.331 0 1 1360.9 1716.5)"/><use href="#pf" transform="matrix(0.763 -0.331 0 1 1360.9 1741.3)"/><use href="#pf" transform="matrix(0.763 -0.331 0 1 1360.9 1759.9)"/><use href="#pf" transform="matrix(0.705 -0.364 0 1 1372.3 1601.6)"/><use href="#pf" transform="matrix(0.705 -0.364 0 1 1372.3 1632.7)"/><use href="#pf" transform="matrix(0.705 -0.364 0 1 1372.3 1663.8)"/><use href="#pf" transform="matrix(0.705 -0.364 0 1 1372.3 1694.9)"/><use href="#pf" transform="matrix(0.705 -0.364 0 1 1372.3 1726)"/><use href="#pf" transform="matrix(0.705 -0.364 0 1 1372.3 1744.6)"/><use href="#pf" transform="matrix(0.641 -0.393 0 1 1382.8 1610.6)"/><use href="#pf" transform="matrix(0.641 -0.393 0 1 1382.8 1641.7)"/><use href="#pf" transform="matrix(0.641 -0.393 0 1 1382.8 1672.8)"/><use href="#pf" transform="matrix(0.641 -0.393 0 1 1382.8 1703.9)"/><use href="#pf" transform="matrix(0.641 -0.393 0 1 1382.8 1728.8)"/><use href="#pf" transform="matrix(0.641 -0.393 0 1 1382.8 1747.4)"/><use href="#pf" transform="matrix(0.574 -0.420 0 1 1392.3 1588)"/><use href="#pf" transform="matrix(0.574 -0.420 0 1 1392.3 1619.1)"/><use href="#pf" transform="matrix(0.574 -0.420 0 1 1392.3 1650.2)"/><use href="#pf" transform="matrix(0.574 -0.420 0 1 1392.3 1681.3)"/><use href="#pf" transform="matrix(0.574 -0.420 0 1 1392.3 1712.4)"/><use href="#pf" transform="matrix(0.574 -0.420 0 1 1392.3 1731)"/><use href="#pf" transform="matrix(0.319 -0.486 0 1 1415.7 1561.6)"/><use href="#pf" transform="matrix(0.319 -0.486 0 1 1415.7 1592.7)"/><use href="#pf" transform="matrix(0.319 -0.486 0 1 1415.7 1623.8)"/><use href="#pf" transform="matrix(0.319 -0.486 0 1 1415.7 1654.9)"/><use href="#pf" transform="matrix(0.319 -0.486 0 1 1415.7 1686)"/><use href="#pf" transform="matrix(0.319 -0.486 0 1 1415.7 1704.6)"/><use href="#pf" transform="matrix(0.300 -0.498 0 1 1420 1568.7)"/><use href="#pf" transform="matrix(0.300 -0.498 0 1 1420 1599.8)"/><use href="#pf" transform="matrix(0.300 -0.498 0 1 1420 1630.9)"/><use href="#pf" transform="matrix(0.300 -0.498 0 1 1420 1662)"/><use href="#pf" transform="matrix(0.300 -0.498 0 1 1420 1686.8)"/><use href="#pf" transform="matrix(0.300 -0.498 0 1 1420 1705.4)"/><use href="#pf" transform="matrix(0.300 -0.506 0 1 1423.1 1544.4)"/><use href="#pf" transform="matrix(0.300 -0.506 0 1 1423.1 1575.5)"/><use href="#pf" transform="matrix(0.300 -0.506 0 1 1423.1 1606.6)"/><use href="#pf" transform="matrix(0.300 -0.506 0 1 1423.1 1637.7)"/><use href="#pf" transform="matrix(0.300 -0.506 0 1 1423.1 1668.8)"/><use href="#pf" transform="matrix(0.300 -0.506 0 1 1423.1 1687.4)"/><use href="#pf" transform="matrix(0.300 -0.511 0 1 1424.8 1551.2)"/><use href="#pf" transform="matrix(0.300 -0.511 0 1 1424.8 1582.3)"/><use href="#pf" transform="matrix(0.300 -0.511 0 1 1424.8 1613.4)"/><use href="#pf" transform="matrix(0.300 -0.511 0 1 1424.8 1644.5)"/><use href="#pf" transform="matrix(0.300 -0.511 0 1 1424.8 1669.3)"/><use href="#pf" transform="matrix(0.300 -0.511 0 1 1424.8 1687.9)"/></g><path class="l" d="M1425.2 1696.5A182 103.6 0 0 1 1061.2 1696.5"/><path class="l" d="M1425.1 1702.7A182 103.6 0 0 1 1061.3 1702.7"/><path class="l" d="M1396.3 1781.1A175 85.5 0 0 1 1090.1 1781.1"/><path class="t" d="M1391.2 1782.7A174.5 85.5 0 0 1 1095.2 1782.7"/><ellipse class="l" cx="1137.1" cy="1799.7" rx="3.7" ry="1.9" transform="rotate(28 1137.1 1799.7)"/><ellipse class="l" cx="1243.1" cy="1818.2" rx="3.7" ry="1.9"/><ellipse class="l" cx="1349.5" cy="1799.4" rx="3.7" ry="1.9" transform="rotate(-28 1349.5 1799.4)"/><ellipse class="l" cx="1137" cy="1582.4" rx="2.6" ry="1.6"/><ellipse class="l" cx="1271.4" cy="1601" rx="2.6" ry="1.6"/><ellipse class="l" cx="1387" cy="1561" rx="2.6" ry="1.6"/><path class="l" d="M1112.2 1562.8L1112.2 1796.5"/><path class="l" d="M1115.2 1563.8L1115.2 1797.5"/><path d="M1110.1 1604V1760" stroke="#000" stroke-width="3.3" stroke-dasharray="2.7 1.5" fill="none"/><path d="M1117.2 1606V1761" stroke="#000" stroke-width="2.9" stroke-dasharray="2.7 1.5" fill="none"/><rect x="1111.1" y="1769.5" width="5.2" height="5" class="w" style="stroke-width:1.6"/></g>
<g id="p179"><path d="M1217.9 1342.8C1217.3 1343.3 1218.3 1344.9 1214.2 1346C1210 1347.2 1199.7 1348 1193 1349.8C1186.4 1351.5 1180 1353.8 1174.4 1356.7C1168.8 1359.6 1163.1 1363.2 1159.4 1367.2C1155.8 1371.2 1154 1376.3 1152.5 1380.9C1150.9 1385.4 1150.6 1392.3 1150.2 1394.6A94.6 59.3 0 0 0 1339.6 1395.8L1339.8 1394.6C1339.5 1392.3 1339.5 1385.3 1337.6 1380.9C1335.7 1376.4 1332.6 1371.8 1328.6 1367.7C1324.6 1363.5 1318.9 1359.2 1313.7 1356C1308.5 1352.8 1303.7 1350.4 1297.5 1348.5C1291.3 1346.7 1280.7 1345.7 1276.4 1344.8C1272 1343.8 1272.2 1343.1 1271.4 1342.8Z" fill="#fff" stroke="none"/><path class="l" d="M1217.9 1342.8C1217.3 1343.3 1218.3 1344.9 1214.2 1346C1210 1347.2 1199.7 1348 1193 1349.8C1186.4 1351.5 1180 1353.8 1174.4 1356.7C1168.8 1359.6 1163.1 1363.2 1159.4 1367.2C1155.8 1371.2 1154 1376.3 1152.5 1380.9C1150.9 1385.4 1150.6 1392.3 1150.2 1394.6"/><path class="l" d="M1339.8 1394.6C1339.5 1392.3 1339.5 1385.3 1337.6 1380.9C1335.7 1376.4 1332.6 1371.8 1328.6 1367.7C1324.6 1363.5 1318.9 1359.2 1313.7 1356C1308.5 1352.8 1303.7 1350.4 1297.5 1348.5C1291.3 1346.7 1280.7 1345.7 1276.4 1344.8C1272 1343.8 1272.2 1343.1 1271.4 1342.8"/><path class="l" d="M1150.4 1395.8A94.6 59.3 0 0 0 1339.6 1395.8"/><path class="l" d="M1153.2 1398.9A92 51.7 0 0 0 1336.8 1398.9"/><path class="l" d="M1193 1349.8L1193 1361L1214.2 1368.4L1217.9 1369.7"/><path class="l" d="M1297.5 1348.5L1296.3 1361L1275.1 1368.4L1271.4 1369.7"/><path class="t" d="M1193 1349.8C1194.9 1349.6 1200.7 1349.3 1204.2 1348.5C1207.7 1347.7 1211.9 1346.2 1214.2 1344.8C1216.5 1343.3 1217.3 1340.6 1217.9 1339.8"/><path class="t" d="M1297.5 1348.5C1295.7 1348.3 1289.9 1348.1 1286.3 1347.3C1282.8 1346.5 1278.9 1345.1 1276.4 1343.8C1273.9 1342.5 1272.2 1340.1 1271.4 1339.3"/><path d="M1225.5 1240.4C1225.9 1243.5 1227 1251.9 1227.8 1258.7C1228.7 1265.6 1229.8 1274 1230.7 1281.6C1231.6 1289.3 1232.7 1295.9 1233.3 1304.5C1234 1313.1 1234.2 1324.5 1234.5 1333.1C1234.7 1341.7 1234.8 1357.4 1234.7 1356C1234.6 1354.6 1234.3 1325.9 1234.1 1324.9C1233.9 1323.8 1234 1341.5 1233.6 1349.8C1233.2 1358.1 1232.8 1367.6 1231.6 1374.6C1230.4 1381.7 1228.3 1387.9 1226.6 1392.1C1225 1396.2 1222.5 1398.3 1221.6 1399.5L1221.6 1399.5C1223.7 1400.3 1229.9 1403 1234.1 1404C1238.2 1405 1242.4 1405.7 1246.5 1405.7C1250.7 1405.7 1255 1405 1259 1404C1262.9 1403 1268.3 1400.3 1270.2 1399.5L1270.2 1399.5C1269.1 1398.1 1265.8 1395 1263.9 1390.8C1262.1 1386.7 1260.3 1381.5 1259 1374.6C1257.6 1367.8 1256.6 1358.1 1256 1349.8C1255.4 1341.5 1255.6 1323.8 1255.2 1324.9C1254.8 1325.9 1253.8 1354.6 1253.6 1356C1253.4 1357.4 1253.6 1341.7 1253.9 1333.1C1254.2 1324.5 1254.7 1313.1 1255.3 1304.5C1255.9 1295.9 1256.9 1289.3 1257.8 1281.6C1258.7 1274 1260 1265.6 1260.8 1258.7C1261.6 1251.9 1262.4 1243.5 1262.7 1240.4Z" fill="#fff" stroke="none"/><path d="M1215.6 1195.8L1216.4 1237L1218.3 1241.6L1271.3 1241.6L1273.2 1237L1273.6 1195.8Z" fill="#fff" stroke="none"/><path class="l" d="M1215.6 1195.8L1216.4 1237"/><path class="l" d="M1273.6 1195.8L1273 1237"/><path class="l" d="M1225.5 1240.4C1227.1 1240.9 1231.5 1242.6 1234.7 1243.3C1237.8 1243.9 1241.2 1244.4 1244.4 1244.4C1247.7 1244.4 1251.1 1243.9 1254.2 1243.3C1257.2 1242.6 1261.3 1240.9 1262.7 1240.4"/><path d="M1228.4 1220.5h2.2" stroke="#000" stroke-width="2.8" stroke-linecap="round" fill="none"/><path d="M1233.1 1221.7h2.2" stroke="#000" stroke-width="2.8" stroke-linecap="round" fill="none"/><path d="M1238.1 1222.5h2.2" stroke="#000" stroke-width="2.8" stroke-linecap="round" fill="none"/><path d="M1243.3 1222.7h2.2" stroke="#000" stroke-width="2.8" stroke-linecap="round" fill="none"/><path d="M1248.5 1222.5h2.2" stroke="#000" stroke-width="2.8" stroke-linecap="round" fill="none"/><path d="M1253.6 1221.7h2.2" stroke="#000" stroke-width="2.8" stroke-linecap="round" fill="none"/><path d="M1258.3 1220.5h2.2" stroke="#000" stroke-width="2.8" stroke-linecap="round" fill="none"/><path d="M1228 1225h2.2" stroke="#000" stroke-width="2.8" stroke-linecap="round" fill="none"/><path d="M1232.8 1226.2h2.2" stroke="#000" stroke-width="2.8" stroke-linecap="round" fill="none"/><path d="M1238 1227h2.2" stroke="#000" stroke-width="2.8" stroke-linecap="round" fill="none"/><path d="M1243.3 1227.3h2.2" stroke="#000" stroke-width="2.8" stroke-linecap="round" fill="none"/><path d="M1248.7 1227h2.2" stroke="#000" stroke-width="2.8" stroke-linecap="round" fill="none"/><path d="M1253.9 1226.2h2.2" stroke="#000" stroke-width="2.8" stroke-linecap="round" fill="none"/><path d="M1258.7 1225h2.2" stroke="#000" stroke-width="2.8" stroke-linecap="round" fill="none"/><path d="M1216 1206.3l1.6 2.4" stroke="#000" stroke-width="2.6" stroke-linecap="round" fill="none"/><path d="M1216.6 1210.3l1.6 2.4" stroke="#000" stroke-width="2.6" stroke-linecap="round" fill="none"/><path d="M1217.8 1214.3l1.6 2.4" stroke="#000" stroke-width="2.6" stroke-linecap="round" fill="none"/><path d="M1219.4 1218l1.6 2.4" stroke="#000" stroke-width="2.6" stroke-linecap="round" fill="none"/><path d="M1272.8 1206.3l-1.6 2.4" stroke="#000" stroke-width="2.6" stroke-linecap="round" fill="none"/><path d="M1272.2 1210.3l-1.6 2.4" stroke="#000" stroke-width="2.6" stroke-linecap="round" fill="none"/><path d="M1271 1214.3l-1.6 2.4" stroke="#000" stroke-width="2.6" stroke-linecap="round" fill="none"/><path d="M1269.4 1218l-1.6 2.4" stroke="#000" stroke-width="2.6" stroke-linecap="round" fill="none"/><ellipse class="w" cx="1244.4" cy="1195.8" rx="29.2" ry="17.2"/><ellipse class="l" cx="1244.4" cy="1196.1" rx="27.2" ry="15.3"/><path class="l" d="M1272.2 1200.8A28.2 16.4 0 0 1 1216.7 1200.8"/><path class="l" d="M1236.6 1181.5L1236.6 1209.5"/><path class="l" d="M1239 1180.9L1239 1210.3"/><path class="l" d="M1263.1 1184.3L1263.1 1206.1"/><path class="l" d="M1264.8 1185.5L1264.8 1204.7"/><path d="M1242.5 1203.8h4" stroke="#000" stroke-width="1.6"/><path d="M1218.3 1218.7C1218.3 1224.4 1218.2 1239.5 1218.2 1253C1218.2 1266.6 1218.3 1286.6 1218.3 1299.9C1218.4 1313.3 1218.5 1330.6 1218.4 1333.1C1218.4 1335.6 1218 1313 1217.9 1314.9C1217.8 1316.9 1218.1 1335.7 1217.7 1344.8C1217.2 1353.9 1216.8 1362.6 1215.4 1369.7C1214 1376.7 1211.9 1381.5 1209.2 1387.1C1206.5 1392.7 1201.7 1399.5 1199.2 1403.3C1196.8 1407 1195.1 1408.4 1194.3 1409.5L1195 1419.9L1195 1419.9C1196.5 1419.3 1201 1419 1204.2 1416.4C1207.4 1413.9 1211.5 1409 1214.2 1404.5C1216.9 1400 1218.8 1395.4 1220.4 1389.6C1222 1383.8 1222.9 1377.1 1223.6 1369.7C1224.3 1362.2 1224.5 1353.9 1224.6 1344.8C1224.8 1335.7 1224.6 1316.9 1224.6 1314.9C1224.7 1313 1224.9 1335.6 1225 1333.1C1225 1330.6 1225 1313.3 1225 1299.9C1224.9 1286.6 1224.8 1265.8 1224.6 1253C1224.5 1240.2 1224.4 1229.5 1224.2 1223.3C1223.9 1217.1 1223.4 1217.1 1223.3 1215.8Z" fill="#fff" stroke="none"/><path class="l" d="M1218.3 1218.7C1218.3 1224.4 1218.2 1239.5 1218.2 1253C1218.2 1266.6 1218.3 1286.6 1218.3 1299.9C1218.4 1313.3 1218.5 1330.6 1218.4 1333.1C1218.4 1335.6 1218 1313 1217.9 1314.9C1217.8 1316.9 1218.1 1335.7 1217.7 1344.8C1217.2 1353.9 1216.8 1362.6 1215.4 1369.7C1214 1376.7 1211.9 1381.5 1209.2 1387.1C1206.5 1392.7 1201.7 1399.5 1199.2 1403.3C1196.8 1407 1195.1 1408.4 1194.3 1409.5"/><path class="l" d="M1195 1419.9C1196.5 1419.3 1201 1419 1204.2 1416.4C1207.4 1413.9 1211.5 1409 1214.2 1404.5C1216.9 1400 1218.8 1395.4 1220.4 1389.6C1222 1383.8 1222.9 1377.1 1223.6 1369.7C1224.3 1362.2 1224.5 1353.9 1224.6 1344.8C1224.8 1335.7 1224.6 1316.9 1224.6 1314.9C1224.7 1313 1224.9 1335.6 1225 1333.1C1225 1330.6 1225 1313.3 1225 1299.9C1224.9 1286.6 1224.8 1265.8 1224.6 1253C1224.5 1240.2 1224.4 1229.5 1224.2 1223.3C1223.9 1217.1 1223.4 1217.1 1223.3 1215.8"/><path class="l" d="M1194.3 1409.5L1195 1419.9"/><path class="t" d="M1220.6 1223.3C1220.6 1228.2 1220.5 1240.2 1220.5 1253C1220.5 1265.8 1220.6 1286.6 1220.6 1299.9C1220.7 1313.3 1220.8 1329.8 1220.7 1333.1C1220.7 1336.5 1220.3 1317.1 1220.1 1319.9C1220 1322.7 1220.4 1340.6 1219.9 1349.8C1219.4 1358.9 1218.6 1367.8 1217.2 1374.6C1215.7 1381.5 1213.8 1385.8 1211.2 1390.8C1208.6 1395.8 1204.2 1401.1 1201.7 1404.5C1199.2 1407.9 1197.2 1409.9 1196.3 1411"/><path d="M1271.3 1218.7C1271.3 1224.4 1271.4 1239.5 1271.4 1253C1271.4 1266.6 1271.4 1286.6 1271.3 1299.9C1271.3 1313.3 1271.2 1330.6 1271.2 1333.1C1271.2 1335.6 1271.3 1313 1271.4 1314.9C1271.5 1316.9 1271.2 1335.7 1271.6 1344.8C1272.1 1353.9 1272.5 1362.6 1273.9 1369.7C1275.3 1376.7 1277.4 1381.5 1280.1 1387.1C1282.8 1392.7 1287.7 1399.5 1290.1 1403.3C1292.4 1407 1293.6 1408.4 1294.3 1409.5L1293.8 1419.9L1293.8 1419.9C1292.3 1419.3 1288.2 1419 1285.1 1416.4C1282 1413.9 1277.8 1409 1275.1 1404.5C1272.4 1400 1270.4 1395.4 1268.9 1389.6C1267.4 1383.8 1266.5 1377.1 1265.9 1369.7C1265.3 1362.2 1265.3 1353.9 1265.2 1344.8C1265.1 1335.7 1265.3 1316.9 1265.2 1314.9C1265.1 1313 1264.6 1335.6 1264.5 1333.1C1264.3 1330.6 1264.4 1313.3 1264.5 1299.9C1264.5 1286.6 1264.7 1265.8 1264.8 1253C1264.9 1240.2 1265 1229.5 1265.1 1223.3C1265.3 1217.1 1265.7 1217.1 1265.8 1215.8Z" fill="#fff" stroke="none"/><path class="l" d="M1271.3 1218.7C1271.3 1224.4 1271.4 1239.5 1271.4 1253C1271.4 1266.6 1271.4 1286.6 1271.3 1299.9C1271.3 1313.3 1271.2 1330.6 1271.2 1333.1C1271.2 1335.6 1271.3 1313 1271.4 1314.9C1271.5 1316.9 1271.2 1335.7 1271.6 1344.8C1272.1 1353.9 1272.5 1362.6 1273.9 1369.7C1275.3 1376.7 1277.4 1381.5 1280.1 1387.1C1282.8 1392.7 1287.7 1399.5 1290.1 1403.3C1292.4 1407 1293.6 1408.4 1294.3 1409.5"/><path class="l" d="M1293.8 1419.9C1292.3 1419.3 1288.2 1419 1285.1 1416.4C1282 1413.9 1277.8 1409 1275.1 1404.5C1272.4 1400 1270.4 1395.4 1268.9 1389.6C1267.4 1383.8 1266.5 1377.1 1265.9 1369.7C1265.3 1362.2 1265.3 1353.9 1265.2 1344.8C1265.1 1335.7 1265.3 1316.9 1265.2 1314.9C1265.1 1313 1264.6 1335.6 1264.5 1333.1C1264.3 1330.6 1264.4 1313.3 1264.5 1299.9C1264.5 1286.6 1264.7 1265.8 1264.8 1253C1264.9 1240.2 1265 1229.5 1265.1 1223.3C1265.3 1217.1 1265.7 1217.1 1265.8 1215.8"/><path class="l" d="M1294.3 1409.5L1293.8 1419.9"/><path class="t" d="M1269 1223.3C1269.1 1228.2 1269.1 1240.2 1269.1 1253C1269.1 1265.8 1269.1 1286.6 1269 1299.9C1269 1313.3 1268.9 1329.8 1268.9 1333.1C1268.9 1336.5 1269.1 1317.1 1269.2 1319.9C1269.2 1322.7 1268.9 1340.6 1269.4 1349.8C1269.9 1358.9 1270.7 1367.8 1272.1 1374.6C1273.6 1381.5 1275.5 1385.8 1278.1 1390.8C1280.7 1395.8 1285.2 1401.1 1287.6 1404.5C1290 1407.9 1291.7 1409.9 1292.6 1411"/><path class="l" d="M1218.3 1223.3C1218.6 1222.5 1219 1220 1219.8 1218.7C1220.6 1217.3 1222.4 1215.2 1223.3 1215.2C1224.1 1215.2 1224.8 1217 1225 1218.7C1225.2 1220.4 1224.5 1224.4 1224.4 1225.5"/><path class="l" d="M1271.3 1223.3C1271.1 1222.5 1270.8 1220 1269.9 1218.7C1269.1 1217.3 1267.4 1215.2 1266.5 1215.2C1265.7 1215.2 1265 1217 1264.8 1218.7C1264.6 1220.4 1265.2 1224.4 1265.3 1225.5"/><path class="l" d="M1225.5 1240.4C1225.9 1243.5 1227 1251.9 1227.8 1258.7C1228.7 1265.6 1229.8 1274 1230.7 1281.6C1231.6 1289.3 1232.7 1295.9 1233.3 1304.5C1234 1313.1 1234.2 1324.5 1234.5 1333.1C1234.7 1341.7 1234.8 1357.4 1234.7 1356C1234.6 1354.6 1234.3 1325.9 1234.1 1324.9C1233.9 1323.8 1234 1341.5 1233.6 1349.8C1233.2 1358.1 1232.8 1367.6 1231.6 1374.6C1230.4 1381.7 1228.3 1387.9 1226.6 1392.1C1225 1396.2 1222.5 1398.3 1221.6 1399.5"/><path class="l" d="M1262.7 1240.4C1262.4 1243.5 1261.6 1251.9 1260.8 1258.7C1260 1265.6 1258.7 1274 1257.8 1281.6C1256.9 1289.3 1255.9 1295.9 1255.3 1304.5C1254.7 1313.1 1254.2 1324.5 1253.9 1333.1C1253.6 1341.7 1253.4 1357.4 1253.6 1356C1253.8 1354.6 1254.8 1325.9 1255.2 1324.9C1255.6 1323.8 1255.4 1341.5 1256 1349.8C1256.6 1358.1 1257.6 1367.8 1259 1374.6C1260.3 1381.5 1262.1 1386.7 1263.9 1390.8C1265.8 1395 1269.1 1398.1 1270.2 1399.5"/><path class="l" d="M1221.6 1399.5C1223.7 1400.3 1229.9 1403 1234.1 1404C1238.2 1405 1242.4 1405.7 1246.5 1405.7C1250.7 1405.7 1255 1405 1259 1404C1262.9 1403 1268.3 1400.3 1270.2 1399.5"/><path class="t" d="M1224.6 1382.1C1225.4 1384.2 1227.1 1391.3 1229.1 1394.6C1231.1 1397.8 1235.3 1400.4 1236.6 1401.5"/><path class="t" d="M1265.2 1382.1C1264.5 1384.2 1262.8 1391.3 1261 1394.6C1259.1 1397.8 1255.1 1400.4 1254 1401.5"/></g>
<g id="p212"><ellipse class="w" cx="1239" cy="2120.8" rx="115.5" ry="68"/><path class="l" d="M1354.1 2129.2A115.5 68 0 0 1 1123.9 2129.2"/><ellipse class="l" cx="1239" cy="2118.2" rx="104" ry="61.8"/><path class="t" d="M1339.1 2141.2A106.5 63.3 0 0 1 1138.9 2141.2"/><ellipse class="l" cx="1239" cy="2110.2" rx="96" ry="52"/><path class="l" d="M1287.7 2157.3A97.3 53 0 0 1 1159.3 2081"/><path class="t" d="M1264.5 2164.8A98.6 54 0 0 1 1149.6 2089.8"/><path class="t" d="M1323.2 2084.7A97.2 53 0 0 1 1307.7 2148.7"/><ellipse class="l" cx="1239" cy="2107.5" rx="90.6" ry="47.5"/><ellipse class="w" cx="1161.3" cy="2073" rx="5.6" ry="3.7"/><ellipse class="l" cx="1161.3" cy="2073.4" rx="2.6" ry="1.7"/><ellipse cx="1161.3" cy="2073.5" rx="1.2" ry="0.8" fill="#333"/><ellipse class="w" cx="1315.9" cy="2073" rx="5.6" ry="3.7"/><ellipse class="l" cx="1315.9" cy="2073.4" rx="2.6" ry="1.7"/><ellipse cx="1315.9" cy="2073.5" rx="1.2" ry="0.8" fill="#333"/><ellipse class="w" cx="1129.3" cy="2117.4" rx="5.6" ry="3.7"/><ellipse class="l" cx="1129.3" cy="2117.8" rx="2.6" ry="1.7"/><ellipse cx="1129.3" cy="2117.9" rx="1.2" ry="0.8" fill="#333"/><ellipse class="w" cx="1347.9" cy="2117.4" rx="5.6" ry="3.7"/><ellipse class="l" cx="1347.9" cy="2117.8" rx="2.6" ry="1.7"/><ellipse cx="1347.9" cy="2117.9" rx="1.2" ry="0.8" fill="#333"/><ellipse class="w" cx="1163.1" cy="2160.4" rx="5.6" ry="3.7"/><ellipse class="l" cx="1163.1" cy="2160.8" rx="2.6" ry="1.7"/><ellipse cx="1163.1" cy="2160.9" rx="1.2" ry="0.8" fill="#333"/><ellipse class="w" cx="1315" cy="2160.4" rx="5.6" ry="3.7"/><ellipse class="l" cx="1315" cy="2160.8" rx="2.6" ry="1.7"/><ellipse cx="1315" cy="2160.9" rx="1.2" ry="0.8" fill="#333"/><ellipse class="w" cx="1239.5" cy="2177.3" rx="5.6" ry="3.7"/><ellipse class="l" cx="1239.5" cy="2177.7" rx="2.6" ry="1.7"/><ellipse cx="1239.5" cy="2177.8" rx="1.2" ry="0.8" fill="#333"/><path class="l" d="M1234.1 2053.8A4.5 2.2 0 0 1 1243.1 2053.8"/><ellipse cx="1238.6" cy="2064.1" rx="3" ry="2" fill="#222" stroke="#000" stroke-width="0.8"/><ellipse cx="1196.9" cy="2074.7" rx="3" ry="2" fill="#222" stroke="#000" stroke-width="0.8"/><ellipse cx="1280.4" cy="2074.2" rx="3" ry="2" fill="#222" stroke="#000" stroke-width="0.8"/><ellipse cx="1180" cy="2098.2" rx="3" ry="2" fill="#222" stroke="#000" stroke-width="0.8"/><ellipse cx="1298.7" cy="2097.8" rx="3" ry="2" fill="#222" stroke="#000" stroke-width="0.8"/><ellipse cx="1197.7" cy="2122.7" rx="3" ry="2" fill="#222" stroke="#000" stroke-width="0.8"/><ellipse cx="1280.9" cy="2122.7" rx="3" ry="2" fill="#222" stroke="#000" stroke-width="0.8"/><ellipse cx="1239.5" cy="2132" rx="3" ry="2" fill="#222" stroke="#000" stroke-width="0.8"/><ellipse class="w" cx="1239.5" cy="2089.9" rx="22.2" ry="14.5"/><path class="l" d="M1261.4 2094.1A22.2 14.5 0 0 1 1217.6 2094.1"/><ellipse class="w" cx="1239.5" cy="2085.9" rx="19" ry="11.5"/><rect x="1222.5" y="2077.4" width="4.8" height="4.6" class="w" style="stroke-width:1.3"/><rect x="1224.3" y="2075.6" width="4.8" height="4.6" class="w" style="stroke-width:1.3"/><rect x="1226.9" y="2074" width="4.8" height="4.6" class="w" style="stroke-width:1.3"/><rect x="1230.2" y="2072.9" width="4.8" height="4.6" class="w" style="stroke-width:1.3"/><rect x="1233.9" y="2072.2" width="4.8" height="4.6" class="w" style="stroke-width:1.3"/><rect x="1241.6" y="2072.4" width="4.8" height="4.6" class="w" style="stroke-width:1.3"/><rect x="1245.2" y="2073.2" width="4.8" height="4.6" class="w" style="stroke-width:1.3"/><rect x="1248.3" y="2074.5" width="4.8" height="4.6" class="w" style="stroke-width:1.3"/><rect x="1250.6" y="2076.2" width="4.8" height="4.6" class="w" style="stroke-width:1.3"/><rect x="1222.2" y="2090.1" width="4.4" height="4.4" class="w" style="stroke-width:1.3"/><rect x="1252.5" y="2090.1" width="4.4" height="4.4" class="w" style="stroke-width:1.3"/><rect x="1229.9" y="2094.1" width="4.4" height="4.4" class="w" style="stroke-width:1.3"/><rect x="1244.7" y="2094.1" width="4.4" height="4.4" class="w" style="stroke-width:1.3"/><ellipse cx="1239.5" cy="2087.9" rx="9" ry="5.4" fill="#111"/><rect x="1237.3" y="2092.9" width="4.4" height="5" class="w" style="stroke-width:1.3"/><path class="l" d="M1188.9 2058.2v-5q0 -2 2.5 -2h2.5v6M1197.4 2057v-5q0 -2 2.5 -2h2.5v6"/><path class="l" d="M1276.8 2178.2v-6h5.5v6M1283.9 2176.7v-6h5.5v6"/><path class="h" d="M1342.6 2084.9l4 10M1345.2 2084.9l4 12"/><path class="h" d="M1130.2 2135.5l6 11M1132.9 2133.7l6 12"/><path d="M1128.5 2061.2V2047.9A2.1 1.4 0 0 1 1132.7 2047.9V2061.2" class="w" style="stroke-width:1.3"/><ellipse cx="1130.6" cy="2048.1" rx="2.1" ry="1.3" class="t"/><ellipse cx="1130.6" cy="2062.2" rx="4.8" ry="2.9" fill="#111" stroke="#000" stroke-width="1"/><path d="M1128.4 2060.9h4.4" stroke="#eee" stroke-width="0.8"/><path d="M1230.3 2037.2V2023.9A2.1 1.4 0 0 1 1234.5 2023.9V2037.2" class="w" style="stroke-width:1.3"/><ellipse cx="1232.4" cy="2024.1" rx="2.1" ry="1.3" class="t"/><ellipse cx="1232.4" cy="2038.2" rx="4.8" ry="2.9" fill="#111" stroke="#000" stroke-width="1"/><path d="M1230.2 2036.9h4.4" stroke="#eee" stroke-width="0.8"/><path d="M1331.6 2054V2040.7A2.1 1.4 0 0 1 1335.8 2040.7V2054" class="w" style="stroke-width:1.3"/><ellipse cx="1333.7" cy="2040.9" rx="2.1" ry="1.3" class="t"/><ellipse cx="1333.7" cy="2055" rx="4.8" ry="2.9" fill="#111" stroke="#000" stroke-width="1"/><path d="M1331.5 2053.7h4.4" stroke="#eee" stroke-width="0.8"/><path d="M1384 2119.5V2106.2A2.1 1.4 0 0 1 1388.2 2106.2V2119.5" class="w" style="stroke-width:1.3"/><ellipse cx="1386.1" cy="2106.4" rx="2.1" ry="1.3" class="t"/><ellipse cx="1386.1" cy="2120.5" rx="4.8" ry="2.9" fill="#111" stroke="#000" stroke-width="1"/><path d="M1383.9 2119.2h4.4" stroke="#eee" stroke-width="0.8"/><path d="M1342.8 2190.5V2177.2A2.1 1.4 0 0 1 1347 2177.2V2190.5" class="w" style="stroke-width:1.3"/><ellipse cx="1344.9" cy="2177.4" rx="2.1" ry="1.3" class="t"/><ellipse cx="1344.9" cy="2191.5" rx="4.8" ry="2.9" fill="#111" stroke="#000" stroke-width="1"/><path d="M1342.7 2190.2h4.4" stroke="#eee" stroke-width="0.8"/><path d="M1231.2 2214.9V2201.6A2.1 1.4 0 0 1 1235.4 2201.6V2214.9" class="w" style="stroke-width:1.3"/><ellipse cx="1233.3" cy="2201.8" rx="2.1" ry="1.3" class="t"/><ellipse cx="1233.3" cy="2215.9" rx="4.8" ry="2.9" fill="#111" stroke="#000" stroke-width="1"/><path d="M1231.1 2214.6h4.4" stroke="#eee" stroke-width="0.8"/><path d="M1130.4 2189.1V2175.8A2.1 1.4 0 0 1 1134.6 2175.8V2189.1" class="w" style="stroke-width:1.3"/><ellipse cx="1132.5" cy="2176" rx="2.1" ry="1.3" class="t"/><ellipse cx="1132.5" cy="2190.1" rx="4.8" ry="2.9" fill="#111" stroke="#000" stroke-width="1"/><path d="M1130.3 2188.8h4.4" stroke="#eee" stroke-width="0.8"/><path d="M1082.3 2115.8V2102.5A2.1 1.4 0 0 1 1086.5 2102.5V2115.8" class="w" style="stroke-width:1.3"/><ellipse cx="1084.4" cy="2102.7" rx="2.1" ry="1.3" class="t"/><ellipse cx="1084.4" cy="2116.8" rx="4.8" ry="2.9" fill="#111" stroke="#000" stroke-width="1"/><path d="M1082.2 2115.5h4.4" stroke="#eee" stroke-width="0.8"/><ellipse cx="1251.3" cy="2022.5" rx="4.4" ry="3.4" fill="#111"/><path d="M1250 2017h2.6v4h-2.6z" fill="#111"/><ellipse cx="1250.7" cy="2021.7" rx="1.4" ry="0.8" fill="#ccc"/><ellipse class="w" cx="1060.8" cy="2236.1" rx="12" ry="7"/><path class="t" d="M1072.6 2238.5A12 7 0 0 1 1049 2238.5"/><ellipse class="l" cx="1060.8" cy="2236.1" rx="6.8" ry="3.8"/><path d="M995.2 1878.7h10q1.2 2 0 4.2h-10z" class="w" style="stroke-width:1.3"/><ellipse cx="995.2" cy="1880.9" rx="1.5" ry="3.8" class="w" style="stroke-width:1.3"/><path class="h" d="M1474.6 1883.1v3.5h8M1483.6 1880.1v8"/><path d="M1031.1 1777.6L1041.8 1779.8A2.1 2.1 0 0 0 1042.7 1775.7L1031.9 1773.4" class="w" style="stroke-width:1.4"/><ellipse cx="1031.5" cy="1775.5" rx="2.6" ry="4.6" transform="rotate(12 1031.5 1775.5)" fill="#1a1a1a" stroke="#000" stroke-width="1.2"/><path d="M1045 1984.4L1054.7 1979.2A2.1 2.1 0 0 0 1052.7 1975.5L1043 1980.6" class="w" style="stroke-width:1.4"/><ellipse cx="1044" cy="1982.5" rx="2.6" ry="4.6" transform="rotate(-28 1044 1982.5)" fill="#1a1a1a" stroke="#000" stroke-width="1.2"/><path d="M1451.5 1761.6L1441.8 1766.8A2.1 2.1 0 0 0 1443.8 1770.5L1453.5 1765.4" class="w" style="stroke-width:1.4"/><ellipse cx="1452.5" cy="1763.5" rx="2.6" ry="4.6" transform="rotate(152 1452.5 1763.5)" fill="#1a1a1a" stroke="#000" stroke-width="1.2"/><path d="M1442 1980.6L1432.3 1975.5A2.1 2.1 0 0 0 1430.3 1979.2L1440 1984.4" class="w" style="stroke-width:1.4"/><ellipse cx="1441" cy="1982.5" rx="2.6" ry="4.6" transform="rotate(208 1441 1982.5)" fill="#1a1a1a" stroke="#000" stroke-width="1.2"/></g>
<g id="p173"><path class="h" d="M1221.2 2242.2C1217.7 2243.3 1206.4 2246.2 1199.9 2248.4C1193.4 2250.7 1188.7 2253 1182.1 2255.5C1175.6 2258.1 1168.2 2261.3 1160.8 2263.5C1153.4 2265.8 1145.7 2266.5 1137.7 2268.9C1129.7 2271.2 1120.8 2274.5 1112.8 2277.8C1104.8 2281 1095.7 2285.6 1089.7 2288.4C1083.8 2291.2 1082.3 2291.2 1077.3 2294.6C1072.3 2298 1065.1 2303.8 1059.5 2308.9C1053.9 2313.9 1048.3 2319.8 1043.5 2324.9C1038.8 2329.9 1035.2 2335.1 1031.1 2339.1C1026.9 2343.1 1022.5 2345.9 1018.6 2348.8C1014.8 2351.8 1011.1 2354 1008 2356.8C1004.9 2359.7 1001.8 2363.4 1000 2365.7C998.2 2368.1 997.8 2370.2 997.3 2371.1"/><path class="h" d="M1256.8 2242.2C1260.3 2243.3 1271.6 2246.2 1278.1 2248.4C1284.6 2250.7 1289.3 2253 1295.9 2255.5C1302.4 2258.1 1309.8 2261.3 1317.2 2263.5C1324.6 2265.8 1332.3 2266.5 1340.3 2268.9C1348.3 2271.2 1357.2 2274.5 1365.2 2277.8C1373.2 2281 1382.3 2285.6 1388.3 2288.4C1394.2 2291.2 1395.7 2291.2 1400.7 2294.6C1405.7 2298 1412.9 2303.8 1418.5 2308.9C1424.1 2313.9 1429.7 2319.8 1434.5 2324.9C1439.2 2329.9 1442.8 2335.1 1446.9 2339.1C1451.1 2343.1 1455.5 2345.9 1459.4 2348.8C1463.2 2351.8 1466.9 2354 1470 2356.8C1473.1 2359.7 1476.2 2363.4 1478 2365.7C1479.8 2368.1 1480.2 2370.2 1480.7 2371.1"/><path class="l" d="M1221.2 2258.2C1217.7 2259.2 1206.1 2262.2 1199.9 2264.4C1193.7 2266.7 1190.1 2269.2 1183.9 2271.5C1177.7 2273.9 1170.3 2276.3 1162.6 2278.6C1154.9 2281 1145.7 2283.1 1137.7 2285.8C1129.7 2288.4 1122.6 2291.7 1114.6 2294.6C1106.6 2297.6 1096.5 2300.6 1089.7 2303.5C1082.9 2306.5 1079.4 2308.6 1073.7 2312.4C1068.1 2316.3 1061.3 2321.6 1056 2326.6C1050.6 2331.7 1045.6 2337.9 1041.7 2342.6C1037.9 2347.4 1036.4 2351.2 1032.9 2355.1C1029.3 2358.9 1024.6 2363.4 1020.4 2365.7C1016.3 2368.1 1011.7 2368.4 1008 2369.3C1004.3 2370.2 999.8 2370.8 998.2 2371.1"/><path class="l" d="M1256.8 2258.2C1260.3 2259.2 1271.9 2262.2 1278.1 2264.4C1284.3 2266.7 1287.9 2269.2 1294.1 2271.5C1300.3 2273.9 1307.7 2276.3 1315.4 2278.6C1323.1 2281 1332.3 2283.1 1340.3 2285.8C1348.3 2288.4 1355.4 2291.7 1363.4 2294.6C1371.4 2297.6 1381.5 2300.6 1388.3 2303.5C1395.1 2306.5 1398.6 2308.6 1404.3 2312.4C1409.9 2316.3 1416.7 2321.6 1422 2326.6C1427.4 2331.7 1432.4 2337.9 1436.3 2342.6C1440.1 2347.4 1441.6 2351.2 1445.1 2355.1C1448.7 2358.9 1453.4 2363.4 1457.6 2365.7C1461.7 2368.1 1466.3 2368.4 1470 2369.3C1473.7 2370.2 1478.2 2370.8 1479.8 2371.1"/><path class="h" d="M997.3 2385.3C998.2 2387.3 1000.3 2394.2 1002.7 2397.7C1005 2401.3 1008.6 2404.1 1011.5 2406.6C1014.5 2409.1 1017.2 2410.2 1020.4 2412.8C1023.7 2415.5 1028.1 2419.5 1031.1 2422.6C1034 2425.7 1035.2 2428.2 1038.2 2431.5C1041.2 2434.7 1044.7 2438.3 1048.9 2442.1C1053 2446 1058.3 2450.6 1063.1 2454.6C1067.8 2458.6 1072.8 2463 1077.3 2466.1C1081.7 2469.2 1085 2470.7 1089.7 2473.2C1094.5 2475.8 1099.8 2478.4 1105.7 2481.2C1111.6 2484.1 1118.8 2487.6 1125.3 2490.1C1131.8 2492.6 1138.6 2494.6 1144.8 2496.3C1151 2498.1 1156.4 2498.9 1162.6 2500.8C1168.8 2502.7 1176.5 2505.7 1182.1 2507.9C1187.8 2510.1 1191.9 2512.6 1196.4 2514.1C1200.8 2515.7 1204.7 2516.4 1208.8 2517.1C1212.9 2517.9 1219.2 2518.3 1221.2 2518.6"/><path class="h" d="M1480.7 2385.3C1479.8 2387.3 1477.7 2394.2 1475.3 2397.7C1473 2401.3 1469.4 2404.1 1466.5 2406.6C1463.5 2409.1 1460.8 2410.2 1457.6 2412.8C1454.3 2415.5 1449.9 2419.5 1446.9 2422.6C1444 2425.7 1442.8 2428.2 1439.8 2431.5C1436.8 2434.7 1433.3 2438.3 1429.1 2442.1C1425 2446 1419.7 2450.6 1414.9 2454.6C1410.2 2458.6 1405.2 2463 1400.7 2466.1C1396.3 2469.2 1393 2470.7 1388.3 2473.2C1383.5 2475.8 1378.2 2478.4 1372.3 2481.2C1366.4 2484.1 1359.2 2487.6 1352.7 2490.1C1346.2 2492.6 1339.4 2494.6 1333.2 2496.3C1327 2498.1 1321.6 2498.9 1315.4 2500.8C1309.2 2502.7 1301.5 2505.7 1295.9 2507.9C1290.2 2510.1 1286.1 2512.6 1281.6 2514.1C1277.2 2515.7 1273.3 2516.4 1269.2 2517.1C1265.1 2517.9 1258.8 2518.3 1256.8 2518.6"/><path class="l" d="M996.4 2399.5C997.5 2401 1000.1 2405.4 1002.7 2408.4C1005.2 2411.3 1008.6 2414.6 1011.5 2417.3C1014.5 2419.9 1017.2 2420.8 1020.4 2424.4C1023.7 2427.9 1027.8 2434.4 1031.1 2438.6C1034.3 2442.7 1036.4 2445.4 1040 2449.3C1043.5 2453.1 1048 2457.5 1052.4 2461.7C1056.9 2465.8 1062.5 2470.6 1066.6 2474.1C1070.8 2477.7 1073.7 2480.4 1077.3 2483C1080.8 2485.7 1083.8 2487.9 1088 2490.1C1092.1 2492.3 1096.8 2494 1102.2 2496.3C1107.5 2498.7 1114 2501.8 1119.9 2504.3C1125.9 2506.9 1130.6 2509.1 1137.7 2511.5C1144.8 2513.8 1155.2 2516.5 1162.6 2518.6C1170 2520.6 1176.5 2522 1182.1 2523.9C1187.8 2525.8 1191.9 2528.5 1196.4 2530.1C1200.8 2531.7 1204.7 2532.8 1208.8 2533.7C1212.9 2534.6 1219.2 2535.1 1221.2 2535.4"/><path class="l" d="M1481.6 2399.5C1480.5 2401 1477.9 2405.4 1475.3 2408.4C1472.8 2411.3 1469.4 2414.6 1466.5 2417.3C1463.5 2419.9 1460.8 2420.8 1457.6 2424.4C1454.3 2427.9 1450.2 2434.4 1446.9 2438.6C1443.7 2442.7 1441.6 2445.4 1438 2449.3C1434.5 2453.1 1430 2457.5 1425.6 2461.7C1421.1 2465.8 1415.5 2470.6 1411.4 2474.1C1407.2 2477.7 1404.3 2480.4 1400.7 2483C1397.2 2485.7 1394.2 2487.9 1390 2490.1C1385.9 2492.3 1381.2 2494 1375.8 2496.3C1370.5 2498.7 1364 2501.8 1358.1 2504.3C1352.1 2506.9 1347.4 2509.1 1340.3 2511.5C1333.2 2513.8 1322.8 2516.5 1315.4 2518.6C1308 2520.6 1301.5 2522 1295.9 2523.9C1290.2 2525.8 1286.1 2528.5 1281.6 2530.1C1277.2 2531.7 1273.3 2532.8 1269.2 2533.7C1265.1 2534.6 1258.8 2535.1 1256.8 2535.4"/><path class="t" d="M1184.5 2273.1C1181 2274.3 1170.9 2277.9 1163.2 2280.2C1155.5 2282.6 1146.3 2284.7 1138.3 2287.4C1130.3 2290 1123.2 2293.3 1115.2 2296.2C1107.2 2299.2 1097.1 2302.2 1090.3 2305.1C1083.5 2308.1 1080 2310.2 1074.3 2314C1068.7 2317.9 1061.9 2323.2 1056.6 2328.2C1051.2 2333.3 1046.2 2339.5 1042.3 2344.2C1038.5 2349 1034.9 2354.6 1033.5 2356.7"/><path class="t" d="M1293.5 2273.1C1297 2274.3 1307.1 2277.9 1314.8 2280.2C1322.5 2282.6 1331.7 2284.7 1339.7 2287.4C1347.7 2290 1354.8 2293.3 1362.8 2296.2C1370.8 2299.2 1380.9 2302.2 1387.7 2305.1C1394.5 2308.1 1398 2310.2 1403.7 2314C1409.3 2317.9 1416.1 2323.2 1421.4 2328.2C1426.8 2333.3 1431.8 2339.5 1435.7 2344.2C1439.5 2349 1443.1 2354.6 1444.5 2356.7"/><path class="l" d="M1161.7 2263.5L1161.7 2278.6"/><path class="l" d="M1316.3 2263.5L1316.3 2278.6"/><path class="l" d="M1183 2255.5L1183 2271.5"/><path class="l" d="M1295 2255.5L1295 2271.5"/><path class="l" d="M1078.2 2294.3L1078.2 2309.7"/><path class="l" d="M1399.8 2294.3L1399.8 2309.7"/><path class="l" d="M1089.7 2288.4L1089.7 2303.5"/><path class="l" d="M1388.3 2288.4L1388.3 2303.5"/><path class="t" d="M1078.2 2294.3L1088 2288.4L1089.7 2288.4"/><path class="t" d="M1399.8 2294.3L1390 2288.4L1388.3 2288.4"/><path class="l" d="M1161.7 2278.6C1163.6 2286.6 1168.7 2309.2 1173.3 2326.6C1177.8 2344.1 1183.6 2364.2 1189.3 2383.5C1194.9 2402.7 1203.2 2428.5 1207 2442.1C1210.9 2455.8 1210.6 2458.7 1212.4 2465.2C1214.1 2471.8 1216.8 2478.6 1217.7 2481.2"/><path class="l" d="M1316.3 2278.6C1314.4 2286.6 1309.3 2309.2 1304.7 2326.6C1300.2 2344.1 1294.4 2364.2 1288.7 2383.5C1283.1 2402.7 1274.8 2428.5 1271 2442.1C1267.1 2455.8 1267.4 2458.7 1265.6 2465.2C1263.9 2471.8 1261.2 2478.6 1260.3 2481.2"/><path class="l" d="M1183 2271.5C1185.3 2280.7 1192.1 2308 1196.4 2326.6C1200.7 2345.3 1204.8 2364.2 1208.8 2383.5C1212.8 2402.7 1217.7 2428.5 1220.4 2442.1C1223 2455.8 1223.5 2459 1224.8 2465.2C1226.1 2471.5 1227.8 2477.1 1228.3 2479.5"/><path class="l" d="M1295 2271.5C1292.7 2280.7 1285.9 2308 1281.6 2326.6C1277.3 2345.3 1273.2 2364.2 1269.2 2383.5C1265.2 2402.7 1260.3 2428.5 1257.6 2442.1C1255 2455.8 1254.5 2459 1253.2 2465.2C1251.9 2471.5 1250.2 2477.1 1249.7 2479.5"/><path class="l" d="M1093.3 2472.4C1097.7 2470.3 1109.6 2463.8 1119.9 2459.9C1130.3 2456.1 1144.2 2452.1 1155.5 2449.3C1166.7 2446.4 1178.6 2444.4 1187.5 2443C1196.4 2441.7 1203.3 2441.4 1208.8 2441.3C1214.3 2441.1 1218.4 2442 1220.4 2442.1"/><path class="l" d="M1384.7 2472.4C1380.3 2470.3 1368.4 2463.8 1358.1 2459.9C1347.7 2456.1 1333.8 2452.1 1322.5 2449.3C1311.3 2446.4 1299.4 2444.4 1290.5 2443C1281.6 2441.7 1274.7 2441.4 1269.2 2441.3C1263.7 2441.1 1259.6 2442 1257.6 2442.1"/><path class="l" d="M1100.4 2477.7C1105.1 2475.6 1118.2 2469.1 1128.8 2465.2C1139.5 2461.4 1154 2457.2 1164.4 2454.6C1174.7 2451.9 1182.4 2450.9 1191 2449.3C1199.6 2447.6 1211.8 2445.5 1215.9 2444.8"/><path class="l" d="M1377.6 2477.7C1372.9 2475.6 1359.8 2469.1 1349.2 2465.2C1338.5 2461.4 1324 2457.2 1313.6 2454.6C1303.3 2451.9 1295.6 2450.9 1287 2449.3C1278.4 2447.6 1266.2 2445.5 1262.1 2444.8"/><path class="l" d="M1223 2244.9C1223.3 2252.6 1223.6 2276 1224.8 2291.1C1226 2306.2 1228.3 2324.9 1230.1 2335.5C1231.9 2346.2 1234 2351.3 1235.5 2355.1C1236.9 2358.9 1237.8 2358.3 1239 2358.3C1240.2 2358.3 1241.1 2358.9 1242.6 2355.1C1244 2351.3 1246.2 2346.2 1247.9 2335.5C1249.6 2324.9 1251.7 2306.2 1252.9 2291.1C1254 2276 1254.4 2252.6 1254.7 2244.9"/><path class="l" d="M1260.5 2482.7A21.5 5.6 0 0 1 1217.5 2482.7"/><path class="t" d="M1217.5 2482.7A21.5 5.6 0 0 1 1260.5 2482.7"/><path class="h" d="M1220.4 2241.3L1221.2 2244.9L1255.9 2244.9L1256.8 2241.3"/><path class="h" d="M1220.4 2241.3L1256.8 2241.3"/><path class="h" d="M1223 2244.9C1224.2 2245.9 1227.5 2249.8 1230.1 2251.1C1232.8 2252.4 1236 2252.9 1239 2252.9C1242 2252.9 1245.4 2252.4 1247.9 2251.1C1250.4 2249.8 1253.1 2245.9 1254.1 2244.9"/><path class="l" d="M1225.7 2245.2C1226.7 2245.9 1229.7 2248.2 1231.9 2249C1234.1 2249.7 1236.6 2249.9 1239 2249.9C1241.4 2249.9 1244 2249.7 1246.1 2249C1248.2 2248.2 1250.6 2245.9 1251.5 2245.2"/><path class="l" d="M1226.6 2241L1226.6 2234.6L1228 2234.6L1228 2239.5L1234.6 2239.5L1235.8 2236.3L1237.6 2238.7L1239.4 2236.3L1240.8 2239.5L1246.5 2239.5L1246.5 2234.6L1248.3 2234.6L1248.3 2241"/><path class="h" d="M997.3 2371.1L984.9 2371.1L984 2372.8L984 2379.9L985.8 2381.4L995.5 2380.8"/><path class="l" d="M986.7 2373.7L992.9 2373.7L992.9 2378.2L986.7 2378.2L986.7 2373.7"/><path class="l" d="M988.4 2376L992 2376"/><path class="l" d="M997.3 2371.1C997.2 2372.5 996.4 2377.6 996.4 2379.9C996.4 2382.3 997.2 2384.4 997.3 2385.3"/><path class="t" d="M998.2 2385.3C998.5 2384.5 999.3 2381.3 1000 2380.8C1000.7 2380.4 1001.9 2379.8 1002.3 2382.6C1002.7 2385.4 1002.6 2395.2 1002.7 2397.7"/><path class="l" d="M1000 2368.4C1001 2368.2 1004 2368.5 1006.2 2367.5C1008.4 2366.5 1011.2 2363.4 1013.3 2362.2C1015.4 2361 1017.8 2360.7 1018.6 2360.4"/><path class="l" d="M1014.2 2356C1014.6 2355.5 1015.6 2352.5 1016.5 2353.3C1017.4 2354 1019.4 2358.5 1019.5 2360.4C1019.7 2362.3 1018 2364.8 1017.2 2364.8C1016.5 2364.8 1015.6 2361.9 1015.1 2360.4C1014.6 2358.9 1014.4 2356.7 1014.2 2356"/><path class="l" d="M995.5 2380.8L995.5 2560"/><path class="l" d="M1482.5 2380.8L1482.5 2560"/><path class="t" d="M997.3 2399.5L997.3 2560"/><path class="t" d="M1480.7 2399.5L1480.7 2560"/><path class="l" d="M1005.3 2371.1L1005.9 2399.5"/><path class="l" d="M1472.7 2371.1L1472.1 2399.5"/><path class="l" d="M1019 2348.8L1019 2412.8"/><path class="l" d="M1459 2348.8L1459 2412.8"/><path class="l" d="M1020.4 2424.4L1020.4 2560"/><path class="l" d="M1457.6 2424.4L1457.6 2560"/><path class="t" d="M1018.6 2413.7L1018.6 2424.4"/><path class="t" d="M1459.4 2413.7L1459.4 2424.4"/><path class="l" d="M1034.6 2355.1L1033.2 2424.4"/><path class="l" d="M1443.4 2355.1L1444.8 2424.4"/><path class="l" d="M1032.9 2439.5L1031.1 2504.3"/><path class="l" d="M1445.1 2439.5L1446.9 2504.3"/><path class="l" d="M996.4 2397.7C997.5 2405.1 1000.4 2425.9 1002.7 2442.1C1004.9 2458.4 1007.7 2480.4 1009.8 2495.5C1011.8 2510.6 1014.2 2526.6 1015.1 2532.8"/><path class="l" d="M1481.6 2397.7C1480.5 2405.1 1477.6 2425.9 1475.3 2442.1C1473.1 2458.4 1470.3 2480.4 1468.2 2495.5C1466.2 2510.6 1463.8 2526.6 1462.9 2532.8"/><path class="l" d="M1008 2560C1009.8 2553.7 1014.8 2532.6 1018.6 2522.1C1022.5 2511.7 1026.6 2504.3 1031.1 2497.2C1035.5 2490.1 1041.2 2483.8 1045.3 2479.5C1049.4 2475.2 1052.4 2472.1 1056 2471.5C1059.5 2470.9 1064.9 2475.2 1066.6 2475.9"/><path class="l" d="M1470 2560C1468.2 2553.7 1463.2 2532.6 1459.4 2522.1C1455.5 2511.7 1451.4 2504.3 1446.9 2497.2C1442.5 2490.1 1436.8 2483.8 1432.7 2479.5C1428.6 2475.2 1425.6 2472.1 1422 2471.5C1418.5 2470.9 1413.1 2475.2 1411.4 2475.9"/><path class="l" d="M1029.3 2560C1030.2 2553.7 1032.3 2532.6 1034.6 2522.1C1037 2511.7 1040.6 2504 1043.5 2497.2C1046.5 2490.4 1049.7 2485.4 1052.4 2481.2C1055.1 2477.1 1058.3 2473.8 1059.5 2472.4"/><path class="l" d="M1448.7 2560C1447.8 2553.7 1445.7 2532.6 1443.4 2522.1C1441 2511.7 1437.4 2504 1434.5 2497.2C1431.5 2490.4 1428.3 2485.4 1425.6 2481.2C1422.9 2477.1 1419.7 2473.8 1418.5 2472.4"/><path class="l" d="M1102.2 2496.3C1104.5 2499.2 1111.6 2506.6 1116.4 2513.2C1121.1 2519.9 1126.2 2528.5 1130.6 2536.3C1135 2544.1 1141 2556 1143 2560"/><path class="l" d="M1375.8 2496.3C1373.5 2499.2 1366.4 2506.6 1361.6 2513.2C1356.9 2519.9 1351.8 2528.5 1347.4 2536.3C1343 2544.1 1337 2556 1335 2560"/><path class="l" d="M1104.8 2497.2C1107.4 2500.2 1114.9 2508.2 1119.9 2515C1125 2521.8 1130.5 2530.6 1135 2538.1C1139.6 2545.6 1145.4 2556.3 1147.5 2560"/><path class="l" d="M1373.2 2497.2C1370.6 2500.2 1363.1 2508.2 1358.1 2515C1353 2521.8 1347.5 2530.6 1343 2538.1C1338.4 2545.6 1332.6 2556.3 1330.5 2560"/><path class="t" d="M1109.3 2499.9C1111.6 2502.7 1118.6 2510.1 1123.5 2516.8C1128.4 2523.4 1134 2532.7 1138.6 2539.9C1143.2 2547.1 1149 2556.6 1151 2560"/><path class="t" d="M1368.7 2499.9C1366.4 2502.7 1359.4 2510.1 1354.5 2516.8C1349.6 2523.4 1344 2532.7 1339.4 2539.9C1334.8 2547.1 1329 2556.6 1327 2560"/><path class="l" d="M1077.3 2466.1L1078.7 2560"/><path class="l" d="M1400.7 2466.1L1399.3 2560"/><path class="t" d="M1080.8 2467.9L1082.3 2560"/><path class="t" d="M1397.2 2467.9L1395.7 2560"/><path class="t" d="M1087.1 2471L1088.5 2560"/><path class="t" d="M1390.9 2471L1389.5 2560"/><path class="l" d="M1090.6 2472.8L1092 2560"/><path class="l" d="M1387.4 2472.8L1386 2560"/><path class="l" d="M1161.7 2500.8L1161.7 2518.6"/><path class="l" d="M1316.3 2500.8L1316.3 2518.6"/><path class="l" d="M1182.1 2507.9L1182.1 2523.9"/><path class="l" d="M1295.9 2507.9L1295.9 2523.9"/><path class="l" d="M1161.7 2518.6C1162.4 2522.1 1164.5 2533 1166.1 2539.9C1167.8 2546.8 1170.6 2556.6 1171.5 2560"/><path class="l" d="M1316.3 2518.6C1315.6 2522.1 1313.5 2533 1311.9 2539.9C1310.2 2546.8 1307.4 2556.6 1306.5 2560"/><path class="l" d="M1182.1 2523.9C1182.9 2526.6 1185.1 2533.9 1186.6 2539.9C1188.1 2545.9 1190.3 2556.6 1191 2560"/><path class="l" d="M1295.9 2523.9C1295.1 2526.6 1292.9 2533.9 1291.4 2539.9C1289.9 2545.9 1287.7 2556.6 1287 2560"/><path class="l" d="M1076.4 2466.1L1078.2 2483"/><path class="l" d="M1401.6 2466.1L1399.8 2483"/><path class="l" d="M1089.7 2473.2L1089.4 2491"/><path class="l" d="M1388.3 2473.2L1388.6 2491"/><path class="h" d="M1226.6 2520.3C1226.7 2517.7 1226.6 2508.6 1227.5 2504.3C1228.3 2500 1230 2496.7 1231.9 2494.6C1233.8 2492.4 1236.4 2491.5 1238.7 2491.5C1240.9 2491.5 1243.4 2492.4 1245.2 2494.6C1247.1 2496.7 1248.8 2500 1249.7 2504.3C1250.6 2508.6 1250.4 2517.7 1250.6 2520.3"/><path class="l" d="M1230.1 2520.3C1230.3 2518 1230.3 2509.7 1231 2506.1C1231.8 2502.5 1233.3 2500.2 1234.6 2498.7C1235.8 2497.1 1237.3 2496.9 1238.7 2496.9C1240 2496.9 1241.6 2497.1 1242.9 2498.7C1244.2 2500.2 1245.8 2502.5 1246.5 2506.1C1247.2 2509.7 1247.1 2518 1247.2 2520.3"/><path class="h" d="M1220.4 2518.6L1221.2 2535.4L1224.8 2535.4L1224.8 2538.1"/><path class="h" d="M1257.6 2518.6L1256.8 2535.4L1253.2 2535.4L1253.2 2538.1"/><path class="l" d="M1232.8 2520.3L1232.8 2527.4L1244.3 2527.4L1244.3 2520.3"/><path class="l" d="M1234.6 2522.1L1235.8 2526L1237.2 2523.5L1238.7 2526L1240.1 2523.5L1241.5 2526L1242.6 2522.1"/><path class="l" d="M1226 2520.3L1227.5 2811.9"/><path class="l" d="M1252 2520.3L1250.5 2811.9"/><path class="l" d="M1227.6 2520.3L1229.1 2811.9"/><path class="l" d="M1250.4 2520.3L1248.9 2811.9"/><path class="t" d="M1229.9 2520.3L1231.4 2811.9"/><path class="t" d="M1248.1 2520.3L1246.6 2811.9"/><path class="l" d="M1231.9 2520.3L1233.3 2811.9"/><path class="l" d="M1246.1 2520.3L1244.7 2811.9"/><path class="l" d="M1013.3 2540C1012.2 2543.3 1008.2 2553.6 1006.6 2559.5C1004.9 2565.5 1004.3 2570.7 1003.5 2575.5C1002.7 2580.4 1002.1 2586.7 1001.8 2588.9"/><path class="l" d="M1464.7 2540C1465.8 2543.3 1469.8 2553.6 1471.4 2559.5C1473.1 2565.5 1473.7 2570.7 1474.5 2575.5C1475.3 2580.4 1475.9 2586.7 1476.2 2588.9"/><path class="t" d="M1001.8 2588.9L1001.8 2692.8"/><path class="t" d="M1476.2 2588.9L1476.2 2692.8"/><path class="l" d="M1001.8 2588.9L1024 2588.9"/><path class="l" d="M1476.2 2588.9L1454 2588.9"/><path class="l" d="M1000.9 2599L1029.3 2600.8"/><path class="l" d="M1477.1 2599L1448.7 2600.8"/><path class="l" d="M1031.4 2540C1031 2543.6 1029.5 2554.2 1029 2561.3C1028.4 2568.4 1028 2575.8 1028.2 2582.7C1028.4 2589.5 1029.9 2598.9 1030.2 2602.2"/><path class="l" d="M1446.6 2540C1447 2543.6 1448.5 2554.2 1449 2561.3C1449.6 2568.4 1450 2575.8 1449.8 2582.7C1449.6 2589.5 1448.1 2598.9 1447.8 2602.2"/><path class="l" d="M1030.2 2602.2L1030.2 2755"/><path class="l" d="M1447.8 2602.2L1447.8 2755"/><path class="t" d="M1028.4 2602.2L1028.4 2687.5"/><path class="t" d="M1449.6 2602.2L1449.6 2687.5"/><path class="l" d="M995.5 2540C995.5 2557.2 995.7 2623.5 995.5 2643.1C995.4 2662.6 995.1 2653.1 994.7 2657.3C994.2 2661.4 993.2 2666.2 992.9 2668"/><path class="l" d="M1482.5 2540C1482.5 2557.2 1482.3 2623.5 1482.5 2643.1C1482.6 2662.6 1482.9 2653.1 1483.3 2657.3C1483.8 2661.4 1484.8 2666.2 1485.1 2668"/><path class="t" d="M997.3 2540L997.3 2646.6"/><path class="t" d="M1480.7 2540L1480.7 2646.6"/><path class="l" d="M992.9 2668C991.8 2668.3 988.5 2668.3 986.7 2669.7C984.8 2671.2 982.5 2668.8 981.7 2676.8C980.9 2684.8 980.6 2707.9 981.7 2717.7C982.8 2727.5 985.5 2730.5 988.4 2735.5C991.3 2740.5 995 2744.8 999.1 2747.9C1003.2 2751 1008.1 2753 1013.3 2754.1C1018.5 2755.3 1027.4 2754.9 1030.2 2755"/><path class="l" d="M1485.1 2668C1486.2 2668.3 1489.5 2668.3 1491.3 2669.7C1493.2 2671.2 1495.5 2668.8 1496.3 2676.8C1497.1 2684.8 1497.4 2707.9 1496.3 2717.7C1495.2 2727.5 1492.5 2730.5 1489.6 2735.5C1486.7 2740.5 1483 2744.8 1478.9 2747.9C1474.8 2751 1469.9 2753 1464.7 2754.1C1459.5 2755.3 1450.6 2754.9 1447.8 2755"/><path class="l" d="M982.2 2678.6C983 2679.5 984.7 2682.5 986.7 2683.9C988.6 2685.4 991.4 2686.4 993.8 2687.1C996.1 2687.9 999.7 2688.2 1000.9 2688.4"/><path class="l" d="M1495.8 2678.6C1495 2679.5 1493.3 2682.5 1491.3 2683.9C1489.4 2685.4 1486.6 2686.4 1484.2 2687.1C1481.9 2687.9 1478.3 2688.2 1477.1 2688.4"/><path class="t" d="M984.9 2676C985.5 2676.7 986.8 2679.1 988.4 2680.4C990.1 2681.7 992.5 2682.9 994.7 2683.6C996.8 2684.2 1000.1 2684.2 1001.2 2684.3"/><path class="t" d="M1493.1 2676C1492.5 2676.7 1491.2 2679.1 1489.6 2680.4C1487.9 2681.7 1485.5 2682.9 1483.3 2683.6C1481.2 2684.2 1477.9 2684.2 1476.8 2684.3"/><path class="t" d="M986.7 2672.4C987.2 2673.1 989.2 2675.5 990.2 2676.8C991.2 2678.2 992.4 2679.8 992.9 2680.4"/><path class="t" d="M1491.3 2672.4C1490.8 2673.1 1488.8 2675.5 1487.8 2676.8C1486.8 2678.2 1485.6 2679.8 1485.1 2680.4"/><path class="l" d="M1000.9 2687.1L1030.2 2687.1"/><path class="l" d="M1477.1 2687.1L1447.8 2687.1"/><path class="t" d="M994.7 2694.6L1030.2 2695"/><path class="t" d="M1483.3 2694.6L1447.8 2695"/><path class="l" d="M989.3 2698.2C991 2699.2 995.1 2702.9 999.1 2704.4C1003.1 2705.9 1008.6 2706 1013.3 2707.1C1018.1 2708.1 1024.2 2709.1 1027.5 2711C1030.8 2712.8 1032.3 2716.9 1033.2 2718.1"/><path class="l" d="M1488.7 2698.2C1487 2699.2 1482.9 2702.9 1478.9 2704.4C1474.9 2705.9 1469.4 2706 1464.7 2707.1C1459.9 2708.1 1453.8 2709.1 1450.5 2711C1447.2 2712.8 1445.7 2716.9 1444.8 2718.1"/><path class="l" d="M995.5 2701C997.9 2702.3 1005 2706.8 1009.8 2708.8C1014.5 2710.9 1020 2711.5 1024 2713.4C1028 2715.4 1032.1 2719.2 1033.8 2720.4"/><path class="l" d="M1482.5 2701C1480.1 2702.3 1473 2706.8 1468.2 2708.8C1463.5 2710.9 1458 2711.5 1454 2713.4C1450 2715.4 1445.9 2719.2 1444.2 2720.4"/><path class="l" d="M1033.2 2718.1L1034.6 2721.3L1033.8 2720.4"/><path class="l" d="M1444.8 2718.1L1443.4 2721.3L1444.2 2720.4"/><path class="l" d="M989.3 2713.8C991 2714.8 995.1 2718.5 999.1 2720C1003.1 2721.5 1008.6 2721.6 1013.3 2722.7C1018.1 2723.8 1024.2 2724.8 1027.5 2726.6C1030.8 2728.4 1032.3 2732.5 1033.2 2733.7"/><path class="l" d="M1488.7 2713.8C1487 2714.8 1482.9 2718.5 1478.9 2720C1474.9 2721.5 1469.4 2721.6 1464.7 2722.7C1459.9 2723.8 1453.8 2724.8 1450.5 2726.6C1447.2 2728.4 1445.7 2732.5 1444.8 2733.7"/><path class="l" d="M995.5 2716.6C997.9 2718 1005 2722.4 1009.8 2724.5C1014.5 2726.5 1020 2727.2 1024 2729.1C1028 2731 1032.1 2734.9 1033.8 2736"/><path class="l" d="M1482.5 2716.6C1480.1 2718 1473 2722.4 1468.2 2724.5C1463.5 2726.5 1458 2727.2 1454 2729.1C1450 2731 1445.9 2734.9 1444.2 2736"/><path class="l" d="M1033.2 2733.7L1034.6 2736.9L1033.8 2736"/><path class="l" d="M1444.8 2733.7L1443.4 2736.9L1444.2 2736"/><path class="l" d="M989.3 2727.5C991 2728.5 995.1 2732.2 999.1 2733.7C1003.1 2735.2 1008.6 2735.3 1013.3 2736.4C1018.1 2737.5 1024.2 2738.4 1027.5 2740.3C1030.8 2742.1 1032.3 2746.2 1033.2 2747.4"/><path class="l" d="M1488.7 2727.5C1487 2728.5 1482.9 2732.2 1478.9 2733.7C1474.9 2735.2 1469.4 2735.3 1464.7 2736.4C1459.9 2737.5 1453.8 2738.4 1450.5 2740.3C1447.2 2742.1 1445.7 2746.2 1444.8 2747.4"/><path class="l" d="M995.5 2730.3C997.9 2731.6 1005 2736.1 1009.8 2738.2C1014.5 2740.2 1020 2740.8 1024 2742.8C1028 2744.7 1032.1 2748.5 1033.8 2749.7"/><path class="l" d="M1482.5 2730.3C1480.1 2731.6 1473 2736.1 1468.2 2738.2C1463.5 2740.2 1458 2740.8 1454 2742.8C1450 2744.7 1445.9 2748.5 1444.2 2749.7"/><path class="l" d="M1033.2 2747.4L1034.6 2750.6L1033.8 2749.7"/><path class="l" d="M1444.8 2747.4L1443.4 2750.6L1444.2 2749.7"/><path class="l" d="M1030.2 2602.2C1033.3 2605.5 1042.8 2616.1 1048.9 2621.7C1054.9 2627.4 1061.3 2631.8 1066.6 2636C1072 2640.1 1076.7 2643.2 1080.8 2646.6C1085 2650 1085 2652.6 1091.5 2656.4C1098 2660.3 1109.3 2665.7 1119.9 2669.7C1130.6 2673.7 1144.2 2677.6 1155.5 2680.4C1166.7 2683.2 1179 2685.4 1187.5 2686.6C1195.9 2687.8 1199.6 2686.9 1206.1 2687.5C1212.7 2688.1 1223.2 2689.7 1226.6 2690.2"/><path class="l" d="M1447.8 2602.2C1444.7 2605.5 1435.2 2616.1 1429.1 2621.7C1423.1 2627.4 1416.7 2631.8 1411.4 2636C1406 2640.1 1401.3 2643.2 1397.2 2646.6C1393 2650 1393 2652.6 1386.5 2656.4C1380 2660.3 1368.7 2665.7 1358.1 2669.7C1347.4 2673.7 1333.8 2677.6 1322.5 2680.4C1311.3 2683.2 1299 2685.4 1290.5 2686.6C1282.1 2687.8 1278.4 2686.9 1271.9 2687.5C1265.3 2688.1 1254.8 2689.7 1251.4 2690.2"/><path class="t" d="M1031.1 2598.6C1034.2 2602 1043.7 2612.9 1049.7 2618.5C1055.8 2624.2 1062 2628.5 1067.5 2632.8C1073 2637 1080.1 2642.1 1082.6 2644"/><path class="t" d="M1446.9 2598.6C1443.8 2602 1434.3 2612.9 1428.3 2618.5C1422.2 2624.2 1416 2628.5 1410.5 2632.8C1405 2637 1397.9 2642.1 1395.4 2644"/><path class="t" d="M1095.1 2655.5C1099.2 2657.4 1109.9 2663.4 1119.9 2667.1C1130 2670.8 1144.2 2674.9 1155.5 2677.7C1166.7 2680.6 1179 2683 1187.5 2684.3C1195.9 2685.6 1203 2685.2 1206.1 2685.4"/><path class="t" d="M1382.9 2655.5C1378.8 2657.4 1368.1 2663.4 1358.1 2667.1C1348 2670.8 1333.8 2674.9 1322.5 2677.7C1311.3 2680.6 1299 2683 1290.5 2684.3C1282.1 2685.6 1275 2685.2 1271.9 2685.4"/><path class="l" d="M1031.1 2737.3C1033.5 2740.2 1040 2749.7 1045.3 2755C1050.6 2760.4 1056.6 2764.7 1063.1 2769.3C1069.6 2773.8 1077.9 2778.9 1084.4 2782.6C1090.9 2786.3 1095.7 2788.7 1102.2 2791.5C1108.7 2794.3 1117.6 2797.7 1123.5 2799.5C1129.4 2801.2 1132.4 2800.9 1137.7 2802.1C1143 2803.3 1149.6 2805.2 1155.5 2806.6C1161.4 2807.9 1167.9 2809.1 1173.3 2810.1C1178.6 2811.2 1185.1 2812.3 1187.5 2812.8"/><path class="l" d="M1446.9 2737.3C1444.5 2740.2 1438 2749.7 1432.7 2755C1427.4 2760.4 1421.4 2764.7 1414.9 2769.3C1408.4 2773.8 1400.1 2778.9 1393.6 2782.6C1387.1 2786.3 1382.3 2788.7 1375.8 2791.5C1369.3 2794.3 1360.4 2797.7 1354.5 2799.5C1348.6 2801.2 1345.6 2800.9 1340.3 2802.1C1335 2803.3 1328.4 2805.2 1322.5 2806.6C1316.6 2807.9 1310.1 2809.1 1304.7 2810.1C1299.4 2811.2 1292.9 2812.3 1290.5 2812.8"/><path class="t" d="M1127.1 2801.2C1128.8 2801.8 1133 2803.5 1137.7 2804.8C1142.5 2806.1 1149.6 2807.9 1155.5 2809.2C1161.4 2810.6 1168.1 2811.8 1173.3 2812.8C1178.4 2813.8 1184.4 2814.7 1186.6 2815.1"/><path class="t" d="M1350.9 2801.2C1349.2 2801.8 1345 2803.5 1340.3 2804.8C1335.5 2806.1 1328.4 2807.9 1322.5 2809.2C1316.6 2810.6 1309.9 2811.8 1304.7 2812.8C1299.6 2813.8 1293.6 2814.7 1291.4 2815.1"/><path class="l" d="M1032 2755.9C1032.4 2758.1 1033.3 2765.3 1034.6 2769.3C1036 2773.3 1037 2775.5 1040 2779.9C1042.9 2784.4 1047.4 2790.6 1052.4 2795.9C1057.4 2801.2 1064.9 2807.5 1070.2 2811.9C1075.5 2816.3 1079.1 2819 1084.4 2822.6C1089.7 2826.1 1096.2 2830.1 1102.2 2833.2C1108.1 2836.3 1114 2838.9 1119.9 2841.2C1125.9 2843.6 1131.8 2845.5 1137.7 2847.4C1143.6 2849.4 1149.6 2851.3 1155.5 2852.8C1161.4 2854.3 1167.3 2855.3 1173.3 2856.3C1179.2 2857.4 1185.1 2858.4 1191 2859C1197 2859.6 1205.8 2859.7 1208.8 2859.9"/><path class="l" d="M1446 2755.9C1445.6 2758.1 1444.7 2765.3 1443.4 2769.3C1442 2773.3 1441 2775.5 1438 2779.9C1435.1 2784.4 1430.6 2790.6 1425.6 2795.9C1420.6 2801.2 1413.1 2807.5 1407.8 2811.9C1402.5 2816.3 1398.9 2819 1393.6 2822.6C1388.3 2826.1 1381.8 2830.1 1375.8 2833.2C1369.9 2836.3 1364 2838.9 1358.1 2841.2C1352.1 2843.6 1346.2 2845.5 1340.3 2847.4C1334.4 2849.4 1328.4 2851.3 1322.5 2852.8C1316.6 2854.3 1310.7 2855.3 1304.7 2856.3C1298.8 2857.4 1292.9 2858.4 1287 2859C1281 2859.6 1272.2 2859.7 1269.2 2859.9"/><path class="l" d="M1079.4 2540C1079.7 2558.4 1080.4 2603.4 1081.2 2650.2C1082 2697 1083.6 2792.4 1084 2820.8"/><path class="l" d="M1398.6 2540C1398.3 2558.4 1397.6 2603.4 1396.8 2650.2C1396 2697 1394.4 2792.4 1394 2820.8"/><path class="t" d="M1083 2540C1083.3 2559 1084.2 2606.7 1084.8 2653.7C1085.3 2700.8 1086.2 2794.1 1086.5 2822.2"/><path class="t" d="M1395 2540C1394.7 2559 1393.8 2606.7 1393.2 2653.7C1392.7 2700.8 1391.8 2794.1 1391.5 2822.2"/><path class="t" d="M1087.6 2540C1087.9 2559.3 1088.7 2608.1 1089.4 2655.5C1090.1 2702.9 1091.4 2796.2 1091.9 2824.3"/><path class="t" d="M1390.4 2540C1390.1 2559.3 1389.3 2608.1 1388.6 2655.5C1387.9 2702.9 1386.6 2796.2 1386.1 2824.3"/><path class="l" d="M1091.2 2540C1091.4 2559.4 1092.2 2608.7 1092.9 2656.4C1093.6 2704.1 1095 2798.1 1095.4 2826.5"/><path class="l" d="M1386.8 2540C1386.6 2559.4 1385.8 2608.7 1385.1 2656.4C1384.4 2704.1 1383 2798.1 1382.6 2826.5"/><path class="l" d="M1084 2820.8L1095.4 2826.5"/><path class="l" d="M1394 2820.8L1382.6 2826.5"/><path class="l" d="M1134.2 2540C1137.7 2547.4 1149 2570.2 1155.5 2584.4C1162 2598.6 1167.3 2610.5 1173.3 2625.3C1179.2 2640.1 1186 2657.9 1191 2673.3C1196.1 2688.7 1200.2 2702.9 1203.5 2717.7C1206.7 2732.5 1208.9 2748.5 1210.6 2762.1C1212.2 2775.8 1212.8 2793.2 1213.2 2799.5"/><path class="l" d="M1343.8 2540C1340.3 2547.4 1329 2570.2 1322.5 2584.4C1316 2598.6 1310.7 2610.5 1304.7 2625.3C1298.8 2640.1 1292 2657.9 1287 2673.3C1281.9 2688.7 1277.8 2702.9 1274.5 2717.7C1271.3 2732.5 1269.1 2748.5 1267.4 2762.1C1265.8 2775.8 1265.2 2793.2 1264.8 2799.5"/><path class="l" d="M1136.8 2540C1140.4 2547.4 1151.6 2570.2 1158.2 2584.4C1164.7 2598.6 1170 2610.5 1175.9 2625.3C1181.8 2640.1 1188.7 2657.9 1193.7 2673.3C1198.7 2688.7 1202.9 2702.9 1206.1 2717.7C1209.4 2732.5 1211.6 2748.8 1213.2 2762.1C1214.9 2775.5 1215.5 2791.8 1215.9 2797.7"/><path class="l" d="M1341.2 2540C1337.6 2547.4 1326.4 2570.2 1319.8 2584.4C1313.3 2598.6 1308 2610.5 1302.1 2625.3C1296.2 2640.1 1289.3 2657.9 1284.3 2673.3C1279.3 2688.7 1275.1 2702.9 1271.9 2717.7C1268.6 2732.5 1266.4 2748.8 1264.8 2762.1C1263.1 2775.5 1262.5 2791.8 1262.1 2797.7"/><path class="t" d="M1139.5 2540C1143 2547.4 1154.2 2570.2 1160.8 2584.4C1167.4 2598.6 1173 2610.5 1178.9 2625.3C1184.9 2640.1 1191.4 2657.9 1196.4 2673.3C1201.3 2688.7 1205.3 2702.9 1208.4 2717.7C1211.6 2732.5 1214.1 2754.7 1215.2 2762.1"/><path class="t" d="M1338.5 2540C1335 2547.4 1323.8 2570.2 1317.2 2584.4C1310.6 2598.6 1305 2610.5 1299.1 2625.3C1293.1 2640.1 1286.6 2657.9 1281.6 2673.3C1276.7 2688.7 1272.7 2702.9 1269.6 2717.7C1266.4 2732.5 1263.9 2754.7 1262.8 2762.1"/><path class="l" d="M1167.9 2540C1170.3 2547.4 1177.4 2569.6 1182.1 2584.4C1186.9 2599.2 1192.2 2611.7 1196.4 2628.9C1200.5 2646 1204.4 2672.7 1207 2687.5C1209.7 2702.3 1211.5 2712.7 1212.4 2717.7"/><path class="l" d="M1310.1 2540C1307.7 2547.4 1300.6 2569.6 1295.9 2584.4C1291.1 2599.2 1285.8 2611.7 1281.6 2628.9C1277.5 2646 1273.6 2672.7 1271 2687.5C1268.3 2702.3 1266.5 2712.7 1265.6 2717.7"/><path class="l" d="M1189.3 2540C1191.9 2551.8 1200.8 2590.4 1205.2 2611.1C1209.7 2631.8 1212.5 2646.9 1215.9 2664.4C1219.3 2681.9 1224.1 2707.3 1225.7 2715.9"/><path class="l" d="M1288.7 2540C1286.1 2551.8 1277.2 2590.4 1272.8 2611.1C1268.3 2631.8 1265.5 2646.9 1262.1 2664.4C1258.7 2681.9 1253.9 2707.3 1252.3 2715.9"/><path class="l" d="M1206.1 2687.5C1207.2 2691.4 1209.8 2704.1 1212.4 2710.6C1214.9 2717.1 1218.3 2723.5 1221.2 2726.6C1224.2 2729.7 1228.6 2728.8 1230.1 2729.3"/><path class="l" d="M1271.9 2687.5C1270.8 2691.4 1268.2 2704.1 1265.6 2710.6C1263.1 2717.1 1259.7 2723.5 1256.8 2726.6C1253.8 2729.7 1249.4 2728.8 1247.9 2729.3"/><path class="l" d="M1226 2540L1227.5 2811.9"/><path class="l" d="M1252 2540L1250.5 2811.9"/><path class="l" d="M1227.6 2540L1229.1 2811.9"/><path class="l" d="M1250.4 2540L1248.9 2811.9"/><path class="t" d="M1229.9 2540L1231.4 2811.9"/><path class="t" d="M1248.1 2540L1246.6 2811.9"/><path class="l" d="M1231.9 2540L1233.3 2811.9"/><path class="l" d="M1246.1 2540L1244.7 2811.9"/><path class="l" d="M1230.5 2540C1230.8 2547.4 1231.3 2572.9 1232.3 2584.4C1233.2 2596 1235.2 2604.6 1236.3 2609.3C1237.5 2614 1238.1 2612.5 1239 2612.5C1239.9 2612.5 1240.6 2614 1241.7 2609.3C1242.8 2604.6 1244.8 2596 1245.8 2584.4C1246.7 2572.9 1247.2 2547.4 1247.5 2540"/><path class="l" d="M1230.1 2795.9C1230.4 2790.3 1230.7 2771.6 1231.5 2762.1C1232.4 2752.7 1233.9 2743.8 1235.1 2739C1236.3 2734.3 1237.5 2733.7 1238.7 2733.7C1239.8 2733.7 1241 2734.3 1242.2 2739C1243.4 2743.8 1244.9 2752.7 1245.8 2762.1C1246.6 2771.6 1246.9 2790.3 1247.2 2795.9"/><path class="t" d="M1230.1 2735.5C1230.7 2734.7 1232.3 2732 1233.7 2731C1235.1 2730.1 1237 2729.8 1238.7 2729.8C1240.3 2729.8 1242.2 2730.1 1243.6 2731C1245.1 2732 1246.6 2734.7 1247.2 2735.5"/><path class="l" d="M1230.1 2729.3L1247.2 2729.3"/><path class="l" d="M1230.1 2792.4L1247.2 2792.4"/><ellipse class="h" cx="1238.7" cy="2813.7" rx="12.5" ry="7.2"/><ellipse class="l" cx="1238.7" cy="2813.7" rx="10.3" ry="5.6"/><ellipse class="l" cx="1238.7" cy="2813.7" rx="7.6" ry="3.8"/><path class="l" d="M1254.2 2812.4A16.5 9.5 0 1 1 1223.2 2812.4"/><path class="l" d="M1258.7 2816.7A20 11.5 0 0 1 1218.7 2816.7"/><path class="l" d="M1185.7 2803.9C1187.8 2804.3 1194.7 2804.4 1198.1 2806.2C1201.5 2808 1203.8 2812 1206.1 2814.6C1208.5 2817.1 1210.3 2820 1212.4 2821.7C1214.4 2823.3 1217.5 2823.9 1218.6 2824.3"/><path class="l" d="M1292.3 2803.9C1290.2 2804.3 1283.3 2804.4 1279.9 2806.2C1276.5 2808 1274.2 2812 1271.9 2814.6C1269.5 2817.1 1267.7 2820 1265.6 2821.7C1263.6 2823.3 1260.5 2823.9 1259.4 2824.3"/><path class="l" d="M1185.7 2807.5C1187.5 2807.9 1193.3 2808.3 1196.4 2810.1C1199.4 2811.9 1201.5 2815.5 1203.8 2818.1C1206.2 2820.8 1208.1 2824.3 1210.6 2826.1C1213 2827.9 1217.2 2828.3 1218.6 2828.8"/><path class="l" d="M1292.3 2807.5C1290.5 2807.9 1284.7 2808.3 1281.6 2810.1C1278.6 2811.9 1276.5 2815.5 1274.2 2818.1C1271.8 2820.8 1269.9 2824.3 1267.4 2826.1C1265 2827.9 1260.8 2828.3 1259.4 2828.8"/><path class="l" d="M1185.7 2803.9L1185.7 2807.5"/><path class="l" d="M1292.3 2803.9L1292.3 2807.5"/><path class="l" d="M1185.7 2818.1C1187.8 2818.5 1194.7 2818.7 1198.1 2820.4C1201.5 2822.2 1203.8 2826.2 1206.1 2828.8C1208.5 2831.4 1210.3 2834.3 1212.4 2835.9C1214.4 2837.5 1217.5 2838.1 1218.6 2838.6"/><path class="l" d="M1292.3 2818.1C1290.2 2818.5 1283.3 2818.7 1279.9 2820.4C1276.5 2822.2 1274.2 2826.2 1271.9 2828.8C1269.5 2831.4 1267.7 2834.3 1265.6 2835.9C1263.6 2837.5 1260.5 2838.1 1259.4 2838.6"/><path class="l" d="M1185.7 2821.7C1187.5 2822.1 1193.3 2822.6 1196.4 2824.3C1199.4 2826.1 1201.5 2829.7 1203.8 2832.3C1206.2 2835 1208.1 2838.6 1210.6 2840.3C1213 2842.1 1217.2 2842.6 1218.6 2843"/><path class="l" d="M1292.3 2821.7C1290.5 2822.1 1284.7 2822.6 1281.6 2824.3C1278.6 2826.1 1276.5 2829.7 1274.2 2832.3C1271.8 2835 1269.9 2838.6 1267.4 2840.3C1265 2842.1 1260.8 2842.6 1259.4 2843"/><path class="l" d="M1185.7 2818.1L1185.7 2821.7"/><path class="l" d="M1292.3 2818.1L1292.3 2821.7"/><path class="l" d="M1185.7 2833.2C1187.8 2833.6 1194.7 2833.8 1198.1 2835.5C1201.5 2837.3 1203.8 2841.3 1206.1 2843.9C1208.5 2846.5 1210.3 2849.4 1212.4 2851C1214.4 2852.6 1217.5 2853.2 1218.6 2853.7"/><path class="l" d="M1292.3 2833.2C1290.2 2833.6 1283.3 2833.8 1279.9 2835.5C1276.5 2837.3 1274.2 2841.3 1271.9 2843.9C1269.5 2846.5 1267.7 2849.4 1265.6 2851C1263.6 2852.6 1260.5 2853.2 1259.4 2853.7"/><path class="l" d="M1185.7 2836.8C1187.5 2837.2 1193.3 2837.7 1196.4 2839.4C1199.4 2841.2 1201.5 2844.8 1203.8 2847.4C1206.2 2850.1 1208.1 2853.7 1210.6 2855.4C1213 2857.2 1217.2 2857.7 1218.6 2858.1"/><path class="l" d="M1292.3 2836.8C1290.5 2837.2 1284.7 2837.7 1281.6 2839.4C1278.6 2841.2 1276.5 2844.8 1274.2 2847.4C1271.8 2850.1 1269.9 2853.7 1267.4 2855.4C1265 2857.2 1260.8 2857.7 1259.4 2858.1"/><path class="l" d="M1185.7 2833.2L1185.7 2836.8"/><path class="l" d="M1292.3 2833.2L1292.3 2836.8"/><path class="l" d="M1212.4 2799.5C1212.5 2803.6 1213.2 2814.3 1213.2 2824.3C1213.2 2834.4 1212.2 2851.6 1212.4 2859.9C1212.5 2868.2 1212.4 2872.6 1214.1 2874.1C1215.9 2875.6 1220.2 2872 1223 2868.8C1225.8 2865.5 1229.1 2860 1231 2854.6C1232.9 2849.1 1234 2839 1234.6 2835.9"/><path class="l" d="M1265.6 2799.5C1265.5 2803.6 1264.8 2814.3 1264.8 2824.3C1264.8 2834.4 1265.8 2851.6 1265.6 2859.9C1265.5 2868.2 1265.6 2872.6 1263.9 2874.1C1262.1 2875.6 1257.8 2872 1255 2868.8C1252.2 2865.5 1248.9 2860 1247 2854.6C1245.1 2849.1 1244 2839 1243.4 2835.9"/><path class="l" d="M1234.6 2835.9C1234.7 2838.1 1234.8 2846.4 1235.5 2849.2C1236.1 2852 1237.5 2852.8 1238.7 2852.8C1239.8 2852.8 1241.5 2852 1242.2 2849.2C1242.9 2846.4 1242.8 2838.1 1242.9 2835.9"/><path class="l" d="M1234.6 2835.9L1242.9 2835.9"/><path class="h" d="M1469.6 2372.4L1489.2 2372.4L1491 2375.9L1490.2 2393.7L1480.3 2396.2L1480.3 2384.8"/><path class="l" d="M1465.4 2384.8C1466.1 2383.5 1467.6 2378.2 1469.6 2377C1471.6 2375.8 1475.6 2376.4 1477.4 2377.7C1479.3 2379 1481.1 2382.5 1481 2384.8C1480.9 2387.2 1478.8 2390.9 1476.7 2391.9C1474.7 2393 1470.8 2392.4 1468.9 2391.2C1467 2390 1466 2385.9 1465.4 2384.8"/><path class="l" d="M1480.3 2377.7L1489.2 2378.8"/><path class="l" d="M1482.1 2384.8L1490.2 2385.9"/><path class="l" d="M1462.5 2399.1L1465.4 2416.8L1473.2 2409.7L1475 2397.3"/><path class="l" d="M1405.6 2813.7L1407.4 2820.8L1414.5 2819L1418.1 2804.8L1415.6 2799.5"/><circle cx="1472.5" cy="2512.8" r="1.6" fill="#222"/></g>
<g id="rods"><ellipse cx="700.8" cy="2128.8" rx="16.8" ry="10.6" fill="#fff" stroke="#111" stroke-width="2.8"/><path d="M683.4 2129.8v2.2A17.4 10.8 0 0 0 718.2 2132v-2.2" fill="none" stroke="#111" stroke-width="1.5"/><g transform="translate(1401.6 0) scale(-1 1)"><path d="M707.3 2118.8L685.3 2130.3" stroke="#111" stroke-width="2.6" fill="none"/><path d="M707 2121.8L688.8 2131.3" stroke="#111" stroke-width="1.2" fill="none"/><path d="M705 2118.8v20M707.4 2118.8v19.5" stroke="#111" stroke-width="1.4" fill="none"/></g><path d="M697.4 2142.3v6.5h6.8v-6.5" fill="#fff" stroke="#111" stroke-width="1.4"/><ellipse cx="933.4" cy="2375.6" rx="16.8" ry="10.6" fill="#fff" stroke="#111" stroke-width="2.8"/><path d="M916 2376.6v2.2A17.4 10.8 0 0 0 950.8 2378.8v-2.2" fill="none" stroke="#111" stroke-width="1.5"/><path d="M919.9 2373.6Q933.4 2384.6 946.9 2373.6" fill="none" stroke="#111" stroke-width="1.4"/><path d="M919.9 2372.1L929.4 2365.6M946.9 2372.1L938.4 2365.6" stroke="#111" stroke-width="1.8" fill="none"/><rect x="932.2" y="2363.6" width="2.6" height="21" fill="#fff"/><path d="M930.7 2366.1V2385.4" stroke="#0a0a0a" stroke-width="3" fill="none"/><path d="M936.5 2366.1V2385.4" stroke="#0a0a0a" stroke-width="3.4" fill="none"/><path d="M930 2389.1v6.5h6.8v-6.5" fill="#fff" stroke="#111" stroke-width="1.4"/><ellipse cx="1539.6" cy="1961.5" rx="16.8" ry="10.6" fill="#fff" stroke="#111" stroke-width="2.8"/><path d="M1522.2 1962.5v2.2A17.4 10.8 0 0 0 1557 1964.7v-2.2" fill="none" stroke="#111" stroke-width="1.5"/><path d="M1526.1 1959.5Q1539.6 1970.5 1553.1 1959.5" fill="none" stroke="#111" stroke-width="1.4"/><path d="M1526.1 1958L1535.6 1951.5M1553.1 1958L1544.6 1951.5" stroke="#111" stroke-width="1.8" fill="none"/><rect x="1538.4" y="1949.5" width="2.6" height="21" fill="#fff"/><path d="M1536.9 1946.7V1978.2" stroke="#0a0a0a" stroke-width="3" fill="none"/><path d="M1542.7 1946.7V1978.2" stroke="#0a0a0a" stroke-width="3.4" fill="none"/><ellipse cx="1785.3" cy="2164.3" rx="16.8" ry="10.6" fill="#fff" stroke="#111" stroke-width="2.8"/><path d="M1767.9 2165.3v2.2A17.4 10.8 0 0 0 1802.7 2167.5v-2.2" fill="none" stroke="#111" stroke-width="1.5"/><g><path d="M1791.8 2154.3L1769.8 2165.8" stroke="#111" stroke-width="2.6" fill="none"/><path d="M1791.5 2157.3L1773.3 2166.8" stroke="#111" stroke-width="1.2" fill="none"/><path d="M1789.5 2154.3v20M1791.9 2154.3v19.5" stroke="#111" stroke-width="1.4" fill="none"/></g><path d="M1781.9 2177.8v6.5h6.8v-6.5" fill="#fff" stroke="#111" stroke-width="1.4"/><path d="M698.5 2205.2V2525.6M703.1 2205.2V2525.6" stroke="#222" stroke-width="1.2" fill="none"/><ellipse cx="700.8" cy="2186.2" rx="16.8" ry="10.6" fill="#fff" stroke="#111" stroke-width="2.8"/><path d="M683.4 2187.2v2.2A17.4 10.8 0 0 0 718.2 2189.4v-2.2" fill="none" stroke="#111" stroke-width="1.5"/><g transform="translate(1401.6 0) scale(-1 1)"><path d="M707.3 2176.2L685.3 2187.7" stroke="#111" stroke-width="2.6" fill="none"/><path d="M707 2179.2L688.8 2188.7" stroke="#111" stroke-width="1.2" fill="none"/><path d="M705 2176.2v20M707.4 2176.2v19.5" stroke="#111" stroke-width="1.4" fill="none"/></g><path d="M697.4 2200.2v6h6.8v-6" fill="#fff" stroke="#111" stroke-width="1.4"/><path d="M683.4 2575.6L682.8 2623.4A18 7.5 0 0 0 718.8 2623.4L718.2 2575.6Z" fill="#fff" stroke="none"/><path d="M683.4 2577.6L682.8 2623.4M718.2 2577.6L718.8 2623.4" stroke="#444" stroke-width="1.1" fill="none"/><path d="M682.8 2623.4A18 7.5 0 0 0 718.8 2623.4" class="l"/><path d="M684.4 2543.6A16.4 6.5 0 0 1 717.2 2543.6L718 2573.6A17.2 6.7 0 0 1 683.6 2573.6Z" class="w"/><path d="M684.3 2547.6A16.5 6.3 0 0 0 717.3 2547.6" class="l"/><path d="M684.2 2549.9A16.6 6.3 0 0 0 717.4 2549.9" class="l"/><path d="M683.5 2576.5A17.3 6.7 0 0 0 718.1 2576.5" class="l"/><ellipse cx="700.8" cy="2541.3" rx="6.7" ry="2.3" class="w"/><path d="M696.9 2525.6L694.8 2540.8A6 2 0 0 0 706.8 2540.8L704.7 2525.6Z" class="w"/><rect x="697.8" y="2525.1" width="6" height="2.2" fill="#222"/><path d="M931.1 2460.4V2780.4M935.7 2460.4V2780.4" stroke="#222" stroke-width="1.2" fill="none"/><ellipse cx="933.4" cy="2441.4" rx="16.8" ry="10.6" fill="#fff" stroke="#111" stroke-width="2.8"/><path d="M916 2442.4v2.2A17.4 10.8 0 0 0 950.8 2444.6v-2.2" fill="none" stroke="#111" stroke-width="1.5"/><path d="M919.9 2439.4Q933.4 2450.4 946.9 2439.4" fill="none" stroke="#111" stroke-width="1.4"/><path d="M919.9 2437.9L929.4 2431.4M946.9 2437.9L938.4 2431.4" stroke="#111" stroke-width="1.8" fill="none"/><rect x="932.2" y="2429.4" width="2.6" height="21" fill="#fff"/><path d="M930.7 2431.9V2451.2" stroke="#0a0a0a" stroke-width="3" fill="none"/><path d="M936.5 2431.9V2451.2" stroke="#0a0a0a" stroke-width="3.4" fill="none"/><path d="M930 2455.4v6h6.8v-6" fill="#fff" stroke="#111" stroke-width="1.4"/><path d="M916 2830.4L915.4 2878.2A18 7.5 0 0 0 951.4 2878.2L950.8 2830.4Z" fill="#fff" stroke="none"/><path d="M916 2832.4L915.4 2878.2M950.8 2832.4L951.4 2878.2" stroke="#444" stroke-width="1.1" fill="none"/><path d="M915.4 2878.2A18 7.5 0 0 0 951.4 2878.2" class="l"/><path d="M917 2798.4A16.4 6.5 0 0 1 949.8 2798.4L950.6 2828.4A17.2 6.7 0 0 1 916.2 2828.4Z" class="w"/><path d="M916.9 2802.4A16.5 6.3 0 0 0 949.9 2802.4" class="l"/><path d="M916.8 2804.7A16.6 6.3 0 0 0 950 2804.7" class="l"/><path d="M916.1 2831.3A17.3 6.7 0 0 0 950.7 2831.3" class="l"/><ellipse cx="933.4" cy="2796.1" rx="6.7" ry="2.3" class="w"/><path d="M929.5 2780.4L927.4 2795.6A6 2 0 0 0 939.4 2795.6L937.3 2780.4Z" class="w"/><rect x="930.4" y="2779.9" width="6" height="2.2" fill="#222"/><path d="M1537.3 2050.5V2371.5M1541.9 2050.5V2371.5" stroke="#222" stroke-width="1.2" fill="none"/><ellipse cx="1539.6" cy="2031.5" rx="16.8" ry="10.6" fill="#fff" stroke="#111" stroke-width="2.8"/><path d="M1522.2 2032.5v2.2A17.4 10.8 0 0 0 1557 2034.7v-2.2" fill="none" stroke="#111" stroke-width="1.5"/><path d="M1526.1 2029.5Q1539.6 2040.5 1553.1 2029.5" fill="none" stroke="#111" stroke-width="1.4"/><path d="M1526.1 2028L1535.6 2021.5M1553.1 2028L1544.6 2021.5" stroke="#111" stroke-width="1.8" fill="none"/><rect x="1538.4" y="2019.5" width="2.6" height="21" fill="#fff"/><path d="M1536.9 2016.7V2048.2" stroke="#0a0a0a" stroke-width="3" fill="none"/><path d="M1542.7 2016.7V2048.2" stroke="#0a0a0a" stroke-width="3.4" fill="none"/><path d="M1536.2 2045.5v6h6.8v-6" fill="#fff" stroke="#111" stroke-width="1.4"/><path d="M1522.2 2421.5L1521.6 2469.3A18 7.5 0 0 0 1557.6 2469.3L1557 2421.5Z" fill="#fff" stroke="none"/><path d="M1522.2 2423.5L1521.6 2469.3M1557 2423.5L1557.6 2469.3" stroke="#444" stroke-width="1.1" fill="none"/><path d="M1521.6 2469.3A18 7.5 0 0 0 1557.6 2469.3" class="l"/><path d="M1523.2 2389.5A16.4 6.5 0 0 1 1556 2389.5L1556.8 2419.5A17.2 6.7 0 0 1 1522.4 2419.5Z" class="w"/><path d="M1523.1 2393.5A16.5 6.3 0 0 0 1556.1 2393.5" class="l"/><path d="M1523 2395.8A16.6 6.3 0 0 0 1556.2 2395.8" class="l"/><path d="M1522.3 2422.4A17.3 6.7 0 0 0 1556.9 2422.4" class="l"/><ellipse cx="1539.6" cy="2387.2" rx="6.7" ry="2.3" class="w"/><path d="M1535.7 2371.5L1533.6 2386.7A6 2 0 0 0 1545.6 2386.7L1543.5 2371.5Z" class="w"/><rect x="1536.6" y="2371" width="6" height="2.2" fill="#222"/><path d="M1783.2 2251V2570.9M1787.8 2251V2570.9" stroke="#222" stroke-width="1.2" fill="none"/><ellipse cx="1785.5" cy="2232" rx="16.8" ry="10.6" fill="#fff" stroke="#111" stroke-width="2.8"/><path d="M1768.1 2233v2.2A17.4 10.8 0 0 0 1802.9 2235.2v-2.2" fill="none" stroke="#111" stroke-width="1.5"/><g><path d="M1792 2222L1770 2233.5" stroke="#111" stroke-width="2.6" fill="none"/><path d="M1791.7 2225L1773.5 2234.5" stroke="#111" stroke-width="1.2" fill="none"/><path d="M1789.7 2222v20M1792.1 2222v19.5" stroke="#111" stroke-width="1.4" fill="none"/></g><path d="M1782.1 2246v6h6.8v-6" fill="#fff" stroke="#111" stroke-width="1.4"/><path d="M1768.1 2620.9L1767.5 2668.7A18 7.5 0 0 0 1803.5 2668.7L1802.9 2620.9Z" fill="#fff" stroke="none"/><path d="M1768.1 2622.9L1767.5 2668.7M1802.9 2622.9L1803.5 2668.7" stroke="#444" stroke-width="1.1" fill="none"/><path d="M1767.5 2668.7A18 7.5 0 0 0 1803.5 2668.7" class="l"/><path d="M1769.1 2588.9A16.4 6.5 0 0 1 1801.9 2588.9L1802.7 2618.9A17.2 6.7 0 0 1 1768.3 2618.9Z" class="w"/><path d="M1769 2592.9A16.5 6.3 0 0 0 1802 2592.9" class="l"/><path d="M1768.9 2595.2A16.6 6.3 0 0 0 1802.1 2595.2" class="l"/><path d="M1768.2 2621.8A17.3 6.7 0 0 0 1802.8 2621.8" class="l"/><ellipse cx="1785.5" cy="2586.6" rx="6.7" ry="2.3" class="w"/><path d="M1781.6 2570.9L1779.5 2586.1A6 2 0 0 0 1791.5 2586.1L1789.4 2570.9Z" class="w"/><rect x="1782.5" y="2570.4" width="6" height="2.2" fill="#222"/><circle cx="1069.5" cy="2880.9" r="7" fill="#fff" stroke="#111" stroke-width="1.5"/><ellipse cx="1065" cy="2882.4" rx="3" ry="7" transform="rotate(-18 1065 2882.4)" fill="none" stroke="#111" stroke-width="1.4"/><path d="M1064 2871.9L1066 2890.9" stroke="#111" stroke-width="1.4"/><circle cx="1064.5" cy="2872.9" r="1.3" fill="none" stroke="#111" stroke-width="1"/></g>
<g id="labels"><text x="1490.7" y="471.8" font-size="38.5">221</text><path class="ld" d="M1491.5 473.5L1439.5 503.5"/><text x="913.6" y="766.4" font-size="38.5">1141</text><path class="ld" d="M996.6 766.2L1036.3 790.5"/><text x="1508.6" y="829.5" font-size="38.5">206</text><path class="ld" d="M1506.5 830.9L1448.9 864.3"/><text x="1136.6" y="1116.3" font-size="38.5">492</text><path class="ld" d="M1196 1120L1243 1146"/><text x="1437.9" y="1121.6" font-size="38.5">182</text><path class="ld" d="M1440 1125L1392 1151"/><text x="1433.7" y="1211.7" font-size="38.5">227</text><path class="ld" d="M1432 1215L1385 1241"/><text x="1055.2" y="1342.3" font-size="38.5">179</text><path class="ld" d="M1116 1344L1157 1367"/><text x="1468.7" y="1440.8" font-size="38.5">209</text><path class="ld" d="M1467.6 1443.4L1425.9 1466.2"/><text x="1558.4" y="1588.5" font-size="38.5">218</text><path class="ld" d="M1556.2 1589.5L1516 1611.6"/><text x="1557" y="1645.9" font-size="38.5">204</text><path class="ld" d="M1554.2 1645.9L1513.9 1668.4"/><text x="1481.1" y="1797.8" font-size="38.5">210</text><path class="ld" d="M1481.6 1799.4L1439.3 1822.2"/><text x="893.3" y="1852.3" font-size="38.5">487</text><path class="ld" d="M952.7 1853.3L994.8 1878.6"/><text x="1523.9" y="1855.4" font-size="38.5">487</text><path class="ld" d="M1529.9 1856.4L1488.6 1880"/><text x="1590.2" y="1928.9" font-size="38.5">197</text><path class="ld" d="M1596.4 1930.3L1556.1 1953.1"/><text x="1386.6" y="2058.1" font-size="38.5">212</text><path class="ld" d="M1386.9 2060.6L1346.6 2084.3"/><text x="954.8" y="2079.1" font-size="38.5">1112</text><path class="ld" d="M1038 2081.7L1079.1 2104.4"/><text x="1591.2" y="2078.4" font-size="38.5">188</text><path class="ld" d="M1596.4 2080.4L1545 2109"/><text x="584.1" y="2097.6" font-size="38.5">197</text><path class="ld" d="M642.1 2099.2L683.9 2122.5"/><text x="1838.2" y="2135.6" font-size="38.5">197</text><path class="ld" d="M1844 2137L1802 2160"/><text x="1387.1" y="2158.2" font-size="38.5">1112</text><path class="ld" d="M1391.9 2159.3L1351.6 2181.4"/><text x="944.9" y="2203.4" font-size="38.5">203</text><path class="ld" d="M1005.4 2205.1L1047.5 2228.7"/><text x="580.3" y="2272" font-size="38.5">185</text><path class="ld" d="M643.7 2275.1L691 2301.6"/><text x="1833.4" y="2272.6" font-size="38.5">188</text><path class="ld" d="M1838 2275L1792 2301"/><text x="814.5" y="2347.7" font-size="38.5">197</text><path class="ld" d="M871.7 2346.8L912.2 2370.7"/><text x="806.5" y="2552.3" font-size="38.5">185</text><path class="ld" d="M870.8 2551.5L924.2 2582.7"/><text x="1539.8" y="2615.2" font-size="38.5">173</text><path class="ld" d="M1543 2616L1489 2646"/><text x="1131.2" y="2944" font-size="38.5">25</text><path class="ld" d="M1130.7 2916.9L1078 2887.3"/></g>
</svg>
</body></html>
